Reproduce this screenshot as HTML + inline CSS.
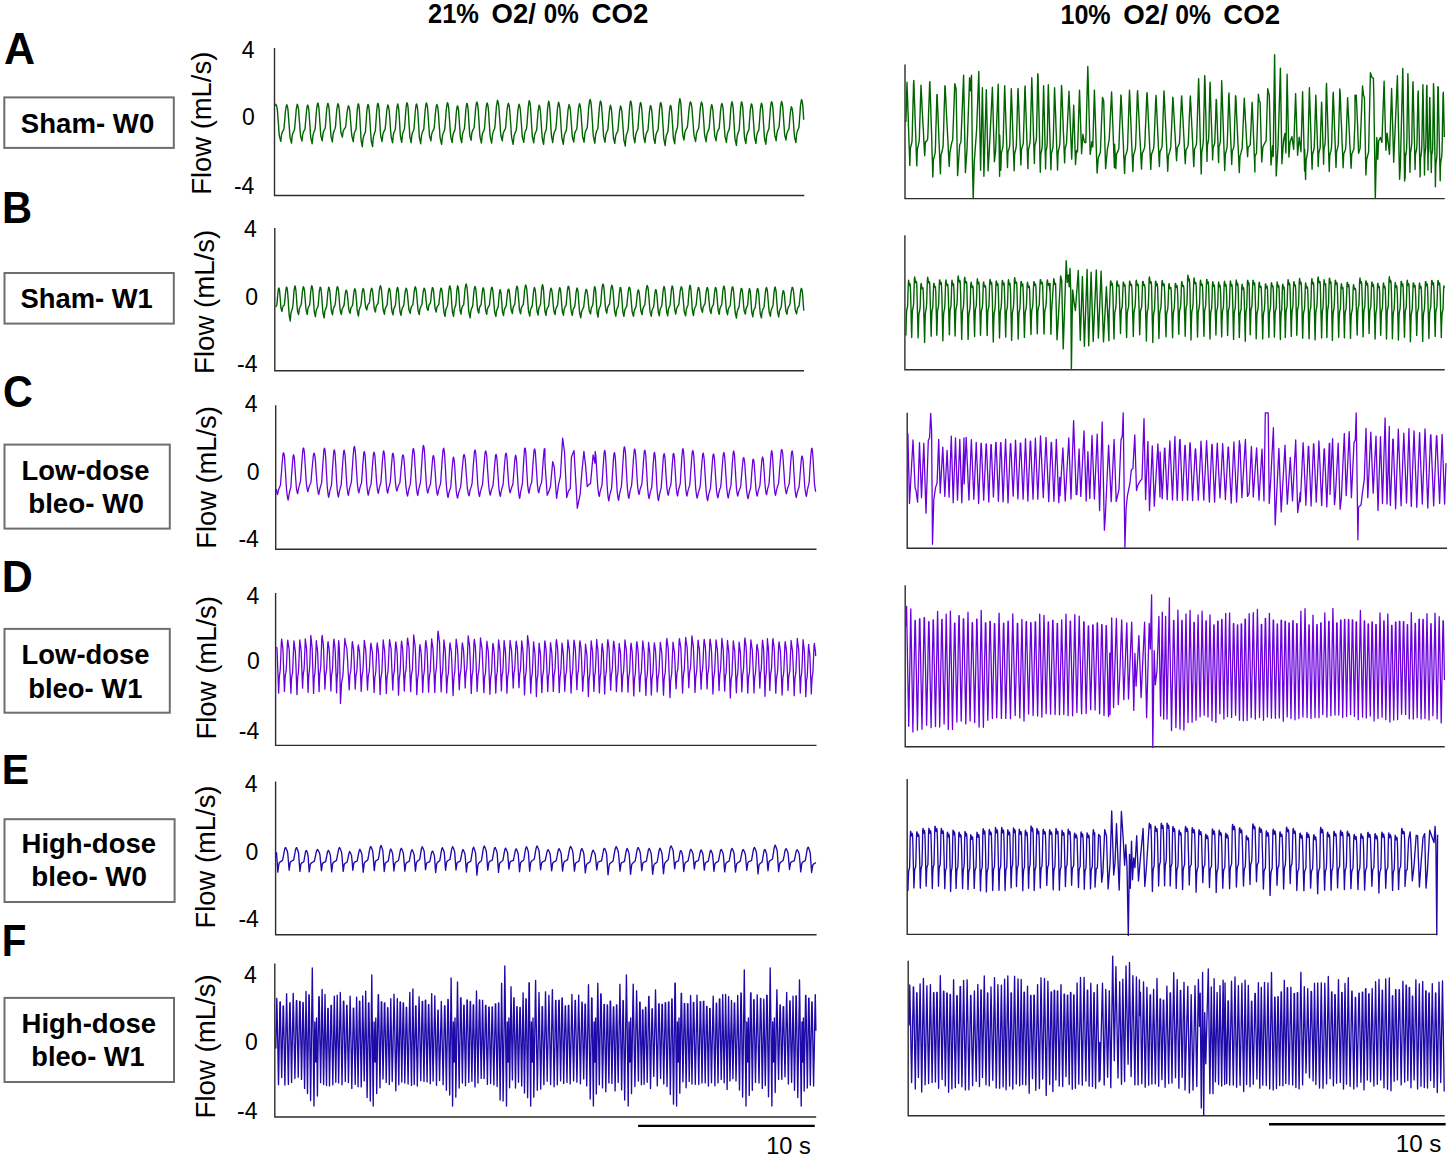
<!DOCTYPE html>
<html><head><meta charset="utf-8"><style>
html,body{margin:0;padding:0;background:#fff;}
svg{display:block;font-family:"Liberation Sans",sans-serif;}
</style></head><body>
<svg width="1450" height="1157" viewBox="0 0 1450 1157">
<rect width="1450" height="1157" fill="#fff"/>
<text x="428.01" y="22.80" font-size="27.5" font-weight="bold" textLength="50.97" lengthAdjust="spacingAndGlyphs" fill="#000" xml:space="preserve">21%</text>
<text x="491.60" y="22.80" font-size="27.5" font-weight="bold" textLength="44.26" lengthAdjust="spacingAndGlyphs" fill="#000" xml:space="preserve">O2/</text>
<text x="543.73" y="22.80" font-size="27.5" font-weight="bold" textLength="34.94" lengthAdjust="spacingAndGlyphs" fill="#000" xml:space="preserve">0%</text>
<text x="591.59" y="22.80" font-size="27.5" font-weight="bold" textLength="56.88" lengthAdjust="spacingAndGlyphs" fill="#000" xml:space="preserve">CO2</text>
<text x="1060.43" y="24.00" font-size="27.5" font-weight="bold" textLength="50.23" lengthAdjust="spacingAndGlyphs" fill="#000" xml:space="preserve">10%</text>
<text x="1123.29" y="24.00" font-size="27.5" font-weight="bold" textLength="44.57" lengthAdjust="spacingAndGlyphs" fill="#000" xml:space="preserve">O2/</text>
<text x="1175.22" y="24.00" font-size="27.5" font-weight="bold" textLength="35.57" lengthAdjust="spacingAndGlyphs" fill="#000" xml:space="preserve">0%</text>
<text x="1223.30" y="24.00" font-size="27.5" font-weight="bold" textLength="56.77" lengthAdjust="spacingAndGlyphs" fill="#000" xml:space="preserve">CO2</text>
<g transform="translate(5.1,64.5) scale(1.0,1.05) translate(-5.1,-64.5)">
<text x="4.02" y="64.50" font-size="43" font-weight="bold" fill="#000" xml:space="preserve">A</text>
</g>
<g transform="translate(4.8,223.5) scale(0.97,1.04) translate(-4.8,-223.5)">
<text x="1.90" y="223.50" font-size="43" font-weight="bold" fill="#000" xml:space="preserve">B</text>
</g>
<g transform="translate(4.6,407.0) scale(0.96,1.02) translate(-4.6,-407.0)">
<text x="2.88" y="407.00" font-size="43" font-weight="bold" fill="#000" xml:space="preserve">C</text>
</g>
<g transform="translate(4.6,592.0) scale(1.0,1.02) translate(-4.6,-592.0)">
<text x="1.70" y="592.00" font-size="43" font-weight="bold" fill="#000" xml:space="preserve">D</text>
</g>
<g transform="translate(4.6,783.6) scale(0.955,1.0) translate(-4.6,-783.6)">
<text x="1.70" y="783.60" font-size="43" font-weight="bold" fill="#000" xml:space="preserve">E</text>
</g>
<g transform="translate(4.6,956.5) scale(0.94,1.03) translate(-4.6,-956.5)">
<text x="1.70" y="956.50" font-size="43" font-weight="bold" fill="#000" xml:space="preserve">F</text>
</g>
<rect x="4.30" y="97.40" width="169.50" height="50.50" fill="none" stroke="#6e6e6e" stroke-width="2"/>
<rect x="4.50" y="273.00" width="169.30" height="50.60" fill="none" stroke="#6e6e6e" stroke-width="2"/>
<rect x="4.50" y="444.60" width="165.30" height="84.00" fill="none" stroke="#6e6e6e" stroke-width="2"/>
<rect x="4.50" y="628.90" width="165.30" height="83.80" fill="none" stroke="#6e6e6e" stroke-width="2"/>
<rect x="4.50" y="819.20" width="170.10" height="82.80" fill="none" stroke="#6e6e6e" stroke-width="2"/>
<rect x="4.50" y="997.90" width="169.50" height="84.10" fill="none" stroke="#6e6e6e" stroke-width="2"/>
<text x="20.87" y="132.90" font-size="27.5" font-weight="bold" textLength="133.38" lengthAdjust="spacingAndGlyphs" fill="#000" xml:space="preserve">Sham- W0</text>
<text x="20.48" y="308.00" font-size="27.5" font-weight="bold" textLength="132.32" lengthAdjust="spacingAndGlyphs" fill="#000" xml:space="preserve">Sham- W1</text>
<text x="21.55" y="479.60" font-size="27.5" font-weight="bold" textLength="127.99" lengthAdjust="spacingAndGlyphs" fill="#000" xml:space="preserve">Low-dose</text>
<text x="28.19" y="513.10" font-size="27.5" font-weight="bold" textLength="115.76" lengthAdjust="spacingAndGlyphs" fill="#000" xml:space="preserve">bleo- W0</text>
<text x="21.55" y="664.20" font-size="27.5" font-weight="bold" textLength="127.99" lengthAdjust="spacingAndGlyphs" fill="#000" xml:space="preserve">Low-dose</text>
<text x="28.22" y="698.00" font-size="27.5" font-weight="bold" textLength="114.28" lengthAdjust="spacingAndGlyphs" fill="#000" xml:space="preserve">bleo- W1</text>
<text x="21.54" y="853.20" font-size="27.5" font-weight="bold" textLength="134.59" lengthAdjust="spacingAndGlyphs" fill="#000" xml:space="preserve">High-dose</text>
<text x="31.29" y="886.30" font-size="27.5" font-weight="bold" textLength="115.76" lengthAdjust="spacingAndGlyphs" fill="#000" xml:space="preserve">bleo- W0</text>
<text x="21.54" y="1032.80" font-size="27.5" font-weight="bold" textLength="134.59" lengthAdjust="spacingAndGlyphs" fill="#000" xml:space="preserve">High-dose</text>
<text x="31.33" y="1065.90" font-size="27.5" font-weight="bold" textLength="113.26" lengthAdjust="spacingAndGlyphs" fill="#000" xml:space="preserve">bleo- W1</text>
<text transform="translate(210.99,194.86) rotate(-90)" x="0" y="0" font-size="27.3" textLength="143.20" lengthAdjust="spacingAndGlyphs" xml:space="preserve">Flow (mL/s)</text>
<text transform="translate(214.29,373.98) rotate(-90)" x="0" y="0" font-size="27.3" textLength="144.23" lengthAdjust="spacingAndGlyphs" xml:space="preserve">Flow (mL/s)</text>
<text transform="translate(215.79,548.75) rotate(-90)" x="0" y="0" font-size="27.3" textLength="142.59" lengthAdjust="spacingAndGlyphs" xml:space="preserve">Flow (mL/s)</text>
<text transform="translate(216.39,739.57) rotate(-90)" x="0" y="0" font-size="27.3" textLength="143.61" lengthAdjust="spacingAndGlyphs" xml:space="preserve">Flow (mL/s)</text>
<text transform="translate(215.29,928.46) rotate(-90)" x="0" y="0" font-size="27.3" textLength="142.89" lengthAdjust="spacingAndGlyphs" xml:space="preserve">Flow (mL/s)</text>
<text transform="translate(215.29,1118.48) rotate(-90)" x="0" y="0" font-size="27.3" textLength="144.23" lengthAdjust="spacingAndGlyphs" xml:space="preserve">Flow (mL/s)</text>
<text x="241.87" y="58.00" font-size="23" font-weight="normal">4</text>
<text x="242.10" y="125.40" font-size="23" font-weight="normal">0</text>
<text x="233.92" y="193.50" font-size="23" font-weight="normal">-4</text>
<text x="243.97" y="237.00" font-size="23" font-weight="normal">4</text>
<text x="245.30" y="304.60" font-size="23" font-weight="normal">0</text>
<text x="237.02" y="372.00" font-size="23" font-weight="normal">-4</text>
<text x="244.87" y="412.30" font-size="23" font-weight="normal">4</text>
<text x="246.70" y="479.80" font-size="23" font-weight="normal">0</text>
<text x="238.42" y="547.10" font-size="23" font-weight="normal">-4</text>
<text x="246.47" y="603.60" font-size="23" font-weight="normal">4</text>
<text x="246.90" y="669.30" font-size="23" font-weight="normal">0</text>
<text x="238.82" y="738.60" font-size="23" font-weight="normal">-4</text>
<text x="244.87" y="791.80" font-size="23" font-weight="normal">4</text>
<text x="245.60" y="859.50" font-size="23" font-weight="normal">0</text>
<text x="238.42" y="926.80" font-size="23" font-weight="normal">-4</text>
<text x="244.07" y="983.00" font-size="23" font-weight="normal">4</text>
<text x="245.00" y="1049.70" font-size="23" font-weight="normal">0</text>
<text x="237.12" y="1118.70" font-size="23" font-weight="normal">-4</text>
<path d="M274.50 48.00V195.50H804.30" fill="none" stroke="#2d2d2d" stroke-width="1.4"/>
<path d="M274.80 228.00V370.80H804.10" fill="none" stroke="#2d2d2d" stroke-width="1.4"/>
<path d="M275.70 405.30V549.20H816.50" fill="none" stroke="#2d2d2d" stroke-width="1.4"/>
<path d="M275.60 593.00V745.40H816.50" fill="none" stroke="#2d2d2d" stroke-width="1.4"/>
<path d="M275.60 781.40V934.80H816.60" fill="none" stroke="#2d2d2d" stroke-width="1.4"/>
<path d="M274.80 963.50V1117.00H816.20" fill="none" stroke="#2d2d2d" stroke-width="1.4"/>
<path d="M905.00 64.40V198.60H1444.70" fill="none" stroke="#2d2d2d" stroke-width="1.4"/>
<path d="M904.90 235.30V369.70H1444.70" fill="none" stroke="#2d2d2d" stroke-width="1.4"/>
<path d="M907.20 412.80V548.30H1447.00" fill="none" stroke="#2d2d2d" stroke-width="1.4"/>
<path d="M905.20 585.20V746.80H1444.70" fill="none" stroke="#2d2d2d" stroke-width="1.4"/>
<path d="M907.20 778.90V934.40H1437.20" fill="none" stroke="#2d2d2d" stroke-width="1.4"/>
<path d="M908.20 960.70V1115.70H1444.70" fill="none" stroke="#2d2d2d" stroke-width="1.4"/>
<path d="M638.1 1125.9H814.8M1269 1124.3H1445.6" stroke="#000" stroke-width="2.4"/>
<text x="766.23" y="1153.60" font-size="23.5" font-weight="normal" textLength="44.60" lengthAdjust="spacingAndGlyphs" fill="#000" xml:space="preserve">10 s</text>
<text x="1395.79" y="1151.70" font-size="23.5" font-weight="normal" textLength="45.66" lengthAdjust="spacingAndGlyphs" fill="#000" xml:space="preserve">10 s</text>
<path d="M275.6 106.0 275.9 104.2 276.3 105.0 276.6 105.8 277.0 107.5 277.3 109.5 277.7 113.9 278.0 118.6 278.4 123.2 278.7 127.9 279.0 132.6 279.4 136.1 279.7 137.4 280.1 138.8 280.4 140.1 280.8 141.4 281.1 138.6 281.4 135.7 281.8 133.7 282.1 132.8 282.4 132.0 282.8 131.1 283.1 130.6 283.4 130.0 283.8 129.5 284.1 127.6 284.4 123.6 284.8 119.6 285.1 115.7 285.4 111.7 285.8 109.0 286.1 107.2 286.4 105.5 286.8 104.7 287.1 105.6 287.4 106.6 287.8 108.6 288.1 111.2 288.4 115.9 288.8 120.6 289.1 125.2 289.5 129.9 289.8 134.6 290.1 137.7 290.5 139.1 290.8 140.4 291.1 141.7 291.5 143.1 291.8 139.9 292.1 136.7 292.5 134.6 292.8 133.6 293.2 132.5 293.5 131.7 293.8 131.0 294.2 130.3 294.5 129.7 294.8 126.5 295.2 122.3 295.5 118.1 295.9 113.9 296.2 109.8 296.5 108.0 296.9 106.1 297.2 104.3 297.6 105.1 297.9 105.9 298.2 107.7 298.6 109.7 298.9 114.2 299.2 118.8 299.6 123.5 299.9 128.1 300.3 132.7 300.6 136.2 300.9 137.4 301.3 138.6 301.6 139.8 302.0 141.0 302.3 138.1 302.6 135.1 303.0 133.4 303.3 132.5 303.7 131.5 304.0 130.8 304.3 130.3 304.7 129.7 305.0 129.2 305.3 125.0 305.7 120.8 306.0 116.6 306.4 112.4 306.7 109.3 307.0 107.4 307.4 105.5 307.7 105.0 308.1 106.0 308.4 107.3 308.7 109.5 309.1 113.3 309.4 118.3 309.8 123.3 310.1 128.4 310.4 133.4 310.8 137.8 311.1 139.3 311.5 140.7 311.8 142.2 312.1 143.7 312.5 140.2 312.8 136.7 313.1 134.6 313.5 133.4 313.8 132.3 314.1 131.4 314.5 130.6 314.8 129.9 315.1 129.2 315.5 124.5 315.8 119.9 316.1 115.4 316.5 110.8 316.8 107.5 317.2 105.5 317.5 103.5 317.8 103.0 318.2 103.9 318.5 105.4 318.8 107.6 319.2 111.5 319.5 116.5 319.8 121.6 320.2 126.6 320.5 131.5 320.8 135.8 321.2 137.1 321.5 138.4 321.8 139.7 322.2 140.9 322.5 137.8 322.9 134.7 323.2 132.8 323.5 131.8 323.9 130.8 324.2 130.1 324.6 129.4 324.9 128.8 325.2 128.2 325.6 123.9 325.9 119.6 326.2 115.2 326.6 110.9 326.9 107.7 327.3 105.8 327.6 103.9 327.9 103.4 328.3 104.3 328.6 105.7 329.0 107.9 329.3 111.7 329.6 116.8 330.0 121.8 330.3 126.9 330.7 131.9 331.0 136.3 331.3 137.7 331.7 139.1 332.0 140.5 332.4 141.9 332.7 138.5 333.0 135.0 333.4 133.1 333.7 132.0 334.1 130.8 334.4 130.0 334.8 129.2 335.1 128.4 335.5 126.6 335.8 122.2 336.1 117.8 336.5 113.5 336.8 109.2 337.2 107.2 337.5 105.3 337.9 103.6 338.2 104.4 338.6 105.3 338.9 107.3 339.2 110.1 339.6 114.7 339.9 119.3 340.3 123.9 340.6 128.4 341.0 132.7 341.3 133.8 341.7 134.9 342.0 136.0 342.3 137.1 342.7 134.7 343.0 132.4 343.4 130.8 343.7 130.1 344.1 129.4 344.4 128.7 344.7 128.3 345.1 127.9 345.4 127.5 345.8 125.9 346.1 122.5 346.4 119.0 346.8 115.5 347.1 112.0 347.5 109.6 347.8 108.1 348.2 106.5 348.5 105.8 348.8 106.6 349.2 107.5 349.5 109.3 349.9 111.7 350.2 116.0 350.5 120.3 350.9 124.6 351.2 129.0 351.6 133.4 351.9 136.3 352.3 137.6 352.6 139.0 352.9 140.3 353.3 141.7 353.6 138.1 354.0 134.6 354.3 133.3 354.7 132.3 355.0 131.3 355.4 130.7 355.7 130.1 356.1 128.5 356.4 123.4 356.7 118.2 357.1 113.0 357.4 108.6 357.8 106.2 358.1 103.9 358.5 103.9 358.8 105.1 359.2 107.6 359.5 111.5 359.9 117.8 360.2 124.2 360.6 130.7 360.9 137.2 361.2 140.8 361.6 142.8 361.9 144.8 362.3 146.7 362.6 143.2 363.0 139.6 363.3 137.5 363.7 136.3 364.0 135.2 364.3 134.3 364.7 133.6 365.0 132.9 365.4 132.2 365.7 127.3 366.1 122.5 366.4 117.6 366.7 112.8 367.1 109.3 367.4 107.1 367.8 105.0 368.1 104.4 368.5 105.5 368.8 107.0 369.1 109.4 369.5 113.7 369.8 119.2 370.2 124.7 370.5 130.3 370.9 135.8 371.2 140.5 371.5 142.0 371.9 143.5 372.2 145.1 372.6 146.6 372.9 142.5 373.2 138.5 373.6 136.4 373.9 135.1 374.3 133.7 374.6 132.8 374.9 131.9 375.3 131.0 375.6 127.5 375.9 122.3 376.3 117.1 376.6 112.0 377.0 108.1 377.3 105.8 377.6 103.6 378.0 103.4 378.3 104.4 378.7 106.3 379.0 108.7 379.3 114.1 379.7 119.6 380.0 125.1 380.3 130.5 380.7 135.8 381.0 137.5 381.4 138.8 381.7 140.2 382.0 141.5 382.4 138.6 382.7 135.6 383.1 133.7 383.4 132.8 383.7 131.9 384.1 131.1 384.4 130.6 384.8 130.0 385.1 129.4 385.4 126.4 385.8 122.4 386.1 118.3 386.5 114.3 386.8 110.3 387.1 108.5 387.5 106.7 387.8 104.9 388.2 105.6 388.5 106.5 388.8 108.3 389.2 110.3 389.5 114.8 389.9 119.5 390.2 124.2 390.5 129.0 390.9 133.7 391.2 137.3 391.6 138.7 391.9 140.0 392.2 141.4 392.6 142.7 392.9 139.1 393.3 135.5 393.6 133.9 393.9 132.8 394.3 131.7 394.6 131.0 395.0 130.2 395.3 129.5 395.6 125.0 396.0 120.1 396.3 115.3 396.6 110.4 397.0 107.8 397.3 105.7 397.7 104.0 398.0 105.0 398.3 106.4 398.7 108.8 399.0 113.2 399.4 118.7 399.7 124.3 400.0 129.9 400.4 135.4 400.7 137.8 401.0 139.3 401.4 140.8 401.7 142.4 402.1 138.8 402.4 135.2 402.7 133.5 403.1 132.3 403.4 131.2 403.7 130.5 404.1 129.7 404.4 129.0 404.7 125.8 405.1 120.9 405.4 116.0 405.8 111.1 406.1 107.3 406.4 105.2 406.8 103.0 407.1 102.8 407.4 103.8 407.8 105.7 408.1 108.1 408.4 113.6 408.8 119.2 409.1 124.9 409.5 130.5 409.8 136.1 410.1 138.0 410.5 139.6 410.8 141.1 411.1 142.7 411.5 139.2 411.8 135.7 412.2 134.0 412.5 132.9 412.8 131.8 413.2 131.1 413.5 130.5 413.9 129.8 414.2 126.6 414.5 121.8 414.9 117.0 415.2 112.2 415.6 108.4 415.9 106.3 416.3 104.2 416.6 103.9 416.9 104.9 417.3 106.8 417.6 109.2 418.0 114.7 418.3 120.2 418.7 125.8 419.0 131.4 419.3 137.1 419.7 139.0 420.0 140.5 420.4 142.1 420.7 143.7 421.0 140.2 421.4 136.7 421.7 134.6 422.1 133.4 422.4 132.2 422.7 131.3 423.1 130.6 423.4 129.9 423.8 129.1 424.1 124.5 424.4 119.9 424.8 115.3 425.1 110.7 425.5 107.5 425.8 105.5 426.1 103.5 426.5 103.0 426.8 103.9 427.1 105.3 427.5 107.5 427.8 111.4 428.2 116.5 428.5 121.5 428.8 126.5 429.2 131.5 429.5 135.7 429.9 137.0 430.2 138.3 430.5 139.6 430.9 140.9 431.2 138.1 431.5 135.3 431.9 133.4 432.2 132.5 432.5 131.7 432.9 130.9 433.2 130.4 433.5 129.9 433.9 129.4 434.2 127.5 434.6 123.5 434.9 119.5 435.2 115.5 435.6 111.5 435.9 108.8 436.2 107.0 436.6 105.2 436.9 104.5 437.2 105.4 437.6 106.4 437.9 108.4 438.2 111.1 438.6 115.9 438.9 120.7 439.2 125.6 439.6 130.4 439.9 135.3 440.2 138.5 440.6 139.9 440.9 141.4 441.2 142.8 441.6 144.3 441.9 140.8 442.3 137.4 442.6 135.2 442.9 134.1 443.3 133.0 443.6 132.0 444.0 131.3 444.3 130.6 444.6 129.9 445.0 126.5 445.3 122.0 445.7 117.4 446.0 112.9 446.4 108.5 446.7 106.6 447.0 104.6 447.4 102.6 447.7 103.4 448.1 104.3 448.4 106.2 448.7 108.4 449.1 113.2 449.4 118.3 449.8 123.3 450.1 128.4 450.5 133.4 450.8 137.1 451.1 138.5 451.5 139.8 451.8 141.1 452.2 142.5 452.5 139.1 452.8 135.8 453.2 134.2 453.5 133.2 453.9 132.1 454.2 131.4 454.5 130.8 454.9 130.1 455.2 127.2 455.6 122.6 455.9 118.1 456.2 113.6 456.6 110.1 456.9 108.1 457.3 106.1 457.6 105.9 457.9 106.8 458.3 108.6 458.6 110.8 458.9 115.9 459.3 121.1 459.6 126.2 460.0 131.4 460.3 136.6 460.6 138.3 461.0 139.7 461.3 141.2 461.7 142.6 462.0 139.0 462.3 135.4 462.7 133.6 463.0 132.4 463.3 131.2 463.7 130.5 464.0 129.7 464.3 128.9 464.7 125.8 465.0 121.0 465.4 116.2 465.7 111.5 466.0 107.8 466.4 105.8 466.7 103.7 467.0 103.5 467.4 104.4 467.7 106.2 468.0 108.5 468.4 113.7 468.7 118.9 469.0 124.1 469.4 129.4 469.7 134.5 470.0 136.2 470.4 137.6 470.7 138.9 471.1 140.3 471.4 137.1 471.7 134.0 472.1 132.1 472.4 131.2 472.8 130.2 473.1 129.4 473.5 128.8 473.8 128.2 474.1 127.6 474.5 123.2 474.8 118.8 475.2 114.3 475.5 109.8 475.9 106.5 476.2 104.5 476.6 102.5 476.9 102.0 477.2 103.0 477.6 104.5 477.9 106.7 478.3 110.8 478.6 116.1 479.0 121.4 479.3 126.8 479.6 132.1 480.0 136.7 480.3 138.3 480.7 139.8 481.0 141.4 481.4 143.0 481.7 139.6 482.1 136.2 482.4 134.2 482.7 133.2 483.1 132.1 483.4 131.3 483.8 130.6 484.1 129.9 484.4 129.2 484.8 124.7 485.1 120.1 485.5 115.5 485.8 110.9 486.2 107.6 486.5 105.6 486.8 103.6 487.2 103.0 487.5 104.0 487.9 105.5 488.2 107.7 488.6 111.8 488.9 117.0 489.2 122.3 489.6 127.5 489.9 132.7 490.3 137.2 490.6 138.7 491.0 140.1 491.3 141.6 491.6 143.0 492.0 139.5 492.3 136.0 492.7 133.7 493.0 132.6 493.4 131.4 493.7 130.4 494.0 129.7 494.4 129.0 494.7 128.3 495.1 124.8 495.4 120.1 495.7 115.5 496.1 110.9 496.4 106.4 496.8 104.3 497.1 102.3 497.5 100.3 497.8 101.1 498.1 102.1 498.5 104.0 498.8 106.2 499.2 111.2 499.5 116.3 499.9 121.5 500.2 126.6 500.5 131.7 500.9 135.5 501.2 136.8 501.6 138.2 501.9 139.5 502.3 140.9 502.6 138.0 502.9 135.1 503.3 133.1 503.6 132.2 504.0 131.4 504.3 130.6 504.6 130.0 505.0 129.5 505.3 129.0 505.7 127.0 506.0 122.9 506.3 118.8 506.7 114.7 507.0 110.5 507.4 107.7 507.7 105.9 508.0 104.0 508.4 103.3 508.7 104.2 509.1 105.2 509.4 107.3 509.7 110.1 510.1 115.1 510.4 120.0 510.8 125.0 511.1 130.0 511.4 135.0 511.8 138.4 512.1 139.8 512.5 141.3 512.8 142.8 513.1 144.3 513.5 141.0 513.8 137.7 514.2 135.5 514.5 134.5 514.9 133.4 515.2 132.5 515.5 131.8 515.9 131.1 516.2 130.4 516.6 127.1 516.9 122.7 517.3 118.4 517.6 114.0 517.9 109.8 518.3 107.9 518.6 106.0 519.0 104.1 519.3 104.9 519.6 105.8 520.0 107.6 520.3 109.7 520.7 114.3 521.0 119.2 521.4 124.0 521.7 128.8 522.0 133.6 522.4 137.2 522.7 138.5 523.1 139.8 523.4 141.0 523.8 142.3 524.1 138.7 524.4 135.1 524.8 133.2 525.1 132.1 525.5 130.9 525.8 130.1 526.2 129.4 526.5 128.7 526.8 126.7 527.2 121.8 527.5 116.9 527.9 112.0 528.2 107.1 528.6 104.8 528.9 102.6 529.2 100.6 529.6 101.6 529.9 102.7 530.3 105.1 530.6 108.4 531.0 114.1 531.3 119.8 531.6 125.4 532.0 131.1 532.3 136.6 532.7 138.1 533.0 139.7 533.4 141.3 533.7 142.9 534.0 139.7 534.4 136.4 534.7 134.7 535.1 133.7 535.4 132.7 535.7 132.0 536.1 131.4 536.4 130.7 536.8 129.0 537.1 124.5 537.4 120.0 537.8 115.5 538.1 111.0 538.5 108.9 538.8 106.9 539.1 105.1 539.5 106.1 539.8 107.0 540.2 109.3 540.5 112.3 540.8 117.5 541.2 122.8 541.5 128.0 541.9 133.3 542.2 138.3 542.6 139.8 542.9 141.3 543.2 142.8 543.6 144.3 543.9 140.2 544.3 136.2 544.6 134.4 544.9 133.1 545.3 131.8 545.6 131.0 545.9 130.2 546.3 129.3 546.6 124.4 547.0 119.0 547.3 113.6 547.6 108.3 548.0 105.5 548.3 103.1 548.7 101.3 549.0 102.4 549.3 103.9 549.7 106.5 550.0 111.3 550.4 117.3 550.7 123.3 551.0 129.2 551.4 135.2 551.7 137.7 552.1 139.3 552.4 140.9 552.7 142.5 553.1 139.3 553.4 136.1 553.8 134.0 554.1 133.0 554.4 132.0 554.8 131.2 555.1 130.6 555.5 130.0 555.8 129.3 556.1 126.0 556.5 121.6 556.8 117.1 557.2 112.6 557.5 108.3 557.8 106.3 558.2 104.3 558.5 102.3 558.9 103.1 559.2 104.1 559.5 106.0 559.9 108.3 560.2 113.2 560.6 118.5 560.9 123.7 561.2 129.0 561.6 134.3 561.9 138.2 562.3 139.7 562.6 141.2 563.0 142.7 563.3 144.3 563.6 141.0 564.0 137.7 564.3 135.6 564.6 134.5 565.0 133.4 565.3 132.5 565.6 131.8 566.0 131.2 566.3 130.5 566.7 127.2 567.0 122.9 567.3 118.6 567.7 114.3 568.0 110.2 568.3 108.3 568.7 106.4 569.0 104.5 569.3 105.3 569.7 106.2 570.0 108.0 570.4 110.0 570.7 114.6 571.0 119.3 571.4 124.1 571.7 128.8 572.0 133.5 572.4 137.0 572.7 138.3 573.0 139.5 573.4 140.8 573.7 142.0 574.1 138.8 574.4 135.6 574.7 133.6 575.1 132.6 575.4 131.6 575.8 130.8 576.1 130.2 576.5 129.5 576.8 128.9 577.2 124.5 577.5 120.1 577.8 115.7 578.2 111.3 578.5 108.2 578.9 106.2 579.2 104.3 579.6 103.8 579.9 104.7 580.2 106.1 580.6 108.3 580.9 112.2 581.3 117.2 581.6 122.2 582.0 127.3 582.3 132.3 582.6 136.6 583.0 138.0 583.3 139.4 583.7 140.8 584.0 142.2 584.4 138.9 584.7 135.5 585.0 133.2 585.4 132.1 585.7 131.1 586.0 130.1 586.4 129.4 586.7 128.8 587.1 128.1 587.4 125.9 587.7 121.3 588.1 116.6 588.4 112.0 588.7 107.4 589.1 104.3 589.4 102.3 589.8 100.2 590.1 99.4 590.4 100.4 590.8 101.6 591.1 103.8 591.4 106.9 591.8 112.2 592.1 117.5 592.5 122.9 592.8 128.3 593.1 133.6 593.5 137.1 593.8 138.6 594.1 140.2 594.5 141.7 594.8 143.2 595.2 139.6 595.5 136.0 595.8 133.9 596.2 132.8 596.5 131.6 596.8 130.7 597.2 130.0 597.5 129.3 597.9 128.5 598.2 123.7 598.5 118.9 598.9 114.1 599.2 109.4 599.6 105.9 599.9 103.8 600.2 101.7 600.6 101.1 600.9 102.1 601.3 103.7 601.6 106.0 601.9 110.2 602.3 115.6 602.6 121.0 603.0 126.4 603.3 131.8 603.6 136.4 604.0 137.9 604.3 139.3 604.6 140.8 605.0 142.2 605.3 139.1 605.7 135.9 606.0 134.2 606.3 133.2 606.7 132.2 607.0 131.5 607.3 130.9 607.7 130.3 608.0 128.6 608.3 124.2 608.7 119.8 609.0 115.5 609.4 111.1 609.7 109.0 610.0 107.1 610.4 105.3 610.7 106.2 611.0 107.2 611.4 109.3 611.7 112.3 612.0 117.4 612.4 122.5 612.7 127.5 613.1 132.6 613.4 137.5 613.7 139.0 614.1 140.4 614.4 141.8 614.7 143.3 615.1 140.3 615.4 137.4 615.8 135.5 616.1 134.6 616.4 133.7 616.8 132.9 617.1 132.4 617.5 131.8 617.8 131.3 618.1 128.2 618.5 124.1 618.8 119.9 619.2 115.7 619.5 111.6 619.8 109.8 620.2 107.9 620.5 106.0 620.9 106.8 621.2 107.7 621.5 109.5 621.9 111.6 622.2 116.4 622.6 121.3 622.9 126.3 623.3 131.3 623.6 136.3 623.9 140.2 624.3 141.6 624.6 143.1 625.0 144.5 625.3 146.0 625.6 141.8 626.0 137.7 626.3 135.6 626.7 134.3 627.0 132.9 627.4 132.0 627.7 131.1 628.0 130.2 628.4 126.6 628.7 121.1 629.1 115.7 629.4 110.3 629.8 106.1 630.1 103.8 630.4 101.4 630.8 101.1 631.1 102.3 631.5 104.3 631.8 106.9 632.2 112.7 632.5 118.7 632.9 124.6 633.2 130.5 633.5 136.4 633.9 138.2 634.2 139.8 634.6 141.3 634.9 142.8 635.2 139.4 635.6 136.0 635.9 134.0 636.3 132.9 636.6 131.8 636.9 131.0 637.3 130.3 637.6 129.6 637.9 128.9 638.3 124.3 638.6 119.7 638.9 115.1 639.3 110.5 639.6 107.2 640.0 105.2 640.3 103.1 640.6 102.6 641.0 103.6 641.3 105.0 641.6 107.3 642.0 111.4 642.3 116.6 642.6 121.8 643.0 127.1 643.3 132.3 643.7 136.8 644.0 138.3 644.3 139.7 644.7 141.1 645.0 142.6 645.3 139.5 645.7 136.4 646.0 134.6 646.3 133.6 646.7 132.6 647.0 131.9 647.3 131.3 647.7 130.6 648.0 130.0 648.3 125.8 648.7 121.5 649.0 117.3 649.3 113.0 649.7 109.9 650.0 108.0 650.3 106.1 650.7 105.7 651.0 106.6 651.3 107.9 651.7 110.1 652.0 113.9 652.4 118.8 652.7 123.7 653.0 128.7 653.4 133.6 653.7 137.9 654.0 139.3 654.4 140.7 654.7 142.0 655.0 143.4 655.4 140.1 655.7 136.7 656.0 134.7 656.4 133.6 656.7 132.6 657.1 131.7 657.4 131.1 657.7 130.4 658.1 129.8 658.4 125.1 658.8 120.3 659.1 115.6 659.4 110.8 659.8 107.4 660.1 105.3 660.4 103.1 660.8 102.6 661.1 103.6 661.5 105.2 661.8 107.5 662.1 111.8 662.5 117.4 662.8 123.0 663.2 128.6 663.5 134.3 663.8 139.1 664.2 140.7 664.5 142.3 664.8 143.9 665.2 145.5 665.5 141.9 665.9 138.2 666.2 136.4 666.5 135.2 666.9 134.0 667.2 133.2 667.6 132.4 667.9 131.6 668.2 128.4 668.6 123.5 668.9 118.6 669.3 113.7 669.6 110.0 669.9 107.8 670.3 105.7 670.6 105.4 671.0 106.4 671.3 108.3 671.6 110.7 672.0 116.0 672.3 121.4 672.7 126.9 673.0 132.3 673.3 137.7 673.7 139.4 674.0 140.9 674.4 142.3 674.7 143.7 675.0 139.4 675.4 135.1 675.7 133.3 676.1 131.8 676.4 130.5 676.8 129.6 677.1 128.6 677.4 127.7 677.8 122.6 678.1 117.0 678.5 111.4 678.8 105.9 679.1 103.0 679.5 100.6 679.8 98.7 680.2 99.9 680.5 101.4 680.9 104.0 681.2 108.9 681.5 114.9 681.9 121.0 682.2 127.0 682.6 132.9 682.9 135.4 683.2 137.0 683.6 138.5 683.9 140.0 684.3 137.3 684.6 134.6 684.9 132.2 685.3 131.4 685.6 130.5 685.9 129.7 686.3 129.0 686.6 128.5 686.9 128.0 687.3 127.5 687.6 125.3 687.9 121.6 688.3 117.8 688.6 114.0 688.9 110.2 689.3 107.0 689.6 105.3 689.9 103.6 690.3 101.9 690.6 102.1 690.9 102.9 691.3 104.0 691.6 105.9 692.0 108.3 692.3 112.7 692.6 117.1 693.0 121.5 693.3 126.0 693.6 130.4 694.0 134.9 694.3 136.4 694.6 137.7 695.0 139.0 695.3 140.2 695.6 141.5 696.0 138.3 696.3 135.1 696.6 133.0 697.0 132.0 697.3 131.0 697.7 130.1 698.0 129.5 698.3 128.9 698.7 128.2 699.0 125.0 699.4 120.6 699.7 116.3 700.0 111.9 700.4 107.7 700.7 105.8 701.1 103.8 701.4 101.9 701.7 102.7 702.1 103.6 702.4 105.5 702.7 107.6 703.1 112.4 703.4 117.4 703.8 122.4 704.1 127.4 704.4 132.4 704.8 136.2 705.1 137.5 705.5 138.9 705.8 140.3 706.1 141.7 706.5 138.5 706.8 135.2 707.2 133.5 707.5 132.5 707.9 131.4 708.2 130.7 708.5 130.0 708.9 129.4 709.2 127.6 709.6 123.3 709.9 118.9 710.3 114.6 710.6 110.3 710.9 108.3 711.3 106.4 711.6 104.6 712.0 105.5 712.3 106.4 712.6 108.5 713.0 111.4 713.3 116.3 713.7 121.2 714.0 126.1 714.4 130.9 714.7 135.6 715.0 136.9 715.4 138.2 715.7 139.5 716.1 140.8 716.4 137.7 716.8 134.6 717.1 132.8 717.5 131.8 717.8 130.9 718.1 130.1 718.5 129.5 718.8 128.9 719.2 128.3 719.5 124.0 719.9 119.7 720.2 115.4 720.5 111.1 720.9 108.0 721.2 106.0 721.6 104.1 721.9 103.6 722.3 104.5 722.6 105.9 723.0 108.1 723.3 112.0 723.6 117.1 724.0 122.1 724.3 127.2 724.7 132.3 725.0 136.7 725.4 138.1 725.7 139.6 726.1 141.1 726.4 142.5 726.7 139.1 727.1 135.6 727.4 133.8 727.8 132.7 728.1 131.7 728.5 130.9 728.8 130.3 729.1 129.6 729.5 127.7 729.8 122.9 730.2 118.0 730.5 113.1 730.9 108.2 731.2 105.9 731.5 103.7 731.9 101.7 732.2 102.7 732.6 103.8 732.9 106.2 733.3 109.6 733.6 115.4 733.9 121.2 734.3 127.1 734.6 133.0 735.0 138.6 735.3 140.3 735.7 142.0 736.0 143.7 736.4 145.4 736.7 141.4 737.0 137.4 737.4 135.5 737.7 134.2 738.0 132.9 738.4 132.0 738.7 131.2 739.1 130.4 739.4 126.9 739.7 121.5 740.1 116.2 740.4 111.0 740.7 106.9 741.1 104.6 741.4 102.2 741.8 102.0 742.1 103.1 742.4 105.1 742.8 107.6 743.1 113.4 743.5 119.3 743.8 125.2 744.1 131.1 744.5 136.9 744.8 138.9 745.1 140.4 745.5 142.0 745.8 143.5 746.2 140.2 746.5 136.8 746.8 134.8 747.2 133.8 747.5 132.7 747.8 131.9 748.2 131.2 748.5 130.5 748.9 129.8 749.2 125.3 749.5 120.8 749.9 116.2 750.2 111.7 750.5 108.4 750.9 106.4 751.2 104.4 751.5 103.9 751.9 104.8 752.2 106.3 752.6 108.5 752.9 112.5 753.2 117.7 753.6 122.9 753.9 128.1 754.2 133.2 754.6 137.7 754.9 139.1 755.3 140.5 755.6 141.9 755.9 143.4 756.3 139.9 756.6 136.4 757.0 134.6 757.3 133.5 757.6 132.4 758.0 131.6 758.3 131.0 758.7 130.3 759.0 128.4 759.3 123.6 759.7 118.9 760.0 114.1 760.4 109.4 760.7 107.1 761.1 105.0 761.4 103.1 761.7 104.1 762.1 105.1 762.4 107.5 762.8 110.7 763.1 116.2 763.4 121.7 763.8 127.2 764.1 132.7 764.5 138.0 764.8 139.5 765.1 141.1 765.5 142.6 765.8 144.2 766.2 140.5 766.5 136.8 766.9 134.6 767.2 133.4 767.5 132.2 767.9 131.2 768.2 130.4 768.6 129.6 768.9 128.9 769.3 124.0 769.6 119.3 770.0 114.5 770.3 109.8 770.6 106.4 771.0 104.3 771.3 102.2 771.7 101.7 772.0 102.6 772.4 104.1 772.7 106.4 773.1 110.4 773.4 115.6 773.7 120.8 774.1 126.0 774.4 131.1 774.8 135.4 775.1 136.8 775.5 138.1 775.8 139.4 776.1 140.7 776.5 137.3 776.8 133.9 777.2 132.1 777.5 131.0 777.8 129.9 778.2 129.1 778.5 128.4 778.9 127.7 779.2 125.8 779.5 121.2 779.9 116.7 780.2 112.1 780.5 107.5 780.9 105.3 781.2 103.3 781.6 101.4 781.9 102.4 782.2 103.4 782.6 105.6 782.9 108.7 783.2 113.9 783.6 119.1 783.9 124.3 784.3 129.5 784.6 134.5 784.9 135.9 785.3 137.3 785.6 138.7 785.9 140.1 786.3 137.3 786.6 134.5 787.0 133.0 787.3 132.2 787.6 131.3 788.0 130.7 788.3 130.2 788.7 129.6 789.0 128.1 789.4 124.1 789.7 120.1 790.0 116.1 790.4 112.1 790.7 110.2 791.1 108.5 791.4 106.8 791.8 107.7 792.1 108.5 792.4 110.5 792.8 113.3 793.1 118.0 793.5 122.8 793.8 127.6 794.1 132.3 794.5 136.9 794.8 138.3 795.2 139.7 795.5 141.1 795.9 142.5 796.2 138.9 796.5 135.2 796.9 133.1 797.2 131.9 797.6 130.7 797.9 129.8 798.2 129.0 798.6 128.3 798.9 127.5 799.3 122.7 799.6 117.8 800.0 112.9 800.3 108.1 800.6 104.6 801.0 102.4 801.3 100.3 801.7 99.7 802.0 100.7 802.3 102.3 802.7 104.6 803.0 108.9 803.4 114.4 803.7 119.8" fill="none" stroke="#006400" stroke-width="1.4" stroke-linejoin="round"/>
<path d="M905.9 122.0 906.2 112.0 906.5 102.1 906.7 92.2 907.0 82.3 907.2 88.7 907.5 96.5 907.8 104.2 908.0 112.0 908.3 119.7 908.5 127.3 908.8 135.0 909.0 142.6 909.3 150.2 909.6 157.8 909.8 165.4 910.1 157.3 910.3 149.2 910.6 147.2 910.8 146.4 911.1 145.6 911.3 144.6 911.6 143.5 911.8 142.3 912.0 141.2 912.3 133.0 912.5 123.3 912.8 113.5 913.0 103.8 913.3 94.0 913.5 84.2 913.8 80.4 914.1 88.2 914.3 95.9 914.6 103.7 914.9 111.5 915.1 119.2 915.4 127.0 915.7 134.8 916.0 142.6 916.2 150.4 916.5 158.1 916.8 165.9 917.0 159.1 917.2 152.3 917.5 148.6 917.7 147.7 917.9 146.8 918.2 145.9 918.4 144.8 918.6 143.7 918.9 142.5 919.1 141.4 919.4 137.2 919.6 129.6 919.8 122.0 920.1 114.4 920.3 106.9 920.5 99.5 920.8 92.1 921.0 85.1 921.3 90.9 921.6 96.5 921.9 102.2 922.1 107.8 922.4 113.3 922.7 118.8 923.0 124.2 923.3 129.6 923.6 135.0 923.8 140.2 924.1 145.5 924.4 150.7 924.7 155.8 925.0 150.4 925.2 144.9 925.5 141.7 925.8 141.6 926.1 141.5 926.3 141.4 926.6 141.1 926.9 140.7 927.2 140.2 927.4 139.8 927.7 138.5 928.0 131.0 928.3 123.4 928.5 115.6 928.8 107.7 929.1 99.7 929.4 91.6 929.6 83.4 929.9 81.6 930.1 88.4 930.3 95.2 930.6 102.2 930.8 109.2 931.0 116.3 931.2 123.6 931.5 130.9 931.7 138.3 931.9 145.9 932.1 153.5 932.4 161.2 932.6 169.1 932.8 177.0 933.1 169.7 933.3 162.5 933.5 159.1 933.8 158.3 934.0 157.5 934.3 156.7 934.5 155.6 934.7 154.5 935.0 153.4 935.2 152.3 935.5 145.3 935.7 136.7 935.9 128.2 936.2 119.7 936.4 111.2 936.7 102.8 936.9 94.4 937.2 95.0 937.4 101.7 937.7 108.3 938.0 114.9 938.2 121.5 938.5 128.1 938.8 134.7 939.0 141.2 939.3 147.8 939.6 154.3 939.8 160.8 940.1 167.3 940.4 173.7 940.6 167.1 940.8 160.5 941.0 155.0 941.3 154.2 941.5 153.4 941.7 152.6 942.0 151.8 942.2 150.7 942.4 149.7 942.6 148.6 942.9 147.6 943.1 145.9 943.3 138.2 943.6 130.6 943.8 123.0 944.0 115.5 944.2 107.9 944.5 100.5 944.7 93.0 944.9 85.6 945.2 87.5 945.5 93.3 945.8 99.1 946.1 104.9 946.3 110.6 946.6 116.3 946.9 122.0 947.2 127.6 947.5 133.3 947.8 138.8 948.1 144.4 948.3 149.9 948.6 155.4 948.9 160.9 949.2 166.4 949.5 160.9 949.7 155.4 950.0 152.0 951.8 142.3 952.7 139.9 954.8 83.6 956.1 89.0 957.6 175.6 959.7 144.7 960.9 142.3 963.6 75.1 965.4 172.6 967.0 149.6 969.6 77.6 970.6 90.9 971.5 75.1 972.4 159.3 973.2 198.6 974.2 162.9 976.6 130.2 978.8 71.5 980.6 170.2 982.4 87.8 983.9 176.2 986.3 89.7 988.1 170.8 989.3 150.8 992.4 87.2 994.4 161.7 995.6 150.8 998.2 84.2 999.6 176.2 999.7 135.2 1000.0 143.9 1000.3 152.6 1000.5 161.4 1000.8 170.3 1001.1 162.0 1001.3 153.7 1001.6 152.2 1001.8 151.3 1002.1 150.4 1002.4 149.2 1002.6 148.0 1002.9 146.8 1003.1 144.2 1003.4 134.4 1003.6 124.6 1003.9 114.9 1004.2 105.1 1004.4 95.4 1004.7 85.8 1004.9 92.0 1005.2 99.7 1005.4 107.3 1005.7 114.9 1005.9 122.5 1006.2 130.0 1006.5 137.6 1006.7 145.1 1007.0 152.6 1007.2 160.0 1007.5 167.5 1007.7 160.0 1008.0 152.4 1008.2 151.2 1008.5 150.5 1008.7 149.8 1009.0 148.9 1009.2 147.9 1009.5 146.9 1009.8 144.6 1010.0 135.3 1010.3 126.1 1010.5 116.8 1010.8 107.5 1011.0 98.1 1011.3 88.8 1011.5 94.9 1011.8 102.3 1012.1 109.9 1012.3 117.4 1012.6 124.9 1012.8 132.5 1013.1 140.1 1013.3 147.7 1013.6 155.4 1013.9 163.0 1014.1 170.7 1014.4 162.7 1014.6 154.7 1014.9 152.6 1015.1 151.7 1015.4 150.7 1015.6 149.6 1015.9 148.3 1016.1 147.1 1016.3 145.8 1016.6 137.9 1016.8 128.7 1017.1 119.4 1017.3 110.2 1017.6 101.1 1017.8 92.0 1018.1 88.4 1018.3 95.6 1018.6 102.7 1018.9 109.8 1019.1 116.8 1019.4 123.8 1019.6 130.7 1019.9 137.7 1020.2 144.5 1020.4 151.4 1020.7 158.2 1020.9 165.0 1021.2 157.5 1021.5 150.1 1021.7 148.3 1022.0 147.7 1022.2 147.0 1022.5 146.2 1022.8 145.2 1023.0 144.2 1023.3 143.2 1023.5 135.5 1023.8 126.4 1024.1 117.2 1024.3 108.0 1024.6 98.8 1024.8 89.5 1025.1 85.9 1025.3 93.3 1025.6 100.7 1025.8 108.2 1026.1 115.7 1026.3 123.2 1026.6 130.7 1026.8 138.2 1027.1 145.8 1027.4 153.4 1027.6 161.0 1027.9 168.6 1028.1 159.6 1028.4 150.7 1028.6 149.0 1028.9 148.0 1029.2 146.9 1029.4 145.6 1029.7 144.2 1029.9 142.8 1030.2 140.0 1030.5 129.5 1030.7 119.0 1031.0 108.6 1031.3 98.2 1031.5 87.9 1031.8 77.6 1032.0 84.3 1032.3 92.4 1032.5 100.4 1032.7 108.4 1033.0 116.4 1033.2 124.4 1033.4 132.3 1033.7 140.1 1033.9 148.0 1034.1 155.8 1034.4 163.5 1034.6 153.6 1034.9 145.1 1035.2 144.4 1035.4 143.6 1035.7 142.7 1036.0 141.5 1036.2 140.3 1036.5 137.0 1036.7 124.5 1037.0 111.9 1037.3 99.3 1037.5 86.5 1037.8 73.6 1038.1 76.0 1038.3 86.4 1038.6 96.8 1038.8 107.4 1039.1 118.0 1039.3 128.7 1039.6 139.4 1039.8 150.3 1040.0 161.2 1040.3 172.2 1040.6 161.5 1040.8 153.9 1041.1 152.7 1041.4 151.5 1041.7 150.0 1041.9 148.4 1042.2 146.8 1042.5 135.7 1042.7 123.1 1043.0 110.6 1043.3 98.1 1043.6 85.6 1043.8 91.5 1044.0 101.3 1044.2 111.0 1044.5 120.8 1044.7 130.5 1044.9 140.2 1045.1 149.8 1045.4 159.4 1045.6 168.9 1045.8 158.7 1046.0 151.4 1046.2 150.4 1046.5 149.4 1046.7 148.0 1046.9 146.6 1047.1 145.1 1047.4 134.3 1047.6 121.9 1047.8 109.5 1048.0 97.1 1048.3 84.7 1048.5 90.6 1048.8 100.4 1049.1 110.3 1049.4 120.2 1049.7 130.1 1050.0 139.9 1050.3 149.8 1050.6 159.7 1050.9 169.7 1051.2 161.7 1051.4 153.8 1051.7 152.4 1051.9 151.6 1052.2 150.9 1052.4 149.8 1052.6 148.7 1052.9 147.6 1053.1 145.1 1053.4 135.5 1053.6 126.0 1053.9 116.4 1054.1 106.9 1054.3 97.3 1054.6 87.8 1054.8 94.0 1055.1 101.6 1055.4 109.2 1055.7 116.8 1055.9 124.4 1056.2 132.0 1056.5 139.6 1056.7 147.2 1057.0 154.8 1057.3 162.4 1057.5 170.1 1057.8 162.1 1058.0 154.2 1058.3 151.5 1058.5 150.6 1058.8 149.6 1059.0 148.5 1059.3 147.2 1059.5 146.0 1059.8 144.7 1060.0 139.6 1060.3 130.5 1060.5 121.4 1060.8 112.3 1061.0 103.3 1061.3 94.4 1061.5 85.5 1061.8 88.7 1062.1 95.7 1062.3 102.6 1062.6 109.5 1062.8 116.3 1063.1 123.1 1063.3 129.9 1063.6 136.6 1063.9 143.2 1064.1 149.8 1064.4 156.4 1064.6 162.9 1064.9 155.8 1065.0 149.4 1066.5 143.4 1069.0 91.3 1071.7 159.1 1073.7 105.2 1075.5 164.6 1076.5 150.6 1077.5 151.9 1079.5 90.1 1081.6 153.7 1082.9 134.3 1084.4 142.2 1085.8 142.8 1087.8 66.5 1090.2 154.3 1091.9 141.6 1092.8 147.0 1094.4 90.1 1097.1 173.0 1098.3 157.9 1100.4 151.9 1102.5 97.4 1103.7 101.0 1105.6 168.8 1107.4 149.4 1109.2 139.7 1111.6 91.9 1114.4 167.6 1114.6 144.3 1114.8 149.2 1115.1 154.1 1115.3 158.9 1115.5 163.8 1115.8 168.6 1116.0 163.4 1116.3 158.1 1116.6 153.7 1116.8 153.3 1117.1 152.9 1117.3 152.4 1117.6 152.0 1117.8 151.3 1118.1 150.6 1118.4 149.9 1118.6 149.2 1118.9 148.0 1119.1 141.4 1119.4 134.9 1119.6 128.3 1119.9 121.7 1120.2 115.0 1120.4 108.4 1120.7 101.7 1120.9 95.0 1121.2 96.7 1121.4 102.1 1121.7 107.5 1121.9 112.9 1122.1 118.3 1122.4 123.7 1122.6 129.1 1122.9 134.6 1123.1 140.1 1123.4 145.6 1123.6 151.1 1123.8 156.7 1124.1 162.2 1124.3 167.8 1124.6 173.4 1124.8 166.9 1125.1 160.5 1125.3 156.2 1125.6 155.5 1125.9 154.8 1126.1 154.1 1126.4 153.3 1126.6 152.4 1126.9 151.4 1127.1 150.5 1127.4 149.5 1127.7 143.4 1127.9 135.7 1128.2 128.1 1128.4 120.5 1128.7 112.8 1128.9 105.2 1129.2 97.6 1129.5 90.1 1129.7 94.2 1130.0 100.2 1130.2 106.2 1130.4 112.2 1130.7 118.1 1130.9 124.1 1131.2 130.1 1131.4 136.0 1131.6 142.0 1131.9 147.9 1132.1 153.9 1132.4 159.8 1132.6 165.7 1132.9 171.6 1133.1 165.5 1133.3 159.3 1133.6 154.7 1133.8 154.1 1134.0 153.4 1134.3 152.7 1134.5 152.0 1134.7 151.1 1135.0 150.2 1135.2 149.3 1135.4 148.4 1135.7 144.7 1135.9 137.4 1136.2 130.2 1136.4 122.9 1136.6 115.7 1136.9 108.5 1137.1 101.3 1137.3 94.2 1137.6 90.6 1137.9 96.3 1138.1 101.9 1138.4 107.6 1138.7 113.2 1139.0 118.8 1139.3 124.5 1139.5 130.1 1139.8 135.7 1140.1 141.3 1140.4 146.8 1140.7 152.4 1140.9 158.0 1141.2 163.5 1141.5 169.1 1141.7 163.7 1142.0 158.4 1142.3 153.2 1142.5 152.7 1142.8 152.2 1143.0 151.7 1143.3 151.1 1143.5 150.5 1143.8 149.7 1144.1 149.0 1144.3 148.2 1144.6 147.4 1144.8 144.3 1145.1 137.9 1145.3 131.5 1145.6 125.1 1145.9 118.6 1146.1 112.2 1146.4 105.8 1146.6 99.4 1146.9 93.0 1147.1 92.8 1147.4 97.9 1147.6 103.0 1147.9 108.1 1148.1 113.2 1148.3 118.3 1148.6 123.4 1148.8 128.5 1149.1 133.6 1149.3 138.7 1149.6 143.8 1149.8 148.9 1150.1 154.0 1150.3 159.1 1150.5 164.3 1150.8 169.4 1151.0 163.8 1151.3 158.1 1151.6 153.9 1151.8 153.3 1152.1 152.7 1152.4 152.1 1152.6 151.4 1152.9 150.6 1153.2 149.7 1153.4 148.9 1153.7 148.1 1154.0 144.7 1154.2 138.1 1154.5 131.5 1154.8 124.9 1155.0 118.3 1155.3 111.8 1155.5 105.2 1155.8 98.7 1156.1 95.4 1156.3 100.6 1156.5 105.7 1156.8 110.9 1157.0 116.0 1157.2 121.1 1157.5 126.2 1157.7 131.3 1157.9 136.4 1158.2 141.4 1158.4 146.5 1158.7 151.5 1158.9 156.6 1159.1 161.6 1159.4 166.6 1159.6 160.9 1159.8 155.2 1160.1 151.4 1160.3 150.9 1160.6 150.5 1160.8 150.0 1161.1 149.4 1161.3 148.7 1161.5 147.9 1161.8 147.2 1162.0 146.5 1162.3 140.8 1162.5 133.8 1162.8 126.7 1163.0 119.6 1163.2 112.5 1163.5 105.4 1163.7 98.2 1164.0 91.0 1164.2 94.9 1164.5 100.7 1164.8 106.4 1165.0 112.2 1165.3 118.1 1165.6 123.9 1165.9 129.7 1166.1 135.6 1166.4 141.5 1166.7 147.4 1166.9 153.4 1167.2 159.3 1167.5 165.3 1167.7 171.3 1168.0 165.6 1168.2 159.9 1168.5 155.3 1168.8 154.5 1169.0 153.8 1169.3 153.0 1169.5 152.2 1169.8 151.2 1170.0 150.3 1170.3 149.3 1170.5 148.3 1170.8 146.8 1171.0 140.5 1171.3 134.1 1171.6 127.9 1171.8 121.7 1172.1 115.5 1172.3 109.4 1172.6 103.3 1172.8 97.3 1173.1 98.8 1173.3 103.5 1173.6 108.1 1173.8 112.8 1174.1 117.3 1174.3 121.9 1174.6 126.3 1174.8 130.8 1175.1 135.2 1175.3 139.6 1175.6 143.9 1175.8 148.2 1176.1 152.4 1176.3 156.6 1176.6 160.8 1176.8 156.0 1177.1 151.2 1177.3 147.6 1177.6 147.2 1177.8 146.8 1178.1 146.3 1178.3 145.9 1178.6 145.2 1178.9 144.6 1179.1 144.0 1179.4 143.3 1179.6 140.4 1179.9 134.5 1180.1 128.6 1180.4 122.7 1180.6 116.8 1180.9 110.8 1181.2 104.9 1181.4 98.9 1181.7 95.9 1181.9 100.7 1182.2 105.5 1182.4 110.3 1182.7 115.1 1183.0 119.9 1183.2 124.7 1183.5 129.5 1183.7 134.4 1184.0 139.3 1184.2 144.1 1184.5 149.0 1184.7 153.9 1185.0 158.8 1185.3 163.8 1185.5 158.8 1185.8 153.7 1186.0 150.0 1186.3 149.6 1186.5 149.1 1186.8 148.7 1187.0 148.2 1187.3 147.5 1187.6 146.8 1187.8 146.1 1188.1 145.5 1188.3 142.4 1188.6 136.3 1188.8 130.1 1189.1 123.9 1189.3 117.7 1189.6 111.5 1189.9 105.3 1190.1 99.1 1190.4 96.0 1190.6 101.0 1190.9 105.9 1191.1 110.9 1191.3 115.9 1191.6 120.9 1191.8 126.0 1192.1 131.0 1192.3 136.1 1192.6 141.1 1192.8 146.2 1193.1 151.3 1193.3 156.4 1193.5 161.5 1193.8 166.6 1194.1 159.1 1194.4 151.6 1194.6 148.8 1194.9 148.2 1195.2 147.6 1195.5 147.0 1195.8 146.1 1196.1 145.1 1196.4 144.2 1196.6 142.1 1196.9 132.7 1197.2 123.3 1197.5 113.8 1197.8 104.3 1198.1 94.8 1198.4 85.1 1198.6 78.6 1198.9 86.3 1199.1 94.1 1199.3 101.9 1199.5 109.7 1199.7 117.6 1199.9 125.6 1200.1 133.5 1200.3 141.5 1200.6 149.6 1200.8 157.7 1201.0 165.9 1201.2 174.0 1201.5 162.4 1201.7 152.5 1202.0 150.9 1202.3 149.4 1202.6 147.7 1202.8 145.7 1203.1 143.8 1203.4 139.8 1203.6 126.7 1203.9 113.7 1204.2 100.9 1204.4 88.2 1204.7 75.6 1204.9 77.9 1205.2 87.6 1205.4 97.2 1205.6 106.7 1205.9 116.1 1206.1 125.4 1206.3 134.6 1206.5 143.6 1206.8 152.5 1207.0 161.4 1207.2 152.1 1207.5 144.8 1207.7 143.8 1207.9 142.8 1208.2 141.6 1208.4 140.3 1208.6 138.9 1208.9 132.5 1209.1 121.5 1209.3 110.4 1209.6 99.4 1209.8 88.4 1210.1 82.2 1210.4 90.9 1210.6 99.6 1210.9 108.2 1211.2 116.9 1211.5 125.5 1211.8 134.1 1212.1 142.7 1212.4 151.3 1212.6 159.9 1212.9 153.1 1213.2 147.3 1213.5 146.7 1213.7 146.1 1214.0 145.4 1214.3 144.5 1214.6 143.6 1214.8 141.3 1215.1 133.0 1215.4 124.6 1215.7 116.3 1215.9 107.8 1216.2 99.4 1216.5 100.9 1216.7 107.7 1216.9 114.5 1217.2 121.3 1217.4 128.1 1217.6 135.0 1217.9 141.9 1218.1 148.8 1218.3 155.7 1218.6 162.6 1218.8 154.3 1219.0 146.6 1219.2 146.0 1219.5 145.4 1219.7 144.7 1219.9 143.7 1220.1 142.6 1220.4 141.6 1220.6 132.7 1220.8 122.1 1221.0 111.5 1221.3 100.8 1221.5 90.1 1221.7 80.8 1222.0 89.5 1222.3 98.2 1222.6 107.0 1222.9 115.9 1223.2 124.8 1223.5 133.8 1223.8 142.9 1224.1 152.0 1224.4 161.2 1224.7 170.5 1225.0 162.9 1225.3 155.3 1225.5 153.4 1225.8 152.5 1226.1 151.6 1226.3 150.5 1226.6 149.3 1226.9 148.1 1227.1 146.9 1227.4 139.5 1227.7 130.8 1227.9 122.1 1228.2 113.4 1228.5 104.9 1228.7 96.3 1229.0 93.0 1229.2 99.7 1229.5 106.4 1229.7 113.0 1230.0 119.6 1230.2 126.1 1230.5 132.6 1230.7 139.1 1231.0 145.5 1231.2 151.9 1231.5 158.3 1231.7 164.6 1231.9 158.9 1232.2 153.1 1232.4 150.5 1232.6 150.1 1232.8 149.7 1233.1 149.3 1233.3 148.6 1233.5 148.0 1233.7 147.3 1233.9 146.6 1234.2 140.6 1234.4 133.3 1234.6 125.9 1234.8 118.4 1235.1 110.9 1235.3 103.4 1235.5 95.8 1235.8 96.4 1236.1 102.5 1236.4 108.6 1236.6 114.8 1236.9 121.1 1237.2 127.4 1237.5 133.7 1237.8 140.1 1238.1 146.5 1238.4 153.0 1238.7 159.5 1239.0 166.0 1239.3 172.6 1239.5 166.5 1239.8 160.4 1240.0 156.2 1240.3 155.3 1240.6 154.4 1240.8 153.4 1241.1 152.4 1241.4 151.3 1241.6 150.2 1241.9 149.1 1242.2 148.0 1242.4 142.5 1242.7 136.0 1242.9 129.5 1243.2 123.1 1243.5 116.8 1243.7 110.5 1244.0 104.4 1244.3 98.3 1244.5 101.6 1244.7 106.2 1245.0 110.8 1245.2 115.4 1245.4 119.8 1245.7 124.2 1245.9 128.5 1246.2 132.8 1246.4 137.0 1246.6 141.1 1246.9 145.1 1247.1 149.1 1247.3 153.0 1247.6 156.8 1247.8 152.5 1248.1 148.1 1248.4 146.6 1248.7 146.6 1248.9 146.5 1249.2 146.3 1249.5 146.0 1249.7 145.7 1250.0 145.3 1250.3 144.2 1250.5 138.2 1250.8 132.1 1251.1 125.9 1251.3 119.6 1251.6 113.2 1251.9 106.7 1252.1 102.3 1252.4 107.6 1252.6 113.0 1252.8 118.5 1253.1 124.1 1253.3 129.8 1253.5 135.6 1253.8 141.4 1254.0 147.4 1254.2 153.4 1254.5 159.5 1254.7 165.7 1254.9 172.0 1255.0 156.5 1256.5 152.9 1258.4 94.2 1259.2 100.8 1260.1 102.1 1261.7 162.0 1262.9 146.9 1264.7 143.2 1266.1 140.8 1267.7 88.7 1269.3 95.4 1271.0 165.0 1272.6 145.6 1273.2 156.5 1274.6 54.8 1276.2 175.9 1278.0 146.9 1280.4 68.2 1281.9 163.8 1283.5 140.8 1284.9 133.5 1285.9 152.9 1287.1 74.2 1288.9 157.1 1290.1 142.0 1291.9 136.6 1293.7 149.3 1295.6 93.6 1297.6 155.3 1299.2 137.2 1301.0 151.7 1302.6 91.8 1304.6 171.1 1304.6 149.0 1304.9 156.5 1305.1 164.2 1305.3 171.8 1305.6 179.5 1305.8 170.2 1306.1 161.1 1306.3 159.2 1306.6 158.0 1306.8 156.9 1307.1 155.4 1307.3 153.8 1307.6 152.3 1307.9 149.4 1308.1 138.9 1308.4 128.4 1308.6 118.1 1308.9 107.9 1309.1 97.7 1309.4 87.7 1309.6 94.2 1309.9 102.0 1310.1 109.8 1310.4 117.4 1310.6 125.0 1310.9 132.6 1311.1 140.0 1311.3 147.4 1311.6 154.8 1311.8 162.0 1312.1 169.2 1312.4 161.3 1312.6 154.0 1312.9 153.2 1313.2 152.3 1313.4 151.4 1313.7 150.2 1314.0 149.0 1314.2 147.8 1314.5 139.9 1314.8 130.6 1315.0 121.4 1315.3 112.2 1315.6 103.0 1315.8 95.2 1316.1 102.4 1316.3 109.6 1316.5 116.8 1316.8 124.0 1317.0 131.1 1317.3 138.3 1317.5 145.4 1317.8 152.5 1318.0 159.5 1318.2 166.6 1318.5 158.6 1318.8 152.9 1319.1 152.0 1319.3 151.2 1319.6 150.0 1319.9 148.8 1320.2 147.6 1320.4 139.4 1320.7 130.0 1321.0 120.7 1321.3 111.3 1321.6 102.1 1321.8 106.4 1322.0 113.7 1322.2 121.0 1322.5 128.3 1322.7 135.5 1322.9 142.7 1323.2 149.9 1323.4 157.1 1323.6 164.2 1323.8 155.1 1324.1 147.9 1324.3 147.2 1324.5 146.5 1324.7 145.6 1324.9 144.4 1325.1 143.3 1325.4 136.8 1325.6 125.2 1325.8 113.6 1326.0 101.9 1326.2 90.1 1326.5 83.4 1326.8 92.9 1327.1 102.5 1327.4 112.1 1327.7 121.8 1328.0 131.6 1328.3 141.5 1328.6 151.4 1328.9 161.4 1329.3 171.5 1329.5 163.8 1329.8 156.1 1330.0 154.1 1330.3 153.3 1330.5 152.4 1330.8 151.4 1331.0 150.2 1331.3 149.0 1331.5 147.8 1331.8 140.2 1332.0 131.2 1332.3 122.3 1332.5 113.4 1332.8 104.5 1333.0 95.6 1333.3 92.2 1333.5 99.1 1333.8 106.1 1334.0 113.0 1334.3 119.9 1334.5 126.8 1334.8 133.6 1335.0 140.4 1335.3 147.2 1335.5 154.0 1335.8 160.7 1336.0 167.4 1336.3 160.2 1336.5 153.1 1336.7 150.8 1337.0 150.1 1337.2 149.4 1337.4 148.5 1337.7 147.5 1337.9 146.5 1338.2 145.5 1338.4 140.8 1338.6 132.2 1338.9 123.5 1339.1 114.9 1339.4 106.3 1339.6 97.6 1339.8 89.0 1340.1 92.1 1340.4 99.0 1340.7 105.8 1340.9 112.7 1341.2 119.6 1341.5 126.4 1341.8 133.3 1342.0 140.2 1342.3 147.1 1342.6 153.9 1342.9 160.8 1343.1 167.7 1343.4 162.0 1343.6 156.4 1343.9 153.4 1344.1 152.8 1344.4 152.3 1344.6 151.7 1344.9 151.0 1345.1 150.2 1345.4 149.4 1345.6 148.6 1345.9 145.0 1346.1 138.2 1346.4 131.4 1346.6 124.6 1346.9 117.8 1347.1 111.0 1347.4 104.2 1347.6 97.6 1347.9 103.0 1348.1 108.4 1348.4 113.9 1348.7 119.3 1348.9 124.7 1349.2 130.2 1349.5 135.6 1349.7 141.0 1350.0 146.5 1350.3 151.9 1350.6 157.4 1350.8 162.8 1351.1 168.3 1351.4 162.2 1351.6 156.2 1351.9 153.5 1352.2 153.0 1352.5 152.4 1352.7 151.9 1353.0 151.1 1353.3 150.3 1353.6 149.6 1353.9 148.8 1354.1 142.7 1354.4 135.2 1354.7 127.8 1355.0 120.3 1355.0 95.1 1356.2 95.1 1357.4 120.5 1358.6 153.2 1360.1 148.4 1362.5 86.0 1363.5 95.1 1364.4 97.5 1365.9 175.0 1366.7 159.3 1368.6 152.0 1370.4 72.7 1372.0 77.6 1373.4 78.2 1373.8 93.9 1375.3 198.6 1376.8 137.5 1377.8 159.3 1378.6 141.1 1380.4 137.5 1381.9 142.3 1384.1 81.2 1385.9 150.2 1387.1 133.2 1389.5 154.4 1391.6 88.5 1393.7 162.3 1397.4 75.7 1399.6 179.2 1400.4 164.1 1402.8 68.5 1404.6 181.1 1404.7 153.1 1404.9 165.8 1405.1 178.7 1405.4 164.5 1405.6 156.4 1405.9 154.8 1406.1 153.0 1406.4 150.8 1406.6 148.6 1406.9 138.7 1407.1 122.2 1407.4 105.9 1407.6 89.7 1407.9 73.6 1408.2 85.7 1408.4 98.3 1408.7 110.9 1408.9 123.3 1409.2 135.6 1409.5 147.9 1409.7 160.1 1410.0 172.2 1410.2 160.2 1410.5 152.5 1410.8 151.2 1411.0 149.9 1411.2 148.2 1411.5 146.4 1411.8 142.1 1412.0 127.9 1412.2 113.8 1412.5 99.7 1412.8 85.6 1413.0 81.7 1413.3 92.8 1413.5 103.8 1413.8 114.9 1414.0 125.9 1414.3 136.9 1414.6 147.8 1414.8 158.7 1415.1 169.6 1415.3 159.6 1415.6 153.3 1415.9 152.5 1416.1 151.7 1416.4 150.5 1416.6 149.2 1416.9 145.7 1417.2 133.1 1417.4 120.4 1417.7 107.6 1417.9 94.7 1418.2 91.0 1418.4 101.5 1418.7 112.0 1418.9 122.6 1419.2 133.3 1419.4 144.0 1419.6 154.9 1419.9 165.8 1420.1 176.9 1420.4 163.0 1420.7 157.0 1421.0 155.6 1421.2 153.8 1421.5 151.7 1421.8 146.5 1422.1 130.0 1422.4 113.5 1422.7 97.1 1422.9 84.8 1423.2 97.8 1423.4 110.8 1423.6 123.7 1423.8 136.6 1424.1 149.4 1424.3 162.3 1424.5 175.1 1424.8 155.9 1425.1 153.1 1425.4 150.6 1425.7 147.6 1426.0 133.4 1426.3 111.1 1426.6 89.1 1426.9 85.2 1427.1 102.4 1427.3 119.5 1427.6 136.5 1427.8 153.3 1428.0 170.0 1428.2 154.9 1428.5 153.0 1428.7 151.3 1428.9 149.3 1429.1 137.7 1429.4 119.3 1429.6 100.7 1429.8 97.5 1430.1 112.4 1430.4 127.3 1430.7 142.3 1431.0 157.4 1431.3 172.5 1431.6 158.5 1431.8 154.0 1432.1 153.2 1432.3 151.8 1432.6 150.3 1432.8 139.5 1433.0 121.2 1433.3 102.5 1433.5 83.6 1433.8 89.3 1434.1 104.8 1434.3 120.7 1434.6 136.8 1434.9 153.2 1435.2 169.8 1435.4 186.7 1435.7 171.5 1435.9 163.8 1436.2 162.1 1436.4 160.1 1436.7 157.7 1436.9 155.4 1437.2 139.5 1437.4 121.8 1437.6 104.2 1437.9 86.7 1438.2 86.8 1438.5 100.5 1438.7 114.1 1439.0 127.6 1439.3 141.0 1439.6 154.3 1439.9 167.6 1440.2 180.7 1440.4 169.1 1440.7 161.8 1441.0 160.7 1441.2 159.5 1441.5 157.9 1441.7 156.3 1442.0 152.2 1442.3 138.3 1442.5 124.3 1442.8 110.3 1443.0 96.2 1443.3 92.3 1443.6 103.4 1443.8 114.6 1444.1 125.8 1444.3 137.0" fill="none" stroke="#006400" stroke-width="1.4" stroke-linejoin="round"/>
<path d="M275.8 307.1 276.1 306.1 276.5 305.4 276.8 304.7 277.2 301.6 277.5 297.4 277.9 293.2 278.2 290.4 278.5 288.6 278.9 288.0 279.2 288.8 279.6 290.8 279.9 294.6 280.3 299.0 280.6 303.5 280.9 307.9 281.3 309.2 281.6 310.3 282.0 311.4 282.3 309.2 282.7 307.0 283.0 306.5 283.3 305.9 283.7 305.5 284.0 305.2 284.4 304.9 284.7 301.9 285.1 298.1 285.4 294.2 285.8 290.7 286.1 288.9 286.4 287.1 286.8 287.4 287.1 288.5 287.5 290.7 287.8 294.9 288.2 300.1 288.5 305.5 288.9 311.1 289.2 315.3 289.5 317.2 289.9 319.1 290.2 321.0 290.6 317.2 290.9 313.5 291.2 312.2 291.6 310.9 291.9 309.8 292.2 309.0 292.6 308.1 292.9 305.4 293.3 300.7 293.6 296.2 293.9 291.7 294.3 289.1 294.6 287.1 294.9 285.9 295.3 286.8 295.6 288.3 295.9 290.3 296.3 295.1 296.6 299.7 296.9 304.3 297.3 308.7 297.6 311.5 297.9 312.5 298.3 313.5 298.6 314.5 299.0 311.7 299.3 308.9 299.7 308.0 300.0 307.1 300.3 306.3 300.7 305.8 301.0 305.2 301.4 303.0 301.7 299.2 302.1 295.4 302.4 291.6 302.8 289.4 303.1 287.7 303.4 286.7 303.8 287.5 304.1 288.8 304.5 290.7 304.8 295.0 305.2 299.3 305.5 303.7 305.9 308.0 306.2 310.7 306.5 311.9 306.9 313.1 307.2 314.3 307.6 311.4 307.9 308.6 308.3 307.7 308.6 306.8 308.9 306.2 309.3 305.6 309.6 305.1 310.0 301.6 310.3 297.5 310.6 293.3 311.0 289.5 311.3 287.7 311.7 285.8 312.0 286.1 312.3 287.2 312.7 289.3 313.0 293.4 313.4 298.4 313.7 303.4 314.0 308.5 314.4 312.3 314.7 313.7 315.1 315.2 315.4 316.7 315.7 313.9 316.1 311.0 316.4 310.0 316.7 309.1 317.1 308.3 317.4 307.7 317.7 307.2 318.1 305.9 318.4 302.0 318.8 298.0 319.1 294.0 319.4 290.7 319.8 288.9 320.1 287.2 320.4 287.2 320.8 288.1 321.1 289.9 321.4 292.7 321.8 297.4 322.1 302.0 322.5 306.6 322.8 311.3 323.1 313.8 323.5 315.1 323.8 316.5 324.1 317.8 324.5 314.6 324.8 311.4 325.1 310.4 325.5 309.3 325.8 308.4 326.2 307.7 326.5 307.1 326.8 304.6 327.2 300.5 327.5 296.5 327.8 292.4 328.2 290.1 328.5 288.3 328.8 287.2 329.2 288.1 329.5 289.4 329.9 291.3 330.2 295.7 330.5 300.1 330.9 304.5 331.2 308.8 331.5 311.4 331.9 312.5 332.2 313.6 332.5 314.7 332.9 311.9 333.2 309.2 333.6 308.2 333.9 307.3 334.2 306.5 334.6 306.0 334.9 305.4 335.2 304.2 335.6 300.5 335.9 296.8 336.3 293.1 336.6 290.0 336.9 288.4 337.3 286.7 337.6 286.8 337.9 287.6 338.3 289.3 338.6 291.8 339.0 296.1 339.3 300.3 339.6 304.5 340.0 308.8 340.3 311.0 340.6 312.2 341.0 313.4 341.3 314.5 341.7 312.1 342.0 309.7 342.3 308.8 342.7 308.0 343.0 307.3 343.3 306.8 343.7 306.3 344.0 305.3 344.4 302.1 344.7 298.9 345.0 295.7 345.4 293.1 345.7 291.7 346.0 290.3 346.4 290.4 346.7 291.0 347.1 292.4 347.4 294.6 347.7 298.2 348.1 301.7 348.4 305.2 348.7 308.7 349.1 310.6 349.4 311.5 349.8 312.5 350.1 313.4 350.4 311.0 350.8 308.6 351.1 307.9 351.4 307.1 351.8 306.6 352.1 306.1 352.4 305.7 352.8 303.7 353.1 300.3 353.4 296.8 353.8 293.3 354.1 291.3 354.4 289.7 354.8 288.7 355.1 289.4 355.5 290.7 355.8 292.5 356.1 296.7 356.5 300.9 356.8 305.2 357.1 309.4 357.5 312.2 357.8 313.5 358.1 314.8 358.5 316.0 358.8 313.1 359.1 310.1 359.5 309.0 359.8 308.0 360.1 307.1 360.5 306.4 360.8 305.7 361.1 303.6 361.5 300.0 361.8 296.4 362.1 292.9 362.5 290.9 362.8 289.4 363.1 288.5 363.5 289.2 363.8 290.3 364.1 291.9 364.5 295.4 364.8 299.0 365.1 302.4 365.5 305.8 365.8 307.8 366.2 308.5 366.5 309.2 366.8 309.9 367.2 307.8 367.5 305.7 367.8 305.0 368.2 304.4 368.5 303.9 368.9 303.5 369.2 303.1 369.6 301.4 369.9 298.3 370.2 295.3 370.6 292.2 370.9 290.4 371.3 289.0 371.6 288.2 371.9 288.8 372.3 289.9 372.6 291.5 373.0 295.2 373.3 298.8 373.7 302.5 374.0 306.3 374.3 308.7 374.7 309.8 375.0 310.9 375.4 312.0 375.7 309.6 376.0 307.2 376.4 306.2 376.7 305.5 377.0 304.8 377.4 304.4 377.7 303.9 378.0 303.5 378.4 300.4 378.7 297.0 379.0 293.6 379.4 290.2 379.7 288.4 380.0 286.9 380.4 285.7 380.7 286.4 381.0 287.4 381.4 289.1 381.7 292.3 382.0 296.4 382.4 300.5 382.7 304.6 383.0 308.7 383.4 310.6 383.7 311.8 384.1 313.0 384.4 314.2 384.7 311.6 385.1 309.0 385.4 308.2 385.8 307.4 386.1 306.7 386.5 306.2 386.8 305.7 387.2 303.7 387.5 300.1 387.8 296.5 388.2 292.9 388.5 290.8 388.9 289.2 389.2 288.2 389.6 289.0 389.9 290.3 390.3 292.0 390.6 296.2 391.0 300.4 391.3 304.5 391.6 308.7 392.0 311.4 392.3 312.6 392.7 313.7 393.0 314.9 393.4 311.9 393.7 309.2 394.1 308.3 394.4 307.3 394.8 306.6 395.1 306.1 395.4 305.1 395.8 301.0 396.1 296.8 396.5 292.7 396.8 290.1 397.2 288.2 397.5 287.3 397.9 288.2 398.2 290.0 398.6 293.0 398.9 297.8 399.2 302.5 399.6 307.3 399.9 311.3 400.3 312.7 400.6 314.0 401.0 315.3 401.3 312.8 401.7 310.2 402.0 309.1 402.3 308.2 402.7 307.4 403.0 306.8 403.4 306.3 403.7 305.7 404.1 302.6 404.4 299.3 404.7 295.9 405.1 292.6 405.4 290.8 405.8 289.4 406.1 288.2 406.4 288.9 406.8 289.8 407.1 291.4 407.5 294.4 407.8 298.1 408.1 301.7 408.5 305.4 408.8 309.0 409.2 310.5 409.5 311.5 409.9 312.4 410.2 313.3 410.5 310.9 410.9 308.5 411.2 307.5 411.5 306.7 411.9 306.0 412.2 305.5 412.5 305.0 412.9 304.6 413.2 301.5 413.6 298.1 413.9 294.7 414.2 291.3 414.6 289.5 414.9 288.0 415.2 286.8 415.6 287.5 415.9 288.5 416.2 290.2 416.6 293.4 416.9 297.3 417.2 301.3 417.6 305.4 417.9 309.4 418.3 311.2 418.6 312.3 418.9 313.5 419.3 314.6 419.6 311.9 419.9 309.2 420.3 308.1 420.6 307.2 421.0 306.4 421.3 305.8 421.6 305.2 422.0 304.0 422.3 300.6 422.6 297.2 423.0 293.9 423.3 291.2 423.7 289.7 424.0 288.3 424.3 288.3 424.7 289.0 425.0 290.4 425.4 292.6 425.7 296.1 426.0 299.6 426.4 303.0 426.7 306.4 427.0 308.1 427.4 308.9 427.7 309.7 428.1 310.5 428.4 308.2 428.7 305.9 429.1 305.2 429.4 304.5 429.7 303.9 430.1 303.5 430.4 303.0 430.8 300.3 431.1 297.0 431.4 293.6 431.8 290.6 432.1 289.1 432.4 287.6 432.8 287.9 433.1 288.8 433.5 290.4 433.8 293.7 434.1 297.6 434.5 301.6 434.8 305.6 435.1 308.6 435.5 309.7 435.8 310.9 436.2 312.1 436.5 309.9 436.8 307.6 437.2 306.9 437.5 306.2 437.9 305.7 438.2 305.3 438.5 304.9 438.9 304.0 439.2 300.7 439.6 297.4 439.9 294.1 440.2 291.2 440.6 289.7 440.9 288.2 441.3 288.3 441.6 289.0 441.9 290.6 442.3 293.1 442.6 297.3 443.0 301.5 443.3 305.7 443.7 310.0 444.0 312.4 444.3 313.7 444.7 315.0 445.0 316.4 445.4 313.3 445.7 310.2 446.0 309.2 446.4 308.2 446.7 307.4 447.1 306.8 447.4 306.2 447.7 303.8 448.1 299.6 448.4 295.4 448.8 291.2 449.1 288.8 449.4 286.9 449.8 285.8 450.1 286.7 450.5 288.1 450.8 290.2 451.2 294.9 451.5 299.7 451.8 304.5 452.2 309.3 452.5 312.3 452.9 313.7 453.2 315.0 453.5 316.3 453.9 312.7 454.2 309.7 454.6 308.5 454.9 307.4 455.2 306.6 455.6 305.9 455.9 303.5 456.3 298.9 456.6 294.2 456.9 289.9 457.3 287.8 457.6 285.8 458.0 286.5 458.3 287.9 458.6 290.2 459.0 295.3 459.3 300.4 459.6 305.5 460.0 310.2 460.3 311.5 460.7 312.8 461.0 314.1 461.3 311.4 461.7 308.7 462.0 307.6 462.4 306.8 462.7 306.0 463.0 305.6 463.4 305.1 463.7 304.6 464.0 301.0 464.4 297.1 464.7 293.2 465.0 289.2 465.4 287.1 465.7 285.3 466.1 283.9 466.4 284.8 466.7 285.9 467.1 288.0 467.4 291.8 467.7 296.6 468.1 301.4 468.4 306.3 468.7 311.2 469.1 313.4 469.4 314.9 469.8 316.4 470.1 317.9 470.4 314.6 470.8 311.5 471.1 310.2 471.4 309.1 471.8 308.1 472.1 307.4 472.4 306.7 472.8 305.3 473.1 301.2 473.4 297.2 473.8 293.3 474.1 290.0 474.4 288.3 474.8 286.6 475.1 286.6 475.4 287.4 475.8 289.1 476.1 291.7 476.4 295.9 476.8 300.1 477.1 304.2 477.4 308.2 477.8 310.3 478.1 311.2 478.4 312.2 478.8 313.1 479.1 310.4 479.4 307.9 479.8 307.1 480.1 306.2 480.5 305.7 480.8 305.1 481.2 304.3 481.5 300.5 481.9 296.6 482.2 292.8 482.5 290.3 482.9 288.6 483.2 287.8 483.6 288.6 483.9 290.3 484.3 293.1 484.6 297.6 484.9 302.1 485.3 306.6 485.6 310.4 486.0 311.7 486.3 313.0 486.7 314.3 487.0 311.9 487.3 309.4 487.7 308.4 488.0 307.6 488.4 306.9 488.7 306.4 489.0 305.9 489.4 305.5 489.7 302.3 490.1 298.8 490.4 295.3 490.8 291.7 491.1 289.9 491.4 288.3 491.8 287.1 492.1 287.8 492.5 288.9 492.8 290.6 493.1 293.9 493.5 298.1 493.8 302.3 494.2 306.5 494.5 310.8 494.8 312.7 495.2 313.9 495.5 315.1 495.9 316.4 496.2 313.3 496.6 310.7 496.9 309.7 497.3 308.7 497.6 308.1 498.0 307.5 498.3 305.4 498.6 301.3 499.0 297.2 499.3 293.3 499.7 291.5 500.0 289.7 500.4 290.3 500.7 291.6 501.1 293.7 501.4 298.3 501.8 302.9 502.1 307.6 502.5 311.9 502.8 313.1 503.2 314.4 503.5 315.6 503.8 313.0 504.2 310.3 504.5 309.3 504.9 308.4 505.2 307.6 505.5 307.1 505.9 306.5 506.2 305.4 506.6 301.9 506.9 298.4 507.3 295.0 507.6 292.2 507.9 290.6 508.3 289.2 508.6 289.2 509.0 289.9 509.3 291.4 509.6 293.8 510.0 297.5 510.3 301.3 510.7 305.0 511.0 308.7 511.4 310.7 511.7 311.7 512.0 312.6 512.4 313.6 512.7 310.7 513.1 308.0 513.4 307.0 513.7 306.1 514.1 305.4 514.4 304.9 514.8 304.3 515.1 301.0 515.4 297.1 515.8 293.2 516.1 289.6 516.5 287.9 516.8 286.1 517.1 286.5 517.5 287.4 517.8 289.4 518.2 293.1 518.5 297.6 518.9 302.2 519.2 306.7 519.5 310.1 519.9 311.4 520.2 312.7 520.6 313.9 520.9 311.3 521.2 308.7 521.6 307.6 521.9 306.7 522.3 306.0 522.6 305.5 522.9 305.0 523.3 304.5 523.6 301.1 524.0 297.4 524.3 293.6 524.6 289.9 525.0 287.9 525.3 286.2 525.7 284.9 526.0 285.7 526.3 286.8 526.7 288.7 527.0 292.2 527.4 296.7 527.7 301.1 528.1 305.6 528.4 310.1 528.7 312.1 529.1 313.4 529.4 314.7 529.8 316.0 530.1 313.1 530.4 310.2 530.8 309.3 531.1 308.3 531.4 307.6 531.8 307.0 532.1 306.4 532.4 304.1 532.8 300.3 533.1 296.4 533.4 292.5 533.8 290.3 534.1 288.6 534.4 287.5 534.8 288.3 535.1 289.7 535.4 291.5 535.8 295.9 536.1 300.2 536.4 304.5 536.8 308.8 537.1 311.5 537.4 312.7 537.8 313.8 538.1 315.0 538.4 311.7 538.8 308.7 539.1 307.7 539.5 306.6 539.8 305.9 540.1 305.3 540.5 304.2 540.8 299.7 541.2 295.2 541.5 290.6 541.9 287.7 542.2 285.7 542.5 284.7 542.9 285.7 543.2 287.6 543.6 290.9 543.9 296.1 544.2 301.4 544.6 306.6 544.9 311.0 545.3 312.5 545.6 313.9 546.0 315.4 546.3 312.8 546.6 310.3 547.0 309.2 547.3 308.4 547.6 307.6 548.0 307.1 548.3 306.5 548.7 306.0 549.0 302.9 549.3 299.5 549.7 296.1 550.0 292.7 550.3 290.9 550.7 289.4 551.0 288.2 551.4 288.9 551.7 289.9 552.0 291.5 552.4 294.6 552.7 298.4 553.0 302.2 553.4 306.1 553.7 309.9 554.1 311.5 554.4 312.5 554.7 313.5 555.1 314.6 555.4 311.9 555.7 309.2 556.1 308.3 556.4 307.5 556.7 306.8 557.1 306.3 557.4 305.7 557.7 303.6 558.1 299.9 558.4 296.2 558.7 292.5 559.1 290.3 559.4 288.7 559.7 287.6 560.1 288.4 560.4 289.7 560.7 291.6 561.1 295.9 561.4 300.2 561.7 304.5 562.1 308.8 562.4 311.6 562.7 312.8 563.1 314.0 563.4 315.2 563.8 312.4 564.1 309.6 564.4 308.5 564.8 307.6 565.1 306.8 565.5 306.3 565.8 305.7 566.2 304.5 566.5 300.6 566.8 296.8 567.2 292.9 567.5 289.7 567.9 288.0 568.2 286.3 568.6 286.4 568.9 287.2 569.2 289.0 569.6 291.7 569.9 296.1 570.3 300.5 570.6 304.9 571.0 309.4 571.3 311.7 571.6 313.0 572.0 314.2 572.3 315.4 572.7 312.7 573.0 310.0 573.3 309.2 573.7 308.4 574.0 307.7 574.4 307.2 574.7 306.7 575.0 304.6 575.4 300.8 575.7 296.9 576.0 293.1 576.4 290.8 576.7 289.1 577.1 288.0 577.4 288.8 577.7 290.2 578.1 292.2 578.4 296.7 578.7 301.3 579.1 306.0 579.4 310.6 579.8 313.6 580.1 315.0 580.4 316.3 580.8 317.7 581.1 315.1 581.4 312.6 581.8 311.2 582.1 310.3 582.5 309.4 582.8 308.8 583.1 308.2 583.5 307.7 583.8 306.3 584.1 303.0 584.5 299.8 584.8 296.6 585.2 293.4 585.5 291.9 585.8 290.5 586.2 289.3 586.5 289.9 586.9 290.6 587.2 292.1 587.5 294.1 587.9 297.5 588.2 300.9 588.5 304.3 588.9 307.6 589.2 310.7 589.6 311.5 589.9 312.3 590.2 313.1 590.6 313.9 590.9 310.9 591.2 308.4 591.6 307.5 591.9 306.6 592.3 306.1 592.6 305.5 592.9 303.5 593.3 299.2 593.6 294.8 594.0 290.6 594.3 288.7 594.6 286.7 595.0 287.3 595.3 288.8 595.7 291.1 596.0 296.4 596.3 301.8 596.7 307.1 597.0 312.3 597.4 313.9 597.7 315.5 598.0 317.1 598.4 313.8 598.7 310.4 599.0 309.1 599.4 308.0 599.7 307.0 600.1 306.3 600.4 305.5 600.7 304.1 601.1 299.8 601.4 295.5 601.7 291.3 602.1 287.8 602.4 286.0 602.8 284.1 603.1 284.2 603.4 285.0 603.8 286.9 604.1 289.7 604.4 294.2 604.8 298.8 605.1 303.2 605.5 307.7 605.8 310.0 606.1 311.1 606.5 312.2 606.8 313.2 607.1 310.7 607.5 308.2 607.8 307.1 608.1 306.4 608.5 305.7 608.8 305.2 609.1 304.7 609.5 304.3 609.8 301.0 610.2 297.4 610.5 293.7 610.8 290.0 611.2 288.1 611.5 286.4 611.8 285.2 612.2 286.0 612.5 287.0 612.8 288.9 613.2 292.4 613.5 296.8 613.8 301.2 614.2 305.7 614.5 310.1 614.8 312.2 615.2 313.5 615.5 314.8 615.8 316.2 616.2 313.1 616.5 310.3 616.9 309.3 617.2 308.3 617.5 307.6 617.9 307.0 618.2 306.4 618.5 303.0 618.9 298.9 619.2 294.7 619.6 291.1 619.9 289.3 620.2 287.4 620.6 287.8 620.9 288.8 621.2 290.8 621.6 294.7 621.9 299.4 622.3 304.2 622.6 308.9 622.9 312.4 623.3 313.7 623.6 315.1 623.9 316.4 624.3 313.7 624.6 311.1 625.0 309.8 625.3 308.9 625.6 308.1 626.0 307.6 626.3 307.0 626.7 306.5 627.0 304.1 627.3 300.5 627.7 296.9 628.0 293.3 628.4 290.5 628.7 288.9 629.1 287.3 629.4 287.2 629.7 287.9 630.1 289.3 630.4 291.1 630.8 295.1 631.1 299.2 631.4 303.3 631.8 307.5 632.1 311.6 632.5 312.9 632.8 314.1 633.1 315.2 633.5 316.3 633.8 313.6 634.2 310.9 634.5 310.0 634.9 309.1 635.2 308.4 635.5 307.8 635.9 307.2 636.2 305.1 636.6 301.5 636.9 298.0 637.3 294.4 637.6 292.4 637.9 290.8 638.3 289.8 638.6 290.6 639.0 291.8 639.3 293.5 639.7 297.4 640.0 301.4 640.3 305.3 640.7 309.2 641.0 311.6 641.4 312.6 641.7 313.6 642.1 314.7 642.4 312.0 642.7 309.3 643.1 308.2 643.4 307.4 643.8 306.6 644.1 306.1 644.4 305.6 644.8 305.1 645.1 301.7 645.5 297.9 645.8 294.2 646.1 290.4 646.5 288.5 646.8 286.8 647.2 285.5 647.5 286.3 647.9 287.4 648.2 289.3 648.5 292.7 648.9 297.1 649.2 301.5 649.6 306.0 649.9 310.4 650.2 312.4 650.6 313.6 650.9 314.9 651.3 316.2 651.6 313.4 651.9 310.7 652.3 309.8 652.6 308.9 652.9 308.2 653.3 307.6 653.6 307.1 654.0 303.9 654.3 300.1 654.6 296.3 655.0 292.9 655.3 291.3 655.6 289.6 656.0 289.9 656.3 290.8 656.6 292.7 657.0 296.2 657.3 300.5 657.7 304.8 658.0 309.2 658.3 312.3 658.7 313.5 659.0 314.7 659.3 315.9 659.7 312.9 660.0 310.0 660.3 309.0 660.7 308.1 661.0 307.3 661.3 306.7 661.7 306.1 662.0 303.8 662.3 299.8 662.7 295.8 663.0 291.8 663.3 289.4 663.7 287.7 664.0 286.5 664.4 287.4 664.7 288.8 665.0 290.8 665.4 295.3 665.7 299.9 666.0 304.5 666.4 309.1 666.7 312.1 667.0 313.3 667.4 314.6 667.7 315.9 668.0 312.6 668.4 309.6 668.7 308.5 669.0 307.5 669.4 306.7 669.7 306.0 670.1 305.3 670.4 301.8 670.7 297.6 671.1 293.4 671.4 289.6 671.8 287.8 672.1 286.0 672.4 286.3 672.8 287.3 673.1 289.3 673.5 293.1 673.8 297.8 674.1 302.4 674.5 307.0 674.8 310.4 675.2 311.6 675.5 312.8 675.8 314.0 676.2 311.7 676.5 309.4 676.8 308.2 677.2 307.5 677.5 306.7 677.8 306.3 678.2 305.8 678.5 305.4 678.9 304.1 679.2 300.9 679.5 297.6 679.9 294.3 680.2 291.0 680.5 289.5 680.9 288.0 681.2 286.7 681.6 287.4 681.9 288.1 682.2 289.7 682.6 292.0 682.9 295.9 683.2 299.8 683.6 303.7 683.9 307.6 684.2 311.4 684.6 312.5 684.9 313.7 685.3 314.8 685.6 315.9 685.9 312.6 686.3 309.6 686.6 308.5 687.0 307.4 687.3 306.6 687.6 306.0 688.0 304.9 688.3 300.3 688.7 295.8 689.0 291.2 689.4 288.3 689.7 286.3 690.1 285.3 690.4 286.3 690.7 288.2 691.1 291.5 691.4 296.7 691.8 301.8 692.1 307.0 692.5 311.4 692.8 312.8 693.1 314.2 693.5 315.6 693.8 312.7 694.2 309.9 694.5 308.8 694.9 307.8 695.2 307.0 695.6 306.3 695.9 305.7 696.2 304.5 696.6 300.8 696.9 297.2 697.3 293.6 697.6 290.6 698.0 289.0 698.3 287.5 698.6 287.5 699.0 288.3 699.3 289.8 699.7 292.2 700.0 296.1 700.4 299.9 700.7 303.7 701.0 307.5 701.4 309.5 701.7 310.4 702.1 311.3 702.4 312.3 702.8 309.8 703.1 307.3 703.5 306.6 703.8 305.8 704.1 305.2 704.5 304.7 704.8 304.2 705.2 302.3 705.5 298.8 705.8 295.4 706.2 291.9 706.5 289.9 706.9 288.4 707.2 287.4 707.6 288.1 707.9 289.4 708.2 291.1 708.6 295.2 708.9 299.2 709.3 303.3 709.6 307.4 710.0 310.1 710.3 311.2 710.6 312.4 711.0 313.6 711.3 310.9 711.7 308.3 712.0 307.4 712.4 306.6 712.7 305.9 713.0 305.4 713.4 304.9 713.7 301.8 714.1 298.0 714.4 294.2 714.8 290.9 715.1 289.2 715.5 287.5 715.8 287.8 716.1 288.7 716.5 290.6 716.8 294.2 717.2 298.6 717.5 303.0 717.9 307.4 718.2 310.7 718.6 311.9 718.9 313.2 719.2 314.4 719.6 311.4 719.9 308.6 720.3 307.7 720.6 306.7 721.0 306.0 721.3 305.4 721.7 304.8 722.0 301.5 722.3 297.4 722.7 293.3 723.0 289.7 723.4 287.9 723.7 286.1 724.1 286.5 724.4 287.5 724.8 289.5 725.1 293.3 725.4 298.0 725.8 302.6 726.1 307.3 726.5 310.8 726.8 312.1 727.2 313.4 727.5 314.7 727.9 312.1 728.2 309.5 728.5 308.6 728.9 307.8 729.2 307.1 729.6 306.6 729.9 306.1 730.3 305.0 730.6 301.2 730.9 297.4 731.3 293.6 731.6 290.4 732.0 288.6 732.3 286.9 732.7 287.0 733.0 287.8 733.3 289.6 733.7 292.5 734.0 297.1 734.4 301.7 734.7 306.4 735.1 311.2 735.4 313.8 735.8 315.2 736.1 316.6 736.4 318.1 736.8 315.0 737.1 312.0 737.5 310.8 737.8 309.8 738.2 308.9 738.5 308.2 738.8 307.6 739.2 306.3 739.5 302.4 739.9 298.6 740.2 294.8 740.6 291.7 740.9 290.1 741.2 288.5 741.6 288.5 741.9 289.3 742.3 290.9 742.6 293.4 743.0 297.4 743.3 301.4 743.6 305.4 744.0 309.3 744.3 311.3 744.7 312.3 745.0 313.2 745.4 314.1 745.7 311.3 746.0 308.9 746.4 308.1 746.7 307.2 747.0 306.7 747.4 306.2 747.7 304.3 748.1 300.2 748.4 296.1 748.7 292.2 749.1 290.3 749.4 288.5 749.7 289.1 750.1 290.4 750.4 292.6 750.8 297.6 751.1 302.6 751.4 307.6 751.8 312.4 752.1 313.9 752.5 315.4 752.8 316.9 753.1 314.1 753.5 311.3 753.8 310.4 754.2 309.5 754.5 308.8 754.8 308.2 755.2 307.7 755.5 305.4 755.9 301.5 756.2 297.6 756.6 293.6 756.9 291.3 757.2 289.6 757.6 288.5 757.9 289.3 758.3 290.7 758.6 292.7 759.0 297.2 759.3 301.8 759.6 306.4 760.0 311.0 760.3 314.0 760.7 315.3 761.0 316.6 761.4 317.9 761.7 315.0 762.0 312.1 762.4 310.9 762.7 309.9 763.0 309.0 763.4 308.4 763.7 307.8 764.0 307.2 764.4 303.7 764.7 299.9 765.0 296.1 765.4 292.3 765.7 290.3 766.0 288.6 766.4 287.4 766.7 288.1 767.0 289.2 767.4 291.0 767.7 294.4 768.0 298.7 768.4 302.9 768.7 307.1 769.1 311.3 769.4 313.1 769.7 314.2 770.1 315.3 770.4 316.4 770.7 313.5 771.1 310.5 771.4 309.6 771.7 308.7 772.1 307.9 772.4 307.3 772.7 306.7 773.1 304.4 773.4 300.4 773.7 296.3 774.1 292.3 774.4 289.9 774.7 288.1 775.1 287.0 775.4 287.9 775.7 289.3 776.1 291.3 776.4 295.9 776.7 300.6 777.1 305.3 777.4 309.9 777.7 312.9 778.1 314.2 778.4 315.5 778.7 316.8 779.1 314.0 779.4 311.3 779.8 310.3 780.1 309.4 780.5 308.6 780.8 308.0 781.1 307.4 781.5 304.3 781.8 300.6 782.2 297.0 782.5 293.7 782.9 292.1 783.2 290.6 783.5 290.8 783.9 291.7 784.2 293.4 784.6 296.7 784.9 300.7 785.3 304.6 785.6 308.5 785.9 311.4 786.3 312.4 786.6 313.3 787.0 314.3 787.3 311.9 787.6 309.4 788.0 308.2 788.3 307.4 788.7 306.6 789.0 306.1 789.4 305.6 789.7 305.1 790.1 302.9 790.4 299.6 790.7 296.3 791.1 293.0 791.4 290.5 791.8 289.0 792.1 287.5 792.5 287.4 792.8 288.1 793.1 289.3 793.5 291.0 793.8 294.6 794.2 298.4 794.5 302.1 794.9 305.9 795.2 309.6 795.5 310.9 795.9 311.9 796.2 312.9 796.6 313.9 796.9 311.5 797.3 309.0 797.6 308.3 797.9 307.6 798.3 307.0 798.6 306.6 799.0 306.2 799.3 304.2 799.7 300.5 800.0 296.9 800.4 293.2 800.7 291.0 801.0 289.4 801.4 288.3 801.7 289.1 802.1 290.5 802.4 292.4 802.8 296.9 803.1 301.4 803.4 306.0 803.8 310.6" fill="none" stroke="#006400" stroke-width="1.4" stroke-linejoin="round"/>
<path d="M905.9 335.4 906.2 321.8 906.6 311.6 906.9 309.2 907.3 307.8 907.6 306.5 907.9 295.7 908.3 283.9 908.6 280.3 909.0 282.8 909.3 284.9 909.6 285.5 910.0 283.8 910.3 286.0 910.6 293.8 911.0 308.3 911.3 322.9 911.7 337.6 912.0 324.2 912.3 311.8 912.7 309.4 913.0 307.7 913.4 306.3 913.7 302.0 914.0 290.5 914.4 279.2 914.7 277.0 915.1 279.6 915.4 281.9 915.7 282.7 916.1 281.5 916.4 281.5 916.8 284.7 917.1 296.4 917.4 310.2 917.8 324.0 918.1 337.8 918.5 325.9 918.8 314.9 919.1 312.9 919.5 311.4 919.8 310.3 920.2 306.4 920.5 295.8 920.8 285.4 921.2 283.4 921.5 285.8 921.9 288.0 922.2 288.8 922.6 287.7 922.9 287.6 923.2 290.7 923.6 302.0 923.9 315.4 924.3 329.0 924.6 342.6 924.9 327.9 925.3 314.4 925.6 311.7 926.0 309.6 926.3 308.0 926.7 303.3 927.0 291.2 927.4 279.5 927.7 277.3 928.1 279.9 928.4 282.3 928.8 283.0 929.1 281.8 929.4 281.7 929.8 284.8 930.1 296.3 930.5 309.8 930.8 323.0 931.2 336.2 931.5 322.0 931.9 312.4 932.2 310.0 932.6 308.6 932.9 305.0 933.3 293.0 933.7 283.7 934.0 283.3 934.4 286.5 934.7 287.3 935.1 286.3 935.4 287.0 935.8 292.5 936.1 306.8 936.5 321.1 936.8 335.3 937.2 322.3 937.5 311.4 937.8 309.2 938.2 307.7 938.5 306.5 938.8 299.2 939.2 287.6 939.5 280.1 939.8 279.9 940.2 283.2 940.5 284.2 940.9 283.9 941.2 282.5 941.5 285.9 941.9 296.0 942.2 310.8 942.5 325.7 942.9 340.7 943.2 327.0 943.6 314.5 943.9 312.0 944.2 310.1 944.6 308.6 944.9 304.2 945.3 293.0 945.6 282.1 946.0 280.0 946.3 282.5 946.6 284.7 947.0 285.4 947.3 284.2 947.7 284.1 948.0 287.1 948.4 297.7 948.7 310.2 949.0 322.6 949.4 334.8 949.7 321.3 950.0 311.1 950.4 308.7 950.7 307.4 951.0 306.1 951.4 295.5 951.7 283.8 952.0 280.3 952.4 282.7 952.7 284.8 953.1 285.4 953.4 283.7 953.7 285.8 954.1 293.5 954.4 307.7 954.7 321.9 955.1 336.1 955.4 322.9 955.8 310.7 956.1 308.4 956.5 306.7 956.8 305.5 957.2 301.2 957.5 289.6 957.9 278.2 958.2 276.0 958.6 278.6 958.9 281.0 959.3 281.9 959.6 280.6 960.0 280.6 960.3 283.9 960.7 296.0 961.0 310.4 961.4 324.9 961.7 339.5 962.0 325.7 962.4 313.0 962.7 310.5 963.1 308.7 963.4 307.3 963.7 302.8 964.1 291.1 964.4 279.5 964.8 277.3 965.1 279.9 965.4 282.3 965.8 283.1 966.1 281.9 966.5 281.8 966.8 285.1 967.1 297.1 967.5 311.2 967.8 325.3 968.1 339.4 968.5 326.6 968.8 314.9 969.2 312.6 969.5 310.8 969.8 309.5 970.2 305.4 970.5 294.7 970.8 284.2 971.2 282.2 971.5 284.6 971.9 286.7 972.2 287.5 972.5 286.3 972.9 286.3 973.2 289.1 973.6 299.7 973.9 312.0 974.2 324.3 974.6 336.5 974.9 322.1 975.3 311.2 975.6 308.6 976.0 307.1 976.3 305.7 976.7 294.6 977.0 282.4 977.4 278.8 977.7 281.2 978.1 283.4 978.4 283.9 978.8 282.2 979.1 284.4 979.5 292.2 979.8 306.6 980.2 320.9 980.5 335.2 980.9 323.4 981.2 312.6 981.6 310.4 981.9 308.9 982.3 307.7 982.6 303.9 983.0 293.8 983.3 283.8 983.7 281.9 984.0 284.2 984.4 286.3 984.7 287.0 985.1 285.9 985.4 285.8 985.8 288.7 986.1 299.0 986.5 311.2 986.8 323.3 987.2 335.5 987.5 322.5 987.8 311.5 988.2 309.3 988.5 307.8 988.9 306.7 989.2 299.2 989.5 287.4 989.9 279.8 990.2 279.6 990.6 283.0 990.9 284.1 991.2 283.7 991.6 282.3 991.9 285.7 992.3 296.2 992.6 311.3 992.9 326.6 993.3 342.1 993.6 327.4 994.0 315.2 994.3 312.5 994.7 310.6 995.0 309.1 995.4 301.1 995.7 289.0 996.1 281.2 996.4 280.9 996.7 284.3 997.1 285.3 997.4 284.9 997.8 283.4 998.1 286.7 998.5 296.5 998.8 310.5 999.2 324.4 999.5 338.1 999.9 324.4 1000.2 312.9 1000.5 310.4 1000.9 308.8 1001.2 307.4 1001.6 299.9 1001.9 288.3 1002.2 280.8 1002.6 280.6 1002.9 283.8 1003.3 284.8 1003.6 284.4 1004.0 283.0 1004.3 286.2 1004.6 295.8 1005.0 309.6 1005.3 323.3 1005.7 337.0 1006.0 322.9 1006.4 312.2 1006.7 309.8 1007.1 308.4 1007.4 307.0 1007.8 295.8 1008.1 283.4 1008.5 279.6 1008.8 282.2 1009.2 284.5 1009.5 285.0 1009.9 283.3 1010.2 285.6 1010.6 293.9 1010.9 309.3 1011.3 324.8 1011.6 340.4 1012.0 326.4 1012.3 313.6 1012.7 311.1 1013.0 309.2 1013.4 307.8 1013.7 303.3 1014.1 291.4 1014.4 279.8 1014.7 277.6 1015.1 280.3 1015.4 282.6 1015.8 283.5 1016.1 282.2 1016.5 282.1 1016.8 285.4 1017.2 297.3 1017.5 311.2 1017.9 325.2 1018.2 339.1 1018.6 325.3 1018.9 313.8 1019.3 311.3 1019.6 309.7 1019.9 308.3 1020.3 300.7 1020.6 289.1 1021.0 281.7 1021.3 281.5 1021.7 284.7 1022.0 285.7 1022.4 285.3 1022.7 283.9 1023.0 287.1 1023.4 296.6 1023.7 310.3 1024.1 323.9 1024.4 337.4 1024.8 325.1 1025.1 313.8 1025.4 311.6 1025.8 309.9 1026.1 308.6 1026.5 304.6 1026.8 294.3 1027.2 284.2 1027.5 282.3 1027.9 284.6 1028.2 286.7 1028.6 287.4 1028.9 286.3 1029.2 286.2 1029.6 289.0 1029.9 299.1 1030.3 311.0 1030.6 322.8 1031.0 334.5 1031.3 321.9 1031.7 311.4 1032.0 309.1 1032.4 307.6 1032.7 306.4 1033.1 299.4 1033.4 288.8 1033.8 281.9 1034.1 281.7 1034.5 284.7 1034.8 285.6 1035.2 285.3 1035.5 284.0 1035.9 286.9 1036.2 295.7 1036.6 308.5 1036.9 321.2 1037.3 333.8 1037.6 322.2 1037.9 310.6 1038.3 308.5 1038.6 306.8 1039.0 305.7 1039.3 304.5 1039.6 294.6 1040.0 284.6 1040.3 279.6 1040.6 279.6 1041.0 282.3 1041.3 283.4 1041.7 283.7 1042.0 282.3 1042.3 283.4 1042.7 286.2 1043.0 298.2 1043.4 310.1 1043.7 322.1 1044.0 334.1 1044.4 323.4 1044.7 312.6 1045.0 309.9 1045.4 308.3 1045.7 307.3 1046.0 306.3 1046.4 299.4 1046.7 289.9 1047.1 281.7 1047.4 279.9 1047.7 282.2 1048.1 284.5 1048.4 285.2 1048.7 284.8 1049.1 283.4 1049.4 285.7 1049.8 290.4 1050.0 283.5 1050.9 334.3 1051.6 310.5 1053.8 278.6 1054.9 284.6 1055.6 283.5 1057.0 339.7 1058.6 313.8 1060.6 275.9 1061.7 280.3 1063.2 348.9 1065.1 293.2 1066.2 260.8 1067.3 282.4 1068.4 274.9 1069.2 286.8 1070.0 268.4 1070.8 293.2 1071.4 369.5 1072.2 314.9 1072.7 290.0 1074.0 301.9 1075.4 310.5 1078.3 270.5 1080.3 340.3 1082.4 276.5 1084.4 346.2 1087.1 269.5 1088.7 345.7 1091.1 272.2 1093.2 341.4 1096.3 270.0 1098.4 338.1 1101.1 271.1 1103.5 341.9 1106.4 286.8 1108.9 340.8 1109.2 309.8 1109.5 308.4 1109.8 300.7 1110.2 288.8 1110.5 281.2 1110.9 280.9 1111.2 284.3 1111.6 285.3 1111.9 284.9 1112.3 283.5 1112.6 286.8 1113.0 296.6 1113.3 310.7 1113.6 324.9 1114.0 339.0 1114.3 325.9 1114.7 314.0 1115.0 311.5 1115.4 309.7 1115.7 308.3 1116.1 304.1 1116.4 293.4 1116.7 282.9 1117.1 281.0 1117.4 283.3 1117.8 285.4 1118.1 286.1 1118.5 285.0 1118.8 284.9 1119.1 287.7 1119.5 297.9 1119.8 309.9 1120.2 321.8 1120.5 333.5 1120.9 321.4 1121.2 311.3 1121.5 309.2 1121.9 307.8 1122.2 306.7 1122.5 299.9 1122.9 289.2 1123.2 282.3 1123.5 282.1 1123.9 285.2 1124.2 286.1 1124.5 285.8 1124.9 284.5 1125.2 287.6 1125.6 296.8 1125.9 310.3 1126.2 323.8 1126.6 337.5 1126.9 325.4 1127.2 313.3 1127.6 311.2 1127.9 309.4 1128.2 308.2 1128.6 306.9 1128.9 296.7 1129.3 286.5 1129.6 281.3 1129.9 281.3 1130.3 284.1 1130.6 285.3 1130.9 285.6 1131.3 284.1 1131.6 285.3 1131.9 288.1 1132.3 300.2 1132.6 312.3 1133.0 324.3 1133.3 336.4 1133.6 323.8 1134.0 312.4 1134.3 310.1 1134.7 308.4 1135.0 307.1 1135.3 303.1 1135.7 292.5 1136.0 282.2 1136.3 280.2 1136.7 282.6 1137.0 284.7 1137.4 285.4 1137.7 284.3 1138.0 284.2 1138.4 287.1 1138.7 297.6 1139.1 310.0 1139.4 322.4 1139.7 334.7 1140.1 323.5 1140.4 312.2 1140.7 310.3 1141.1 308.8 1141.4 307.8 1141.7 306.7 1142.1 296.7 1142.4 286.6 1142.7 281.4 1143.1 281.4 1143.4 284.3 1143.7 285.5 1144.1 285.8 1144.4 284.4 1144.7 285.6 1145.1 288.6 1145.4 301.5 1145.7 314.6 1146.1 327.8 1146.4 341.1 1146.7 326.9 1147.1 313.9 1147.4 311.4 1147.8 309.5 1148.1 308.1 1148.4 303.5 1148.8 291.2 1149.1 279.2 1149.4 276.9 1149.8 279.6 1150.1 282.1 1150.4 283.0 1150.8 281.7 1151.1 281.6 1151.5 285.1 1151.8 297.7 1152.1 312.7 1152.5 327.6 1152.8 342.6 1153.1 327.9 1153.5 315.6 1153.8 312.9 1154.2 311.1 1154.5 309.5 1154.8 301.5 1155.2 289.3 1155.5 281.5 1155.9 281.3 1156.2 284.6 1156.6 285.7 1156.9 285.3 1157.2 283.8 1157.6 287.1 1157.9 296.9 1158.3 310.9 1158.6 324.8 1158.9 338.6 1159.3 326.8 1159.6 315.1 1159.9 312.0 1160.3 310.1 1160.6 308.9 1160.9 307.7 1161.3 300.5 1161.6 290.6 1161.9 282.2 1162.3 280.4 1162.6 282.7 1162.9 285.0 1163.3 285.6 1163.6 285.2 1164.0 283.8 1164.3 286.0 1164.6 290.5 1165.0 302.1 1165.3 313.7 1165.6 325.2 1166.0 336.7 1166.3 324.9 1166.6 314.1 1167.0 312.1 1167.3 310.5 1167.7 309.4 1168.0 305.5 1168.4 295.4 1168.7 285.5 1169.1 283.6 1169.4 285.9 1169.8 287.9 1170.1 288.6 1170.5 287.6 1170.8 287.5 1171.2 290.4 1171.5 300.7 1171.9 313.0 1172.2 325.3 1172.6 337.7 1172.9 324.6 1173.3 313.8 1173.6 311.4 1173.9 309.8 1174.3 308.4 1174.6 301.4 1175.0 290.6 1175.3 283.7 1175.7 283.5 1176.0 286.5 1176.4 287.4 1176.7 287.0 1177.1 285.7 1177.4 288.6 1177.8 297.3 1178.1 309.7 1178.4 322.0 1178.8 334.2 1179.1 322.5 1179.5 311.9 1179.8 309.8 1180.1 308.3 1180.5 307.2 1180.8 303.4 1181.2 293.3 1181.5 283.3 1181.8 281.4 1182.2 283.7 1182.5 285.8 1182.8 286.5 1183.2 285.5 1183.5 285.4 1183.9 288.3 1184.2 298.8 1184.5 311.3 1184.9 323.8 1185.2 336.3 1185.6 321.3 1185.9 309.9 1186.2 307.3 1186.6 305.8 1186.9 304.4 1187.3 292.4 1187.6 279.1 1187.9 275.1 1188.3 277.9 1188.6 280.3 1189.0 280.9 1189.3 279.0 1189.6 281.5 1190.0 290.3 1190.3 306.8 1190.7 323.4 1191.0 340.1 1191.3 326.2 1191.7 313.5 1192.0 310.9 1192.4 309.1 1192.7 307.6 1193.1 303.1 1193.4 291.5 1193.8 280.2 1194.1 278.0 1194.4 280.6 1194.8 282.9 1195.1 283.7 1195.5 282.5 1195.8 282.4 1196.2 285.5 1196.5 296.9 1196.9 310.4 1197.2 323.7 1197.5 337.0 1197.9 324.3 1198.2 312.7 1198.6 310.5 1198.9 308.8 1199.2 307.5 1199.6 303.4 1199.9 292.7 1200.2 282.1 1200.6 280.1 1200.9 282.5 1201.2 284.7 1201.6 285.4 1201.9 284.3 1202.2 284.2 1202.6 287.2 1202.9 298.0 1203.3 310.8 1203.6 323.6 1203.9 336.3 1204.3 322.9 1204.6 311.6 1204.9 309.3 1205.3 307.7 1205.6 306.4 1205.9 298.9 1206.3 287.2 1206.6 279.7 1206.9 279.5 1207.3 282.8 1207.6 283.8 1207.9 283.5 1208.3 282.0 1208.6 285.4 1208.9 295.3 1209.3 309.8 1209.6 324.4 1210.0 339.0 1210.3 324.5 1210.7 313.7 1211.0 311.0 1211.4 309.5 1211.7 308.0 1212.1 297.0 1212.4 285.1 1212.8 281.6 1213.1 284.0 1213.5 286.1 1213.8 286.6 1214.2 284.9 1214.5 287.0 1214.9 294.4 1215.2 308.1 1215.6 321.6 1215.9 335.1 1216.3 321.9 1216.6 312.0 1216.9 309.7 1217.3 308.4 1217.6 307.1 1218.0 296.8 1218.3 285.4 1218.6 282.0 1219.0 284.3 1219.3 286.4 1219.6 286.9 1220.0 285.3 1220.3 287.4 1220.7 294.9 1221.0 308.9 1221.3 322.9 1221.7 336.9 1222.0 323.0 1222.4 312.5 1222.7 310.0 1223.1 308.5 1223.4 307.1 1223.8 296.4 1224.1 284.6 1224.5 281.1 1224.8 283.5 1225.2 285.6 1225.5 286.1 1225.9 284.4 1226.2 286.5 1226.6 294.0 1226.9 307.9 1227.3 321.8 1227.6 335.6 1228.0 322.2 1228.3 312.0 1228.7 309.7 1229.0 308.4 1229.4 307.1 1229.7 296.4 1230.1 284.5 1230.4 280.9 1230.8 283.4 1231.1 285.5 1231.5 286.1 1231.8 284.4 1232.2 286.6 1232.5 294.6 1232.9 309.4 1233.2 324.3 1233.6 339.4 1233.9 324.5 1234.2 313.4 1234.6 310.7 1234.9 309.1 1235.3 307.6 1235.6 296.2 1235.9 283.7 1236.3 280.0 1236.6 282.5 1237.0 284.7 1237.3 285.2 1237.6 283.5 1238.0 285.7 1238.3 293.6 1238.6 308.3 1239.0 323.0 1239.3 337.5 1239.7 324.4 1240.0 314.5 1240.4 312.2 1240.7 310.9 1241.1 309.7 1241.4 299.2 1241.8 287.6 1242.1 284.2 1242.5 286.6 1242.8 288.7 1243.2 289.2 1243.5 287.6 1243.9 289.7 1244.2 297.5 1244.6 311.9 1244.9 326.5 1245.3 341.2 1245.6 322.2 1246.0 312.6 1246.3 309.8 1246.7 307.8 1247.1 295.0 1247.4 281.2 1247.8 280.3 1248.1 284.0 1248.5 284.8 1248.8 282.7 1249.2 286.3 1249.5 301.0 1249.9 318.0 1250.2 334.8 1250.6 322.0 1250.9 311.2 1251.2 309.0 1251.6 307.5 1251.9 306.3 1252.2 299.1 1252.6 287.8 1252.9 280.5 1253.2 280.3 1253.6 283.5 1253.9 284.5 1254.2 284.2 1254.6 282.8 1254.9 286.0 1255.2 295.8 1255.6 310.0 1255.9 324.3 1256.2 338.7 1256.6 326.2 1256.9 314.7 1257.2 312.4 1257.6 310.8 1257.9 309.6 1258.3 305.5 1258.6 294.8 1258.9 284.2 1259.3 282.2 1259.6 284.6 1260.0 286.8 1260.3 287.6 1260.7 286.4 1261.0 286.4 1261.3 289.4 1261.7 300.3 1262.0 313.2 1262.4 326.1 1262.7 339.1 1263.0 325.9 1263.4 314.9 1263.7 312.5 1264.1 310.9 1264.4 309.6 1264.8 302.4 1265.1 291.3 1265.4 284.2 1265.8 284.0 1266.1 287.1 1266.5 288.0 1266.8 287.7 1267.1 286.3 1267.5 289.3 1267.8 298.4 1268.2 311.5 1268.5 324.5 1268.9 337.4 1269.2 322.7 1269.5 312.9 1269.9 310.4 1270.2 308.9 1270.6 305.3 1270.9 292.8 1271.3 283.1 1271.6 282.7 1272.0 286.0 1272.3 286.9 1272.7 285.8 1273.0 286.5 1273.4 292.3 1273.7 307.2 1274.1 322.2 1274.4 337.1 1274.8 323.5 1275.1 313.2 1275.5 310.8 1275.8 309.4 1276.2 308.1 1276.5 297.3 1276.9 285.5 1277.2 281.9 1277.6 284.3 1277.9 286.5 1278.3 287.0 1278.6 285.4 1279.0 287.5 1279.3 295.4 1279.7 310.1 1280.0 324.8 1280.4 339.6 1280.7 322.5 1281.1 313.9 1281.4 311.5 1281.8 309.7 1282.1 297.9 1282.5 285.0 1282.8 284.2 1283.2 287.7 1283.5 288.6 1283.9 286.6 1284.3 290.0 1284.6 304.2 1285.0 320.9 1285.3 337.6 1285.7 323.1 1286.0 312.2 1286.4 309.6 1286.7 308.1 1287.1 306.6 1287.4 295.5 1287.8 283.3 1288.1 279.6 1288.5 282.1 1288.8 284.3 1289.2 284.8 1289.5 283.1 1289.9 285.3 1290.2 293.1 1290.6 307.6 1290.9 322.0 1291.3 336.4 1291.6 321.7 1292.0 311.9 1292.3 309.4 1292.7 307.9 1293.0 304.2 1293.3 291.8 1293.7 282.2 1294.0 281.7 1294.4 285.1 1294.7 285.9 1295.1 284.8 1295.4 285.6 1295.8 291.2 1296.1 306.0 1296.5 320.7 1296.8 335.3 1297.2 321.3 1297.5 310.7 1297.8 308.3 1298.2 306.9 1298.5 305.6 1298.9 294.5 1299.2 282.2 1299.6 278.5 1299.9 281.1 1300.3 283.3 1300.6 283.9 1301.0 282.1 1301.3 284.4 1301.6 292.5 1302.0 307.7 1302.3 322.9 1302.7 338.3 1303.0 326.0 1303.4 314.7 1303.7 312.5 1304.0 310.9 1304.4 309.7 1304.7 305.7 1305.0 295.2 1305.4 284.9 1305.7 282.9 1306.0 285.3 1306.4 287.4 1306.7 288.1 1307.1 287.0 1307.4 287.0 1307.7 289.9 1308.1 300.7 1308.4 313.4 1308.7 326.1 1309.1 338.8 1309.4 323.9 1309.8 312.6 1310.1 310.0 1310.5 308.5 1310.8 307.0 1311.2 295.3 1311.5 282.5 1311.9 278.6 1312.2 281.3 1312.6 283.6 1313.0 284.2 1313.3 282.4 1313.7 284.7 1314.0 293.1 1314.4 308.7 1314.7 324.3 1315.1 339.9 1315.4 325.9 1315.8 313.0 1316.1 310.5 1316.4 308.6 1316.8 307.2 1317.1 302.6 1317.5 290.8 1317.8 279.2 1318.2 277.0 1318.5 279.6 1318.9 282.0 1319.2 282.8 1319.6 281.6 1319.9 281.5 1320.3 284.7 1320.6 296.5 1320.9 310.4 1321.3 324.2 1321.6 338.0 1322.0 321.5 1322.3 311.8 1322.7 309.3 1323.0 307.6 1323.4 299.8 1323.7 285.8 1324.1 279.8 1324.4 282.4 1324.8 284.6 1325.1 284.4 1325.5 283.6 1325.8 287.5 1326.2 304.2 1326.5 320.8 1326.9 337.5 1327.2 321.7 1327.6 311.1 1327.9 308.5 1328.2 307.0 1328.6 303.1 1328.9 289.4 1329.3 278.7 1329.6 278.2 1330.0 282.0 1330.3 283.0 1330.7 281.7 1331.0 282.6 1331.3 289.1 1331.7 306.1 1332.0 323.2 1332.4 340.4 1332.7 325.9 1333.1 313.9 1333.4 311.3 1333.8 309.5 1334.1 308.0 1334.5 300.2 1334.8 288.2 1335.2 280.5 1335.5 280.2 1335.9 283.6 1336.2 284.6 1336.6 284.2 1336.9 282.7 1337.3 286.0 1337.6 295.7 1338.0 309.6 1338.3 323.5 1338.7 337.3 1339.0 324.0 1339.4 314.0 1339.7 311.7 1340.0 310.3 1340.4 309.0 1340.7 298.6 1341.0 287.3 1341.4 283.8 1341.7 286.2 1342.1 288.2 1342.4 288.7 1342.7 287.1 1343.1 289.2 1343.4 296.6 1343.7 310.3 1344.1 324.0 1344.4 337.8 1344.7 324.6 1345.1 313.6 1345.4 311.3 1345.8 309.7 1346.1 308.4 1346.4 301.1 1346.8 289.8 1347.1 282.6 1347.4 282.4 1347.8 285.5 1348.1 286.5 1348.5 286.2 1348.8 284.8 1349.1 287.9 1349.5 297.4 1349.8 311.0 1350.2 324.7 1350.5 338.4 1350.8 326.3 1351.2 315.3 1351.5 313.1 1351.9 311.4 1352.2 310.2 1352.6 306.3 1352.9 296.3 1353.3 286.5 1353.6 284.6 1354.0 286.8 1354.3 288.8 1354.7 289.5 1355.1 288.4 1355.4 288.4 1355.8 291.1 1356.1 300.9 1356.5 312.4 1356.8 323.8 1357.2 335.1 1357.5 321.0 1357.9 310.3 1358.2 307.8 1358.6 306.4 1358.9 305.0 1359.3 293.9 1359.6 281.7 1360.0 278.0 1360.3 280.5 1360.6 282.7 1361.0 283.3 1361.3 281.6 1361.7 283.8 1362.0 291.9 1362.4 306.8 1362.7 321.8 1363.1 336.9 1363.4 323.4 1363.8 312.2 1364.1 309.8 1364.4 308.1 1364.8 306.7 1365.1 299.4 1365.4 288.3 1365.8 281.1 1366.1 280.9 1366.4 284.0 1366.8 284.9 1367.1 284.6 1367.4 283.2 1367.8 286.2 1368.1 295.2 1368.4 308.1 1368.8 320.9 1369.1 333.6 1369.4 321.6 1369.8 311.4 1370.1 309.4 1370.4 308.0 1370.8 306.9 1371.1 300.1 1371.4 289.3 1371.8 282.3 1372.1 282.1 1372.4 285.2 1372.8 286.2 1373.1 285.9 1373.4 284.5 1373.8 287.7 1374.1 297.2 1374.4 311.0 1374.8 325.0 1375.1 339.1 1375.5 324.0 1375.8 313.9 1376.2 311.3 1376.5 309.7 1376.9 305.9 1377.2 293.4 1377.6 283.8 1377.9 283.3 1378.3 286.7 1378.6 287.5 1379.0 286.4 1379.3 287.1 1379.7 292.7 1380.0 307.0 1380.4 321.2 1380.7 335.3 1381.1 322.5 1381.4 312.7 1381.8 310.5 1382.1 309.2 1382.4 308.0 1382.8 297.7 1383.1 286.4 1383.5 282.9 1383.8 285.3 1384.1 287.4 1384.5 287.9 1384.8 286.3 1385.2 288.4 1385.5 296.1 1385.9 310.3 1386.2 324.7 1386.5 339.1 1386.9 323.6 1387.2 311.9 1387.6 309.1 1387.9 307.5 1388.3 306.0 1388.6 293.9 1389.0 280.7 1389.3 276.7 1389.7 279.4 1390.0 281.8 1390.4 282.4 1390.7 280.5 1391.1 282.9 1391.4 291.4 1391.8 307.2 1392.1 323.0 1392.4 338.8 1392.8 324.8 1393.2 314.3 1393.5 311.9 1393.9 310.4 1394.2 309.1 1394.6 298.1 1394.9 286.1 1395.3 282.5 1395.6 285.0 1396.0 287.1 1396.3 287.7 1396.7 286.0 1397.0 288.2 1397.4 296.0 1397.7 310.7 1398.1 325.3 1398.4 340.0 1398.8 326.0 1399.1 314.3 1399.5 311.7 1399.8 310.0 1400.1 308.6 1400.5 300.9 1400.8 289.2 1401.1 281.7 1401.5 281.5 1401.8 284.7 1402.1 285.7 1402.5 285.3 1402.8 283.9 1403.1 287.1 1403.5 296.6 1403.8 310.2 1404.1 323.7 1404.5 337.2 1404.8 323.2 1405.2 312.6 1405.5 310.2 1405.9 308.8 1406.2 307.5 1406.6 296.3 1406.9 283.8 1407.3 280.1 1407.6 282.7 1408.0 285.0 1408.3 285.6 1408.7 283.8 1409.0 286.1 1409.4 294.5 1409.7 310.1 1410.1 325.9 1410.4 341.8 1410.8 327.6 1411.1 315.7 1411.5 313.1 1411.8 311.3 1412.2 309.8 1412.5 302.1 1412.9 290.6 1413.2 283.2 1413.6 283.0 1413.9 286.1 1414.3 287.1 1414.6 286.7 1415.0 285.3 1415.3 288.4 1415.7 297.4 1416.0 310.2 1416.4 322.9 1416.7 335.4 1417.1 322.6 1417.4 312.9 1417.8 310.8 1418.1 309.5 1418.5 308.4 1418.8 298.0 1419.2 286.4 1419.5 282.9 1419.9 285.3 1420.2 287.5 1420.6 288.1 1420.9 286.4 1421.3 288.6 1421.6 296.5 1422.0 311.3 1422.3 326.3 1422.7 341.4 1423.0 327.0 1423.4 315.1 1423.7 312.5 1424.1 310.7 1424.4 309.2 1424.8 301.4 1425.1 289.4 1425.5 281.7 1425.8 281.5 1426.2 284.8 1426.5 285.8 1426.9 285.4 1427.2 284.0 1427.5 287.3 1427.9 297.0 1428.2 310.9 1428.6 324.8 1428.9 338.6 1429.3 324.6 1429.6 313.0 1430.0 310.5 1430.3 308.8 1430.7 307.3 1431.0 299.7 1431.4 288.0 1431.7 280.6 1432.0 280.4 1432.4 283.6 1432.7 284.6 1433.1 284.2 1433.4 282.8 1433.8 286.0 1434.1 295.5 1434.5 309.2 1434.8 322.8 1435.2 336.4 1435.5 323.1 1435.8 312.1 1436.2 309.7 1436.5 308.2 1436.9 306.9 1437.2 299.5 1437.5 288.1 1437.9 280.8 1438.2 280.6 1438.6 283.8 1438.9 284.8 1439.3 284.5 1439.6 283.0 1439.9 286.3 1440.3 295.8 1440.6 309.7 1441.0 323.6 1441.3 337.5 1441.6 324.5 1442.0 314.8 1442.3 312.4 1442.6 311.0 1443.0 309.7 1443.3 299.8 1443.6 289.1 1444.0 285.9 1444.3 288.1" fill="none" stroke="#006400" stroke-width="1.4" stroke-linejoin="round"/>
<path d="M276.4 489.0 276.8 491.7 277.1 493.7 277.5 494.6 277.8 493.2 278.1 491.8 278.5 490.3 278.8 489.3 279.1 488.4 279.5 487.4 279.8 486.6 280.1 485.9 280.5 485.0 280.8 480.8 281.1 476.4 281.5 472.1 281.8 467.7 282.1 463.7 282.5 459.9 282.8 456.2 283.1 453.5 283.5 452.8 283.8 453.2 284.1 455.0 284.5 456.8 284.8 461.6 285.1 467.0 285.5 472.4 285.8 477.8 286.1 483.3 286.5 488.8 286.8 492.0 287.1 494.6 287.5 497.3 287.8 499.0 288.1 500.1 288.5 497.9 288.8 495.8 289.2 493.8 289.5 492.3 289.8 490.8 290.2 489.5 290.5 488.3 290.9 486.5 291.2 481.4 291.5 476.3 291.9 471.2 292.2 466.4 292.6 462.3 292.9 458.2 293.2 455.6 293.6 454.8 293.9 456.0 294.3 457.9 294.6 461.5 294.9 466.9 295.3 472.1 295.6 477.4 296.0 482.5 296.3 487.0 296.6 489.3 297.0 491.4 297.3 493.0 297.7 493.6 298.0 491.7 298.3 489.8 298.7 487.9 299.0 486.6 299.4 485.4 299.7 484.1 300.0 483.1 300.4 482.1 300.7 478.8 301.1 473.9 301.4 469.0 301.7 464.1 302.1 459.6 302.4 455.5 302.7 451.5 303.1 448.7 303.4 448.0 303.8 448.8 304.1 450.7 304.4 453.2 304.8 458.7 305.1 464.2 305.5 469.6 305.8 475.0 306.1 480.4 306.5 484.3 306.8 486.8 307.2 489.2 307.5 490.9 307.8 491.7 308.2 490.3 308.5 488.9 308.9 487.5 309.2 486.5 309.5 485.6 309.9 484.7 310.2 483.9 310.6 483.2 310.9 482.4 311.3 478.4 311.6 474.5 311.9 470.5 312.3 466.5 312.6 462.9 313.0 459.5 313.3 456.1 313.7 453.7 314.0 453.1 314.3 453.4 314.7 455.0 315.0 456.6 315.4 460.9 315.7 465.7 316.0 470.4 316.4 475.2 316.7 480.0 317.1 484.8 317.4 487.6 317.8 489.8 318.1 492.1 318.4 493.6 318.8 494.4 319.1 492.6 319.5 490.8 319.8 489.0 320.2 487.8 320.5 486.6 320.8 485.4 321.2 484.5 321.5 483.5 321.9 478.9 322.2 473.7 322.6 468.4 322.9 463.2 323.3 458.6 323.6 454.2 323.9 449.7 324.3 448.6 324.6 448.3 325.0 450.4 325.3 452.5 325.7 458.1 326.0 464.3 326.3 470.5 326.7 476.8 327.0 483.0 327.4 488.2 327.7 491.1 328.1 494.1 328.4 496.3 328.7 497.4 329.1 495.4 329.4 493.4 329.7 491.5 330.1 490.1 330.4 488.8 330.7 487.5 331.1 486.5 331.4 485.5 331.8 480.7 332.1 475.4 332.4 470.1 332.8 464.8 333.1 460.2 333.4 455.7 333.8 451.3 334.1 450.2 334.4 449.9 334.8 451.9 335.1 454.0 335.4 459.5 335.8 465.5 336.1 471.6 336.4 477.6 336.8 483.6 337.1 488.5 337.4 491.3 337.8 494.1 338.1 496.1 338.4 497.0 338.8 495.0 339.1 493.0 339.5 491.1 339.8 489.7 340.2 488.4 340.5 487.1 340.9 486.1 341.2 485.0 341.5 480.3 341.9 475.1 342.2 469.9 342.6 464.8 342.9 460.3 343.3 456.0 343.6 451.7 343.9 450.6 344.3 450.3 344.6 452.3 345.0 454.3 345.3 459.5 345.7 465.4 346.0 471.2 346.3 477.0 346.7 482.7 347.0 487.4 347.4 490.0 347.7 492.6 348.1 494.5 348.4 495.4 348.7 493.4 349.1 491.4 349.4 489.4 349.8 488.0 350.1 486.7 350.4 485.4 350.8 484.3 351.1 483.2 351.5 480.9 351.8 475.8 352.1 470.8 352.5 465.8 352.8 460.8 353.1 456.5 353.5 452.4 353.8 448.2 354.2 447.0 354.5 446.3 354.8 448.2 355.2 450.1 355.5 454.0 355.9 459.6 356.2 465.2 356.5 470.8 356.9 476.3 357.2 481.9 357.6 485.4 357.9 487.9 358.2 490.4 358.6 492.0 358.9 492.8 359.2 491.1 359.6 489.4 359.9 487.8 360.3 486.7 360.6 485.6 360.9 484.5 361.3 483.7 361.6 482.2 361.9 477.4 362.3 472.6 362.6 467.8 362.9 463.1 363.3 459.1 363.6 455.0 363.9 452.3 364.3 451.6 364.6 452.8 365.0 454.8 365.3 458.6 365.6 464.3 366.0 470.1 366.3 475.8 366.6 481.5 367.0 486.7 367.3 489.4 367.6 492.2 368.0 494.2 368.3 495.2 368.7 493.4 369.0 491.6 369.3 489.9 369.7 488.7 370.0 487.5 370.3 486.3 370.7 485.3 371.0 484.4 371.3 481.2 371.7 476.6 372.0 472.0 372.3 467.4 372.7 463.1 373.0 459.3 373.3 455.4 373.7 452.9 374.0 452.1 374.3 452.9 374.7 454.7 375.0 457.1 375.3 462.3 375.7 467.4 376.0 472.5 376.3 477.6 376.7 482.7 377.0 486.4 377.3 488.7 377.7 491.0 378.0 492.5 378.3 493.3 378.7 491.4 379.0 489.6 379.3 487.9 379.7 486.7 380.0 485.5 380.3 484.4 380.7 483.4 381.0 481.8 381.3 476.9 381.7 472.0 382.0 467.1 382.3 462.4 382.7 458.3 383.0 454.2 383.4 451.6 383.7 450.8 384.0 452.1 384.4 454.0 384.7 457.8 385.0 463.4 385.4 469.0 385.7 474.6 386.0 480.2 386.4 485.2 386.7 487.8 387.0 490.4 387.4 492.3 387.7 493.2 388.0 491.4 388.4 489.5 388.7 487.8 389.1 486.5 389.4 485.3 389.7 484.2 390.1 483.2 390.4 480.5 390.8 475.8 391.1 471.0 391.4 466.2 391.8 462.0 392.1 458.1 392.5 454.1 392.8 453.3 393.1 453.4 393.5 455.2 393.8 457.6 394.2 462.9 394.5 468.2 394.8 473.5 395.2 478.7 395.5 483.7 395.9 486.1 396.2 488.4 396.5 490.2 396.9 491.0 397.2 489.8 397.6 488.6 397.9 487.3 398.2 486.4 398.6 485.6 398.9 484.8 399.2 484.2 399.6 483.5 399.9 482.8 400.2 479.1 400.6 475.4 400.9 471.6 401.2 467.8 401.6 464.3 401.9 461.1 402.2 457.8 402.6 455.5 402.9 454.9 403.2 455.2 403.6 456.7 403.9 458.3 404.2 462.6 404.6 467.2 404.9 471.9 405.2 476.6 405.6 481.4 405.9 486.2 406.3 489.0 406.6 491.3 406.9 493.7 407.3 495.1 407.6 496.1 407.9 494.1 408.3 492.2 408.6 490.3 408.9 489.0 409.3 487.7 409.6 486.4 410.0 485.4 410.3 484.4 410.6 480.9 411.0 475.8 411.3 470.6 411.7 465.5 412.0 460.7 412.3 456.4 412.7 452.1 413.0 449.3 413.4 448.5 413.7 449.3 414.0 451.3 414.4 454.1 414.7 459.9 415.0 465.7 415.4 471.5 415.7 477.3 416.1 483.1 416.4 487.4 416.7 490.0 417.1 492.7 417.4 494.5 417.8 495.4 418.1 493.3 418.4 491.2 418.8 489.2 419.1 487.8 419.4 486.4 419.8 485.0 420.1 483.9 420.4 482.8 420.8 479.1 421.1 473.7 421.4 468.4 421.8 463.0 422.1 458.1 422.4 453.6 422.8 449.2 423.1 446.2 423.4 445.4 423.8 446.3 424.1 448.3 424.4 451.1 424.8 457.1 425.1 463.0 425.4 469.0 425.8 474.9 426.1 480.8 426.4 485.1 426.8 487.7 427.1 490.4 427.4 492.2 427.8 493.0 428.1 491.6 428.5 490.1 428.8 488.6 429.1 487.6 429.5 486.6 429.8 485.7 430.2 484.9 430.5 484.2 430.8 480.4 431.2 476.2 431.5 471.9 431.9 467.7 432.2 464.0 432.5 460.4 432.9 456.8 433.2 455.9 433.6 455.7 433.9 457.4 434.2 459.0 434.6 463.6 434.9 468.6 435.3 473.6 435.6 478.6 435.9 483.7 436.3 487.8 436.6 490.2 436.9 492.6 437.3 494.3 437.6 495.2 438.0 493.4 438.3 491.7 438.6 489.9 439.0 488.7 439.3 487.5 439.6 486.4 440.0 485.4 440.3 484.5 440.7 482.3 441.0 477.4 441.3 472.5 441.7 467.6 442.0 462.6 442.3 458.5 442.7 454.3 443.0 450.1 443.4 448.9 443.7 448.2 444.0 450.1 444.4 452.1 444.7 456.1 445.0 461.9 445.4 467.7 445.7 473.5 446.0 479.4 446.4 485.2 446.7 489.1 447.1 491.8 447.4 494.6 447.7 496.4 448.1 497.4 448.4 495.7 448.7 494.0 449.1 492.4 449.4 491.3 449.8 490.1 450.1 489.1 450.4 488.2 450.8 486.7 451.1 482.1 451.5 477.5 451.8 472.8 452.1 468.3 452.5 464.4 452.8 460.5 453.2 458.0 453.5 457.2 453.8 458.5 454.2 460.3 454.5 463.9 454.9 469.3 455.2 474.7 455.5 480.1 455.9 485.5 456.2 490.3 456.5 492.8 456.9 495.3 457.2 497.2 457.6 498.1 457.9 496.5 458.2 494.9 458.6 493.3 458.9 492.0 459.3 490.9 459.6 489.8 459.9 488.8 460.3 488.0 460.6 487.1 460.9 484.7 461.3 480.6 461.6 476.4 461.9 472.3 462.3 468.3 462.6 464.7 463.0 461.2 463.3 457.8 463.6 455.3 464.0 454.7 464.3 454.7 464.6 456.2 465.0 457.8 465.3 461.0 465.7 465.6 466.0 470.2 466.3 474.7 466.7 479.2 467.0 483.7 467.3 488.0 467.7 490.0 468.0 492.1 468.4 494.1 468.7 495.2 469.0 495.8 469.4 494.1 469.7 492.3 470.0 490.5 470.4 489.3 470.7 488.1 471.1 487.0 471.4 486.0 471.7 485.1 472.1 482.9 472.4 478.2 472.8 473.4 473.1 468.6 473.4 463.8 473.8 459.8 474.1 455.8 474.4 451.7 474.8 450.6 475.1 449.9 475.5 451.8 475.8 453.7 476.1 457.5 476.5 463.0 476.8 468.5 477.2 474.1 477.5 479.6 477.8 485.1 478.2 488.7 478.5 491.3 478.9 493.9 479.2 495.5 479.5 496.5 479.9 494.7 480.2 493.0 480.5 491.2 480.9 489.9 481.2 488.7 481.6 487.5 481.9 486.5 482.2 485.6 482.6 484.5 482.9 479.9 483.2 475.4 483.6 470.8 483.9 466.2 484.3 462.1 484.6 458.2 484.9 454.4 485.3 451.7 485.6 451.0 485.9 451.4 486.3 453.1 486.6 454.9 487.0 459.7 487.3 464.8 487.6 470.0 488.0 475.1 488.3 480.2 488.7 485.3 489.0 488.2 489.3 490.6 489.7 492.9 490.0 494.3 490.3 495.1 490.7 493.4 491.0 491.8 491.4 490.2 491.7 489.1 492.1 488.0 492.4 486.9 492.8 486.1 493.1 485.2 493.4 481.1 493.8 476.5 494.1 472.0 494.5 467.4 494.8 463.4 495.2 459.6 495.5 455.7 495.8 454.7 496.2 454.5 496.5 456.3 496.9 458.1 497.2 462.9 497.6 468.2 497.9 473.5 498.3 478.9 498.6 484.2 498.9 488.6 499.3 491.1 499.6 493.6 500.0 495.3 500.3 496.3 500.7 494.3 501.0 492.4 501.4 490.6 501.7 489.3 502.0 488.0 502.4 486.8 502.7 485.8 503.1 484.8 503.4 480.5 503.7 475.7 504.1 471.0 504.4 466.3 504.8 462.2 505.1 458.3 505.5 454.4 505.8 453.4 506.1 453.2 506.5 454.9 506.8 456.7 507.2 461.4 507.5 466.6 507.8 471.7 508.2 476.8 508.5 481.9 508.9 486.0 509.2 488.2 509.6 490.5 509.9 492.0 510.2 492.8 510.6 491.3 510.9 489.9 511.3 488.6 511.6 487.6 511.9 486.7 512.3 485.9 512.6 485.1 512.9 483.8 513.3 479.5 513.6 475.0 514.0 470.6 514.3 466.2 514.6 462.4 515.0 458.5 515.3 456.0 515.7 455.3 516.0 456.5 516.3 458.4 516.7 462.1 517.0 467.6 517.3 473.2 517.7 478.8 518.0 484.5 518.4 489.6 518.7 492.4 519.0 495.2 519.4 497.3 519.7 498.4 520.1 496.0 520.4 493.5 520.7 491.3 521.1 489.7 521.4 488.0 521.8 486.6 522.1 485.3 522.5 481.9 522.8 476.0 523.2 470.0 523.5 464.1 523.8 458.9 524.2 454.0 524.5 449.1 524.9 448.1 525.2 448.3 525.6 450.5 525.9 453.4 526.2 459.8 526.6 466.2 526.9 472.5 527.3 478.8 527.6 484.8 528.0 487.6 528.3 490.3 528.7 492.3 529.0 493.2 529.3 491.3 529.7 489.5 530.0 487.7 530.3 486.4 530.7 485.2 531.0 484.0 531.4 483.0 531.7 482.1 532.0 477.6 532.4 472.7 532.7 467.7 533.0 462.8 533.4 458.5 533.7 454.4 534.1 450.3 534.4 449.2 534.7 448.9 535.1 450.9 535.4 452.8 535.7 457.9 536.1 463.5 536.4 469.1 536.8 474.7 537.1 480.4 537.4 484.9 537.8 487.5 538.1 490.1 538.4 491.9 538.8 492.8 539.1 491.1 539.5 489.4 539.8 487.7 540.1 486.6 540.5 485.4 540.8 484.3 541.2 483.4 541.5 482.5 541.9 479.3 542.2 474.5 542.5 469.7 542.9 464.9 543.2 460.3 543.6 456.2 543.9 452.1 544.2 449.4 544.6 448.6 544.9 449.5 545.0 463.0 547.2 495.3 549.0 490.9 550.5 486.5 552.7 461.6 554.2 466.7 556.6 498.3 558.6 484.3 560.4 476.3 562.6 438.1 564.5 452.0 566.7 497.5 568.5 490.9 570.3 488.7 571.4 457.2 574.0 450.6 575.8 481.4 577.3 508.2 580.2 493.9 581.7 474.1 583.9 451.3 585.7 466.7 587.2 486.5 589.1 484.3 590.5 483.6 593.1 455.0 595.0 463.0 595.2 451.5 595.5 453.4 595.9 456.0 596.2 461.6 596.5 467.3 596.9 472.9 597.2 478.5 597.6 484.2 597.9 488.3 598.2 491.0 598.6 493.6 598.9 495.4 599.3 496.4 599.6 494.6 599.9 492.7 600.3 491.0 600.6 489.8 601.0 488.6 601.3 487.5 601.6 486.5 602.0 484.9 602.3 479.6 602.7 474.2 603.0 468.7 603.4 463.5 603.7 458.9 604.0 454.2 604.4 451.3 604.7 450.4 605.1 451.8 605.4 454.0 605.7 458.5 606.1 465.0 606.4 471.5 606.8 478.1 607.1 484.8 607.5 490.7 607.8 493.9 608.1 497.1 608.5 499.5 608.8 500.8 609.2 498.7 609.5 496.7 609.8 494.8 610.2 493.4 610.5 492.1 610.8 490.8 611.2 489.7 611.5 488.7 611.9 483.8 612.2 478.5 612.5 473.1 612.9 467.8 613.2 463.1 613.5 458.6 613.9 454.2 614.2 453.0 614.6 452.7 614.9 454.8 615.2 456.9 615.6 462.4 615.9 468.5 616.2 474.6 616.6 480.7 616.9 486.8 617.2 491.8 617.6 494.6 617.9 497.4 618.3 499.4 618.6 500.3 618.9 498.1 619.3 495.9 619.6 493.7 620.0 492.2 620.3 490.7 620.7 489.2 621.0 488.1 621.3 486.9 621.7 483.0 622.0 477.2 622.4 471.5 622.7 465.8 623.1 460.5 623.4 455.7 623.7 450.9 624.1 447.7 624.4 446.8 624.8 447.8 625.1 450.0 625.5 453.0 625.8 459.4 626.1 465.9 626.5 472.2 626.8 478.6 627.2 485.0 627.5 489.6 627.9 492.5 628.2 495.4 628.5 497.3 628.9 498.3 629.2 496.2 629.6 494.1 629.9 492.0 630.2 490.6 630.6 489.1 630.9 487.7 631.3 486.6 631.6 485.5 631.9 481.9 632.3 476.6 632.6 471.4 633.0 466.2 633.3 461.3 633.6 457.0 634.0 452.7 634.3 449.8 634.7 449.0 635.0 449.9 635.3 451.8 635.7 454.6 636.0 460.3 636.4 466.0 636.7 471.7 637.0 477.3 637.4 482.9 637.7 487.0 638.1 489.5 638.4 492.0 638.8 493.6 639.1 494.4 639.4 492.8 639.8 491.1 640.1 489.4 640.4 488.4 640.8 487.3 641.1 486.2 641.4 485.3 641.8 484.5 642.1 481.3 642.4 476.5 642.8 471.6 643.1 466.7 643.4 462.1 643.8 457.9 644.1 453.8 644.4 450.9 644.8 450.2 645.1 451.0 645.4 453.0 645.8 455.8 646.1 461.6 646.4 467.5 646.8 473.4 647.1 479.4 647.4 485.4 647.8 489.8 648.1 492.7 648.4 495.6 648.8 497.6 649.1 498.7 649.4 496.7 649.8 494.8 650.1 493.0 650.4 491.7 650.8 490.5 651.1 489.3 651.5 488.3 651.8 486.6 652.1 481.3 652.5 475.9 652.8 470.5 653.1 465.3 653.5 460.7 653.8 456.2 654.1 453.2 654.5 452.4 654.8 453.8 655.1 455.9 655.5 460.2 655.8 466.6 656.2 472.9 656.5 479.2 656.8 485.6 657.2 491.3 657.5 494.3 657.8 497.3 658.2 499.6 658.5 500.7 658.8 498.6 659.2 496.4 659.5 494.4 659.9 493.0 660.2 491.5 660.5 490.1 660.9 489.0 661.2 487.9 661.5 483.2 661.9 478.0 662.2 472.9 662.6 467.9 662.9 463.5 663.2 459.3 663.6 455.1 663.9 454.1 664.3 453.8 664.6 455.7 664.9 457.6 665.3 462.6 665.6 468.0 665.9 473.4 666.3 478.8 666.6 484.1 667.0 488.4 667.3 490.7 667.6 493.0 668.0 494.6 668.3 495.2 668.7 493.4 669.0 491.5 669.3 489.8 669.7 488.6 670.0 487.4 670.4 486.3 670.7 485.3 671.1 482.6 671.4 477.5 671.7 472.5 672.1 467.4 672.4 462.9 672.8 458.6 673.1 454.4 673.5 453.4 673.8 453.6 674.1 455.6 674.5 458.2 674.8 464.1 675.2 469.9 675.5 475.8 675.9 481.7 676.2 487.4 676.6 490.1 676.9 492.9 677.2 495.0 677.6 496.0 677.9 493.9 678.3 491.9 678.6 490.0 678.9 488.6 679.3 487.3 679.6 486.1 679.9 485.0 680.3 483.2 680.6 477.8 680.9 472.3 681.3 466.9 681.6 461.6 681.9 457.0 682.3 452.4 682.6 449.5 682.9 448.6 683.3 450.0 683.6 452.2 683.9 456.4 684.3 462.7 684.6 469.0 684.9 475.3 685.3 481.5 685.6 487.2 685.9 490.1 686.3 493.0 686.6 495.1 686.9 496.1 687.3 494.4 687.6 492.6 688.0 490.8 688.3 489.6 688.7 488.4 689.0 487.3 689.3 486.3 689.7 485.4 690.0 482.1 690.4 477.1 690.7 472.2 691.1 467.2 691.4 462.5 691.7 458.3 692.1 454.1 692.4 451.2 692.8 450.5 693.1 451.3 693.4 453.3 693.8 456.0 694.1 461.9 694.5 467.7 694.8 473.6 695.2 479.5 695.5 485.4 695.8 489.7 696.2 492.5 696.5 495.2 696.9 497.1 697.2 498.2 697.5 496.5 697.9 494.8 698.2 493.1 698.6 492.0 698.9 490.9 699.2 489.8 699.6 488.8 699.9 488.0 700.2 485.9 700.6 481.2 700.9 476.5 701.2 471.7 701.6 467.0 701.9 463.0 702.3 458.9 702.6 454.9 702.9 453.8 703.3 453.1 703.6 455.0 703.9 456.8 704.3 460.7 704.6 466.3 704.9 471.9 705.3 477.5 705.6 483.1 706.0 488.8 706.3 492.5 706.6 495.2 707.0 497.8 707.3 499.6 707.6 500.6 708.0 498.6 708.3 496.6 708.7 494.7 709.0 493.4 709.4 492.1 709.7 490.7 710.0 489.7 710.4 488.7 710.7 485.3 711.1 480.3 711.4 475.3 711.8 470.4 712.1 465.8 712.4 461.6 712.8 457.5 713.1 454.8 713.5 454.0 713.8 454.8 714.1 456.7 714.5 459.3 714.8 464.8 715.2 470.3 715.5 475.8 715.9 481.2 716.2 486.6 716.5 490.5 716.9 493.0 717.2 495.4 717.6 497.0 717.9 497.8 718.3 496.0 718.6 494.3 718.9 492.5 719.3 491.3 719.6 490.1 719.9 489.0 720.3 488.0 720.6 487.1 720.9 485.0 721.3 480.3 721.6 475.6 721.9 470.9 722.3 466.2 722.6 462.2 722.9 458.2 723.3 454.3 723.6 453.2 723.9 452.5 724.3 454.3 724.6 456.2 724.9 459.9 725.3 465.3 725.6 470.7 725.9 476.1 726.3 481.5 726.6 487.0 727.0 490.5 727.3 493.0 727.6 495.5 728.0 497.1 728.3 498.0 728.6 495.9 729.0 493.8 729.3 491.9 729.6 490.5 730.0 489.1 730.3 487.8 730.7 486.7 731.0 484.9 731.3 479.5 731.7 474.1 732.0 468.8 732.3 463.6 732.7 459.2 733.0 454.7 733.4 451.8 733.7 451.0 734.0 452.4 734.4 454.4 734.7 458.5 735.0 464.5 735.4 470.5 735.7 476.5 736.1 482.5 736.4 487.8 736.7 490.5 737.1 493.2 737.4 495.1 737.7 496.0 738.1 494.6 738.4 493.2 738.7 491.8 739.1 490.8 739.4 489.9 739.7 488.9 740.1 488.2 740.4 487.4 740.8 485.7 741.1 481.6 741.4 477.6 741.8 473.5 742.1 469.4 742.4 466.0 742.8 462.5 743.1 459.0 743.4 458.1 743.8 457.5 744.1 459.1 744.4 460.7 744.8 464.1 745.1 468.9 745.4 473.7 745.8 478.6 746.1 483.5 746.4 488.4 746.8 491.7 747.1 494.0 747.4 496.3 747.8 497.8 748.1 498.7 748.5 496.9 748.8 495.0 749.1 493.3 749.5 492.1 749.8 490.8 750.1 489.7 750.5 488.7 750.8 486.1 751.2 481.4 751.5 476.7 751.8 472.0 752.2 467.9 752.5 464.0 752.8 460.1 753.2 459.3 753.5 459.4 753.9 461.2 754.2 463.6 754.5 468.7 754.9 473.9 755.2 479.0 755.6 484.1 755.9 489.1 756.2 491.3 756.6 493.6 756.9 495.3 757.2 496.1 757.6 494.4 757.9 492.6 758.2 491.0 758.6 489.9 758.9 488.7 759.2 487.6 759.6 486.7 759.9 485.3 760.3 480.8 760.6 476.3 760.9 471.8 761.3 467.5 761.6 463.8 761.9 460.1 762.3 457.7 762.6 457.0 762.9 458.1 763.3 459.8 763.6 463.3 763.9 468.3 764.3 473.3 764.6 478.3 764.9 483.3 765.3 487.8 765.6 490.0 765.9 492.3 766.3 494.0 766.6 494.7 766.9 492.7 767.3 490.7 767.6 488.9 768.0 487.6 768.3 486.3 768.7 485.2 769.0 484.1 769.3 479.9 769.7 474.4 770.0 468.9 770.4 463.5 770.7 458.9 771.1 454.3 771.4 451.5 771.7 450.6 772.1 452.5 772.4 454.6 772.8 460.3 773.1 466.6 773.5 473.0 773.8 479.3 774.1 485.7 774.5 489.0 774.8 491.9 775.2 494.3 775.5 495.4 775.9 493.6 776.2 491.8 776.5 490.0 776.9 488.7 777.2 487.5 777.6 486.3 777.9 485.3 778.3 484.4 778.6 483.3 778.9 478.7 779.3 474.1 779.6 469.5 780.0 464.9 780.3 460.7 780.7 456.9 781.0 453.0 781.3 450.3 781.7 449.6 782.0 450.0 782.4 451.8 782.7 453.5 783.0 458.3 783.4 463.5 783.7 468.6 784.1 473.7 784.4 478.9 784.8 484.0 785.1 486.9 785.4 489.2 785.8 491.5 786.1 492.9 786.5 493.7 786.8 492.1 787.1 490.4 787.5 488.8 787.8 487.7 788.2 486.6 788.5 485.6 788.8 484.7 789.2 483.9 789.5 479.5 789.9 474.7 790.2 469.8 790.5 465.0 790.9 460.7 791.2 456.5 791.6 452.4 791.9 451.3 792.2 451.0 792.6 453.0 792.9 455.0 793.3 460.2 793.6 466.1 793.9 472.0 794.3 477.9 794.6 483.8 794.9 488.7 795.3 491.5 795.6 494.4 796.0 496.5 796.3 497.6 796.6 495.8 797.0 494.1 797.3 492.4 797.7 491.3 798.0 490.1 798.3 489.0 798.7 488.1 799.0 487.2 799.3 484.2 799.7 479.7 800.0 475.3 800.4 470.8 800.7 466.7 801.0 462.9 801.4 459.2 801.7 456.7 802.0 456.0 802.4 456.8 802.7 458.5 803.1 460.9 803.4 465.9 803.7 470.9 804.1 475.9 804.4 480.9 804.7 485.9 805.1 489.5 805.4 491.7 805.8 494.0 806.1 495.5 806.4 496.3 806.8 494.1 807.1 491.9 807.4 489.8 807.8 488.3 808.1 486.8 808.5 485.4 808.8 484.3 809.1 482.4 809.5 476.9 809.8 471.4 810.1 466.0 810.5 460.8 810.8 456.3 811.2 451.8 811.5 449.0 811.8 448.2 812.2 449.5 812.5 451.5 812.8 455.6 813.2 461.5 813.5 467.4 813.9 473.2 814.2 479.0 814.5 484.1 814.9 486.6 815.2 489.2 815.5 491.0 815.9 491.8" fill="none" stroke="#6a00dc" stroke-width="1.3" stroke-linejoin="round"/>
<path d="M907.9 433.5 909.5 503.5 913.0 440.0 915.1 488.0 916.0 490.5 917.6 502.2 919.5 442.6 921.5 497.7 923.8 443.2 926.0 513.2 928.3 440.6 929.6 437.4 930.7 413.4 931.6 430.9 932.5 544.3 933.8 499.6 935.5 487.9 937.1 482.8 938.7 439.3 940.2 493.1 942.8 447.1 944.8 496.4 947.1 450.4 949.1 497.0 951.3 436.1 953.2 502.8 955.5 438.0 957.5 500.2 959.8 439.3 961.8 502.8 964.0 438.0 964.2 484.0 964.5 476.3 964.8 468.5 965.2 460.7 965.5 452.9 965.9 445.1 966.2 437.3 966.5 445.1 966.9 452.9 967.2 460.8 967.6 468.6 967.9 476.5 968.2 484.3 968.6 492.2 968.9 500.1 969.3 491.4 969.6 482.7 970.0 474.0 970.3 465.4 970.7 456.8 971.0 448.2 971.4 439.6 971.7 448.2 972.1 456.7 972.4 465.3 972.8 473.8 973.1 482.3 973.5 490.8 973.8 499.3 974.2 491.4 974.5 483.5 974.8 475.4 975.2 467.3 975.5 459.1 975.9 450.8 976.2 442.4 976.6 450.9 976.9 459.4 977.3 468.1 977.6 476.8 978.0 485.6 978.3 494.5 978.6 503.5 979.0 494.7 979.3 486.0 979.7 477.4 980.0 468.8 980.3 460.3 980.7 451.8 981.0 443.4 981.3 443.4 981.7 451.7 982.0 459.9 982.4 468.1 982.7 476.2 983.0 484.3 983.4 492.3 983.7 500.2 984.0 492.3 984.4 484.3 984.7 476.3 985.1 468.3 985.4 460.2 985.7 452.1 986.1 444.0 986.4 444.0 986.7 452.2 987.1 460.4 987.4 468.7 987.8 477.0 988.1 485.3 988.4 493.6 988.8 502.0 989.1 492.2 989.5 482.4 989.8 472.8 990.2 463.3 990.6 453.9 990.9 444.7 991.3 444.6 991.6 453.7 992.0 462.6 992.3 471.4 992.7 480.0 993.1 488.6 993.4 497.0 993.8 489.4 994.1 481.8 994.4 474.1 994.8 466.3 995.1 458.5 995.4 450.5 995.8 442.5 996.1 442.5 996.4 450.7 996.8 458.9 997.1 467.3 997.4 475.6 997.8 484.1 998.1 492.6 998.4 501.3 998.8 491.5 999.2 481.8 999.5 472.0 999.9 462.3 1000.2 452.5 1000.6 442.7 1000.9 442.7 1001.3 452.5 1001.7 462.4 1002.0 472.2 1002.4 482.1 1002.7 492.0 1003.1 501.9 1003.4 493.0 1003.8 484.1 1004.1 475.2 1004.5 466.2 1004.8 457.2 1005.2 448.2 1005.6 439.2 1005.9 448.2 1006.3 457.3 1006.6 466.4 1007.0 475.5 1007.3 484.6 1007.7 493.7 1008.0 502.9 1008.4 494.1 1008.7 485.4 1009.1 476.8 1009.4 468.4 1009.7 460.1 1010.1 451.9 1010.4 443.8 1010.8 443.7 1011.1 451.6 1011.5 459.3 1011.8 466.9 1012.1 474.4 1012.5 481.8 1012.8 489.1 1013.2 496.2 1013.5 488.4 1013.8 480.5 1014.2 472.5 1014.5 464.5 1014.8 456.4 1015.2 448.3 1015.5 440.1 1015.9 448.4 1016.2 456.7 1016.5 465.0 1016.9 473.4 1017.2 481.8 1017.5 490.4 1017.9 498.9 1018.2 491.0 1018.6 483.0 1018.9 475.0 1019.3 467.0 1019.6 459.1 1020.0 451.1 1020.3 443.1 1020.7 443.1 1021.0 451.1 1021.4 459.1 1021.7 467.1 1022.1 475.1 1022.4 483.1 1022.8 491.2 1023.1 499.2 1023.5 490.6 1023.8 482.1 1024.1 473.4 1024.5 464.8 1024.8 456.1 1025.2 447.4 1025.5 438.6 1025.8 447.4 1026.2 456.2 1026.5 465.1 1026.9 474.1 1027.2 483.0 1027.5 492.0 1027.9 501.1 1028.2 492.4 1028.6 483.8 1028.9 475.2 1029.3 466.6 1029.6 458.1 1029.9 449.6 1030.3 441.1 1030.6 441.1 1031.0 449.5 1031.3 457.9 1031.6 466.2 1032.0 474.5 1032.3 482.8 1032.7 491.0 1033.0 499.2 1033.4 490.5 1033.7 481.8 1034.0 473.0 1034.4 464.3 1034.7 455.6 1035.1 446.9 1035.4 438.2 1035.7 446.9 1036.1 455.6 1036.4 464.3 1036.8 473.0 1037.1 481.7 1037.5 490.5 1037.8 499.2 1038.1 491.2 1038.5 483.2 1038.8 475.2 1039.2 467.3 1039.5 459.4 1039.9 451.5 1040.2 443.6 1040.5 435.8 1040.9 443.6 1041.2 451.4 1041.6 459.1 1041.9 466.9 1042.3 474.6 1042.6 482.2 1042.9 489.9 1043.3 497.5 1043.6 490.2 1044.0 482.9 1044.3 475.5 1044.7 468.0 1045.0 460.5 1045.3 452.9 1045.7 445.2 1046.0 437.5 1046.4 445.3 1046.7 453.2 1047.0 461.1 1047.4 469.1 1047.7 477.1 1048.1 485.2 1048.4 493.4 1048.7 501.7 1049.1 493.2 1049.4 484.7 1049.8 476.3 1050.1 467.8 1050.5 459.4 1050.8 450.9 1051.2 442.5 1051.5 442.5 1051.9 450.9 1052.2 459.3 1052.6 467.7 1052.9 476.2 1053.2 484.6 1053.6 492.9 1053.9 501.3 1054.3 492.6 1054.6 483.8 1055.0 474.9 1055.3 466.1 1055.7 457.2 1056.0 448.2 1056.3 439.3 1056.7 448.3 1057.0 457.3 1057.4 466.3 1057.7 475.4 1058.1 484.5 1058.4 493.7 1058.8 502.8 1059.1 494.3 1059.4 485.9 1059.8 477.5 1060.0 495.8 1062.9 447.8 1065.2 501.0 1068.8 438.0 1071.0 499.0 1073.6 420.6 1076.2 494.5 1076.9 494.5 1079.1 449.0 1080.8 496.4 1084.0 431.0 1086.2 501.0 1087.9 451.7 1089.8 498.4 1092.0 435.5 1094.4 499.0 1097.2 434.2 1099.6 510.7 1102.2 421.9 1104.4 530.2 1105.4 515.2 1108.6 445.2 1111.2 501.6 1114.1 439.4 1116.2 501.6 1119.0 489.3 1121.0 440.0 1122.3 436.0 1123.2 412.8 1124.9 547.7 1126.1 508.8 1127.4 495.8 1130.0 482.8 1131.3 469.9 1132.9 468.6 1134.8 434.8 1136.5 490.6 1137.8 485.4 1139.8 481.5 1142.0 478.9 1144.0 418.6 1145.6 499.7 1147.9 441.3 1149.5 510.7 1152.3 445.9 1154.3 506.2 1157.9 443.9 1160.0 497.0 1160.1 452.0 1160.5 459.7 1160.8 467.5 1161.2 475.3 1161.5 483.1 1161.9 490.9 1162.2 498.7 1162.5 491.5 1162.9 484.3 1163.2 477.1 1163.5 469.9 1163.9 462.6 1164.2 455.3 1164.5 448.1 1164.9 448.1 1165.2 455.4 1165.5 462.7 1165.9 470.1 1166.2 477.4 1166.5 484.8 1166.9 492.2 1167.2 499.6 1167.5 492.3 1167.9 484.9 1168.2 477.6 1168.5 470.3 1168.9 462.9 1169.2 455.6 1169.5 448.2 1169.9 440.9 1170.2 448.3 1170.5 455.6 1170.9 463.0 1171.2 470.4 1171.5 477.8 1171.9 485.2 1172.2 492.6 1172.5 500.0 1172.9 490.9 1173.2 481.9 1173.5 472.8 1173.9 463.7 1174.2 454.7 1174.5 445.6 1174.9 436.5 1175.2 445.6 1175.6 454.7 1175.9 463.8 1176.2 472.9 1176.6 482.0 1176.9 491.2 1177.2 500.3 1177.6 491.6 1177.9 483.0 1178.3 474.3 1178.6 465.6 1179.0 457.0 1179.3 448.3 1179.7 439.6 1180.1 439.6 1180.4 448.3 1180.8 457.0 1181.1 465.7 1181.5 474.3 1181.8 483.0 1182.2 491.7 1182.5 500.4 1182.9 492.5 1183.2 484.6 1183.5 476.8 1183.9 468.9 1184.2 461.1 1184.5 453.2 1184.9 445.4 1185.2 445.4 1185.5 453.2 1185.9 461.0 1186.2 468.8 1186.5 476.7 1186.9 484.5 1187.2 492.3 1187.5 500.1 1187.9 492.0 1188.2 483.8 1188.6 475.7 1188.9 467.5 1189.2 459.3 1189.6 451.1 1189.9 442.9 1190.2 442.9 1190.6 451.2 1190.9 459.4 1191.2 467.6 1191.6 475.9 1191.9 484.2 1192.2 492.4 1192.6 500.7 1192.9 494.2 1193.2 487.8 1193.6 481.3 1193.9 474.8 1194.3 468.4 1194.6 461.9 1194.9 455.5 1195.3 449.0 1195.6 449.0 1196.0 455.4 1196.3 461.8 1196.6 468.2 1197.0 474.6 1197.3 481.0 1197.6 487.4 1198.0 493.7 1198.3 500.1 1198.7 492.7 1199.0 485.4 1199.3 478.0 1199.7 470.6 1200.0 463.3 1200.4 455.9 1200.7 448.5 1201.0 441.2 1201.4 448.5 1201.7 455.9 1202.1 463.3 1202.4 470.7 1202.7 478.0 1203.1 485.4 1203.4 492.8 1203.8 500.2 1204.1 492.8 1204.5 485.5 1204.8 478.1 1205.2 470.7 1205.5 463.2 1205.9 455.8 1206.2 448.3 1206.6 440.7 1206.9 448.3 1207.3 455.9 1207.6 463.5 1208.0 471.1 1208.3 478.8 1208.7 486.5 1209.0 494.2 1209.4 502.0 1209.7 493.8 1210.1 485.6 1210.4 477.3 1210.8 469.1 1211.1 460.9 1211.5 452.7 1211.8 444.4 1212.1 444.4 1212.5 452.7 1212.8 460.9 1213.2 469.1 1213.5 477.4 1213.9 485.6 1214.2 493.8 1214.6 502.1 1214.9 494.5 1215.2 486.9 1215.6 479.5 1215.9 472.1 1216.3 464.7 1216.6 457.4 1216.9 450.2 1217.3 443.1 1217.6 450.2 1218.0 457.2 1218.3 464.1 1218.6 471.0 1219.0 477.8 1219.3 484.6 1219.7 491.3 1220.0 497.9 1220.3 491.2 1220.7 484.5 1221.0 477.8 1221.4 471.0 1221.7 464.2 1222.0 457.3 1222.4 450.4 1222.7 443.6 1223.0 450.5 1223.4 457.4 1223.7 464.4 1224.0 471.4 1224.4 478.4 1224.7 485.5 1225.1 492.6 1225.4 499.7 1225.7 493.3 1226.1 486.9 1226.4 480.4 1226.8 473.8 1227.1 467.2 1227.4 460.6 1227.8 453.9 1228.1 447.2 1228.5 447.2 1228.8 454.0 1229.2 460.9 1229.5 467.8 1229.8 474.8 1230.2 481.8 1230.5 488.8 1230.9 495.9 1231.2 503.1 1231.5 495.4 1231.9 487.7 1232.2 480.1 1232.6 472.4 1232.9 464.8 1233.2 457.2 1233.6 449.6 1233.9 442.0 1234.2 449.6 1234.6 457.1 1234.9 464.7 1235.3 472.2 1235.6 479.7 1235.9 487.2 1236.3 494.6 1236.6 502.1 1237.0 494.3 1237.3 486.5 1237.7 478.8 1238.0 471.1 1238.4 463.5 1238.7 455.8 1239.0 448.2 1239.4 440.7 1239.7 448.2 1240.0 443.9 1241.9 497.7 1245.4 439.3 1247.5 496.4 1249.1 493.1 1251.4 446.5 1253.3 497.0 1256.6 447.8 1259.0 500.2 1262.0 449.1 1264.0 500.9 1265.3 412.8 1268.2 412.8 1269.2 503.5 1270.5 484.0 1273.4 427.7 1275.2 524.9 1278.9 448.4 1281.2 511.9 1285.0 445.2 1287.3 504.1 1290.3 457.5 1292.5 500.9 1295.7 440.0 1297.7 512.6 1300.0 495.7 1300.0 492.9 1300.4 501.7 1300.7 494.5 1301.1 487.2 1301.4 479.9 1301.8 472.6 1302.1 465.2 1302.4 457.7 1302.8 450.2 1303.1 442.6 1303.5 450.2 1303.8 457.9 1304.2 465.7 1304.5 473.5 1304.9 481.3 1305.2 489.3 1305.6 497.2 1305.9 505.3 1306.2 496.9 1306.6 488.5 1306.9 480.1 1307.3 471.7 1307.6 463.2 1308.0 454.7 1308.3 446.3 1308.7 446.3 1309.0 454.8 1309.4 463.3 1309.7 471.8 1310.1 480.4 1310.4 488.9 1310.8 497.5 1311.1 506.1 1311.4 497.0 1311.8 488.0 1312.1 479.1 1312.5 470.2 1312.8 461.4 1313.2 452.7 1313.5 444.0 1313.8 444.0 1314.2 452.5 1314.5 461.0 1314.9 469.4 1315.2 477.7 1315.6 485.9 1315.9 494.1 1316.2 502.2 1316.6 494.8 1316.9 487.2 1317.3 479.7 1317.6 472.0 1317.9 464.3 1318.3 456.6 1318.6 448.8 1318.9 441.0 1319.3 448.9 1319.6 456.8 1320.0 464.8 1320.3 472.9 1320.6 481.0 1321.0 489.1 1321.3 497.3 1321.7 505.6 1322.0 497.6 1322.3 489.5 1322.7 481.4 1323.0 473.3 1323.4 465.2 1323.7 457.1 1324.1 448.9 1324.4 448.9 1324.8 457.1 1325.1 465.4 1325.5 473.6 1325.8 481.9 1326.2 490.2 1326.5 498.5 1326.8 506.9 1327.2 497.8 1327.5 488.6 1327.9 479.5 1328.2 470.5 1328.6 461.5 1328.9 452.5 1329.3 443.5 1329.7 443.5 1330.0 494.4 1332.6 438.7 1334.5 504.8 1335.4 495.7 1338.2 443.2 1340.1 509.3 1341.4 497.7 1344.3 433.5 1346.2 495.7 1349.2 431.6 1351.4 497.7 1354.0 442.6 1355.3 440.0 1356.2 412.8 1357.9 539.8 1358.5 507.4 1361.1 504.8 1362.4 493.1 1364.3 478.9 1366.0 428.3 1367.8 497.7 1370.8 432.2 1373.2 493.1 1376.0 436.1 1378.0 510.6 1380.5 436.7 1382.5 503.5 1385.1 418.0 1387.0 504.1 1389.3 426.4 1389.3 473.0 1389.7 483.8 1390.0 494.7 1390.4 505.5 1390.7 496.2 1391.1 486.9 1391.4 477.4 1391.8 468.0 1392.1 458.4 1392.5 448.8 1392.8 439.1 1393.2 439.2 1393.5 448.9 1393.9 458.8 1394.2 468.7 1394.6 478.6 1394.9 488.6 1395.3 498.7 1395.6 508.8 1396.0 498.7 1396.3 488.7 1396.6 478.6 1397.0 468.7 1397.3 458.7 1397.7 448.9 1398.0 439.0 1398.3 429.2 1398.7 439.0 1399.0 448.7 1399.4 458.3 1399.7 467.9 1400.1 477.5 1400.4 487.0 1400.7 496.4 1401.1 505.8 1401.4 496.6 1401.8 487.4 1402.1 478.3 1402.5 469.2 1402.8 460.1 1403.1 451.1 1403.5 442.1 1403.8 433.2 1404.2 442.1 1404.5 450.9 1404.8 459.7 1405.2 468.5 1405.5 477.2 1405.9 485.8 1406.2 494.4 1406.5 503.0 1406.9 492.6 1407.2 482.1 1407.6 471.5 1407.9 460.9 1408.2 450.2 1408.6 439.4 1408.9 428.6 1409.2 439.5 1409.6 450.5 1409.9 461.5 1410.2 472.6 1410.6 483.8 1410.9 495.1 1411.3 506.4 1411.6 497.0 1411.9 487.6 1412.3 478.2 1412.6 468.8 1413.0 459.3 1413.3 449.9 1413.7 440.4 1414.0 430.9 1414.4 440.4 1414.7 449.9 1415.1 459.5 1415.4 469.0 1415.8 478.5 1416.1 488.1 1416.5 497.7 1416.8 507.3 1417.1 497.8 1417.5 488.3 1417.8 478.9 1418.2 469.5 1418.5 460.2 1418.9 451.0 1419.2 441.8 1419.6 432.6 1419.9 441.7 1420.2 450.8 1420.6 459.8 1420.9 468.7 1421.3 477.6 1421.6 486.5 1422.0 495.3 1422.3 504.0 1422.6 494.8 1423.0 485.6 1423.3 476.3 1423.7 467.0 1424.0 457.6 1424.3 448.1 1424.7 438.6 1425.0 429.0 1425.4 438.7 1425.7 448.4 1426.1 458.2 1426.4 468.0 1426.7 477.9 1427.1 487.9 1427.4 497.9 1427.8 508.0 1428.1 498.7 1428.5 489.5 1428.8 480.3 1429.2 471.2 1429.5 462.0 1429.9 452.9 1430.2 443.9 1430.6 434.8 1430.9 434.8 1431.2 443.8 1431.6 452.7 1431.9 461.7 1432.3 470.6 1432.6 479.4 1433.0 488.3 1433.3 497.1 1433.7 505.9 1434.0 497.0 1434.4 488.2 1434.7 479.3 1435.1 470.6 1435.4 461.8 1435.8 453.1 1436.1 444.4 1436.5 435.8 1436.8 435.7 1437.2 444.3 1437.5 452.9 1437.9 461.4 1438.2 469.9 1438.6 478.4 1438.9 486.8 1439.3 495.2 1439.6 503.5 1440.0 493.7 1440.3 483.8 1440.7 474.0 1441.0 464.1 1441.4 454.2 1441.7 444.3 1442.1 434.4 1442.5 444.3 1442.8 454.2 1443.2 464.2 1443.5 474.1 1443.9 484.1 1444.2 494.1 1444.6 504.1 1444.9 493.9 1445.3 483.6 1445.6 473.3 1446.0 463.1" fill="none" stroke="#6a00dc" stroke-width="1.3" stroke-linejoin="round"/>
<path d="M276.6 647.0 277.0 649.2 277.3 656.2 277.6 665.3 278.0 674.6 278.3 683.8 278.6 693.2 279.0 684.9 279.3 676.6 279.7 674.3 280.0 672.2 280.3 668.5 280.7 659.6 281.0 650.7 281.4 641.9 281.7 639.1 282.0 642.2 282.4 644.6 282.7 647.0 283.1 652.5 283.4 662.3 283.7 672.1 284.1 681.8 284.4 691.4 284.8 684.6 285.1 677.7 285.4 674.6 285.8 672.9 286.1 671.2 286.5 665.5 286.8 657.9 287.1 650.3 287.5 642.6 287.8 640.2 288.1 643.0 288.5 645.2 288.8 647.3 289.2 649.4 289.5 657.8 289.8 666.6 290.2 675.5 290.5 684.4 290.9 693.3 291.2 686.1 291.5 678.8 291.9 676.2 292.2 674.4 292.6 672.6 292.9 664.9 293.2 656.9 293.6 648.9 293.9 640.9 294.3 643.8 294.6 646.4 294.9 648.6 295.3 650.9 295.6 657.8 296.0 667.0 296.3 676.2 296.6 685.5 297.0 694.7 297.3 685.8 297.7 677.6 298.0 675.2 298.4 672.8 298.7 666.9 299.1 657.8 299.4 648.8 299.8 639.9 300.1 643.1 300.5 645.7 300.8 648.0 301.2 651.5 301.5 660.9 301.9 670.2 302.2 679.3 302.6 688.2 302.9 680.7 303.3 673.6 303.6 671.9 304.0 670.1 304.3 664.8 304.6 656.2 305.0 647.6 305.3 638.9 305.7 642.1 306.0 644.8 306.4 647.2 306.7 651.0 307.0 661.2 307.4 671.5 307.7 681.9 308.1 692.4 308.4 683.6 308.8 675.2 309.1 673.0 309.4 670.8 309.8 664.7 310.1 655.0 310.5 645.2 310.8 635.4 311.2 639.0 311.5 642.0 311.8 644.7 312.2 648.7 312.5 659.9 312.9 671.0 313.2 682.2 313.6 693.4 313.9 685.1 314.2 677.3 314.6 675.1 314.9 673.0 315.3 667.4 315.6 658.4 316.0 649.5 316.3 640.7 316.6 643.9 317.0 646.6 317.3 649.0 317.7 652.5 318.0 662.4 318.4 672.2 318.7 681.9 319.1 691.7 319.4 683.0 319.7 674.4 320.1 671.9 320.4 669.7 320.8 665.8 321.1 656.6 321.5 647.4 321.8 638.3 322.2 635.4 322.5 638.6 322.9 641.0 323.2 643.5 323.6 649.2 323.9 659.3 324.2 669.3 324.6 679.3 324.9 689.2 325.3 682.1 325.6 674.9 326.0 673.0 326.3 671.3 326.7 668.0 327.0 660.1 327.4 652.2 327.7 644.3 328.1 641.7 328.4 644.6 328.8 646.8 329.1 649.0 329.5 654.2 329.8 663.3 330.2 672.5 330.5 681.7 330.9 691.0 331.2 683.2 331.5 675.4 331.9 673.3 332.2 671.4 332.6 667.9 332.9 659.3 333.2 650.6 333.6 641.9 333.9 639.2 334.3 642.3 334.6 644.7 334.9 647.1 335.3 652.7 335.6 662.7 336.0 672.7 336.3 682.8 336.6 692.9 337.0 681.2 337.3 675.6 337.7 672.9 338.0 659.8 338.4 645.4 338.7 640.7 339.1 645.5 339.4 649.9 339.8 666.0 340.1 684.4 340.5 703.4 340.8 696.7 341.2 690.1 341.5 683.6 341.8 681.2 342.2 679.3 342.5 677.5 342.9 675.7 343.2 670.4 343.5 663.8 343.9 657.3 344.2 651.0 344.5 644.7 344.9 638.5 345.2 640.8 345.5 642.9 345.9 644.6 346.2 646.1 346.6 647.7 346.9 649.2 347.2 654.3 347.6 660.6 347.9 666.7 348.2 672.7 348.6 678.6 348.9 684.3 349.2 689.9 349.6 682.6 349.9 675.2 350.3 673.2 350.7 671.3 351.0 668.0 351.4 660.0 351.7 652.1 352.1 644.1 352.4 641.6 352.8 644.4 353.1 646.6 353.5 648.7 353.8 653.7 354.2 662.6 354.5 671.5 354.9 680.3 355.2 689.1 355.6 682.5 355.9 675.9 356.3 674.1 356.6 672.5 357.0 669.5 357.3 662.1 357.7 654.6 358.0 647.2 358.4 644.8 358.7 647.5 359.1 649.5 359.5 651.7 359.8 656.5 360.2 665.2 360.5 673.9 360.9 682.6 361.2 691.4 361.6 684.2 361.9 677.1 362.3 674.4 362.6 672.6 362.9 670.8 363.3 663.3 363.6 655.6 364.0 647.9 364.3 640.3 364.7 643.1 365.0 645.5 365.4 647.6 365.7 649.6 366.1 656.1 366.4 664.6 366.8 673.1 367.1 681.6 367.5 690.0 367.8 683.8 368.2 677.5 368.5 674.7 368.9 673.2 369.2 671.7 369.6 666.5 369.9 659.5 370.3 652.5 370.6 645.4 371.0 643.2 371.3 645.8 371.7 647.8 372.0 649.8 372.4 651.8 372.7 659.5 373.1 667.7 373.4 676.0 373.8 684.2 374.1 692.5 374.5 685.1 374.8 677.7 375.2 675.7 375.5 673.8 375.9 670.5 376.2 662.2 376.6 653.9 376.9 645.6 377.3 643.0 377.6 646.0 378.0 648.3 378.3 650.6 378.7 656.0 379.1 665.6 379.4 675.2 379.8 684.9 380.1 694.7 380.5 687.0 380.8 679.3 381.1 676.5 381.5 674.6 381.8 672.6 382.2 664.6 382.5 656.3 382.9 648.1 383.2 639.8 383.5 642.8 383.9 645.4 384.2 647.7 384.6 649.9 384.9 656.9 385.3 666.1 385.6 675.2 386.0 684.4 386.3 693.5 386.6 686.1 387.0 678.7 387.3 675.3 387.7 673.4 388.0 671.5 388.3 665.5 388.7 657.7 389.0 649.9 389.4 642.2 389.7 639.7 390.0 642.5 390.4 644.6 390.7 646.7 391.1 648.7 391.4 656.8 391.7 665.2 392.1 673.5 392.4 681.8 392.8 690.0 393.1 683.0 393.4 675.8 393.8 674.0 394.1 672.3 394.5 669.1 394.8 661.0 395.1 652.8 395.5 644.5 395.8 641.9 396.2 644.9 396.5 647.2 396.8 649.6 397.2 655.1 397.5 665.0 397.9 675.0 398.2 685.1 398.5 695.2 398.9 686.8 399.2 678.5 399.6 676.1 399.9 673.9 400.2 670.1 400.6 661.3 400.9 652.5 401.3 643.8 401.6 641.1 401.9 644.1 402.3 646.4 402.6 648.7 402.9 654.0 403.3 663.4 403.6 672.7 404.0 681.9 404.3 691.0 404.6 683.9 405.0 676.8 405.3 673.5 405.6 671.8 406.0 670.0 406.3 664.1 406.6 656.3 407.0 648.5 407.3 640.6 407.6 638.1 408.0 641.0 408.3 643.2 408.6 645.4 409.0 647.5 409.3 656.1 409.6 665.0 410.0 673.9 410.3 682.9 410.7 691.8 411.0 684.1 411.3 676.3 411.7 673.5 412.0 671.6 412.4 669.7 412.7 661.3 413.1 652.6 413.4 643.8 413.7 635.0 414.1 638.3 414.4 641.1 414.8 643.5 415.1 646.0 415.5 653.7 415.8 663.9 416.1 674.1 416.5 684.4 416.8 694.7 417.2 687.0 417.5 679.4 417.9 677.2 418.2 675.2 418.6 671.7 418.9 663.5 419.3 655.3 419.6 647.2 420.0 644.6 420.3 647.5 420.7 649.7 421.0 651.8 421.4 656.9 421.7 665.8 422.1 674.7 422.4 683.6 422.7 692.4 423.1 684.5 423.4 676.7 423.8 674.5 424.1 672.5 424.5 669.0 424.8 660.4 425.1 651.9 425.5 643.3 425.8 640.6 426.2 643.7 426.5 646.0 426.9 648.4 427.2 653.8 427.6 663.4 427.9 673.0 428.2 682.6 428.6 692.2 428.9 684.8 429.3 677.5 429.6 674.7 430.0 672.9 430.3 671.0 430.6 663.2 431.0 655.1 431.3 647.0 431.7 638.9 432.0 641.9 432.4 644.5 432.7 646.7 433.0 648.9 433.4 655.9 433.7 665.0 434.1 674.2 434.4 683.3 434.8 692.5 435.1 684.2 435.4 675.9 435.8 672.0 436.1 670.0 436.4 667.9 436.8 661.1 437.1 652.0 437.5 643.0 437.8 634.0 438.1 631.1 438.5 634.4 438.8 636.9 439.1 639.4 439.5 641.9 439.8 651.5 440.1 661.6 440.5 671.7 440.8 681.8 441.2 691.9 441.5 683.8 441.8 676.2 442.2 674.3 442.5 672.3 442.9 666.7 443.2 657.8 443.6 648.9 443.9 640.0 444.3 643.3 444.6 646.0 445.0 648.4 445.3 652.1 445.7 662.3 446.0 672.5 446.4 682.7 446.7 692.9 447.0 686.3 447.4 679.6 447.7 676.6 448.0 675.0 448.4 673.4 448.7 667.8 449.0 660.4 449.4 652.9 449.7 645.4 450.1 643.0 450.4 645.8 450.7 647.9 451.1 650.0 451.4 652.2 451.7 660.5 452.1 669.2 452.4 677.9 452.7 686.8 453.1 695.6 453.4 687.5 453.8 679.5 454.1 676.4 454.4 674.2 454.8 672.1 455.1 663.9 455.5 655.6 455.8 647.3 456.2 639.2 456.5 642.1 456.9 644.6 457.2 646.8 457.5 648.9 457.9 655.6 458.2 664.3 458.6 672.9 458.9 681.4 459.3 689.8 459.6 682.6 460.0 675.4 460.3 673.4 460.7 671.5 461.0 668.3 461.4 660.6 461.7 652.9 462.1 645.3 462.4 642.9 462.8 645.5 463.1 647.6 463.5 649.7 463.8 654.4 464.2 662.8 464.5 671.2 464.9 679.6 465.2 687.9 465.5 680.9 465.9 673.9 466.2 671.4 466.6 669.7 466.9 668.0 467.2 660.3 467.6 652.2 467.9 644.0 468.2 635.8 468.6 638.8 468.9 641.5 469.3 643.9 469.6 646.3 469.9 653.6 470.3 663.4 470.6 673.3 470.9 683.3 471.3 693.4 471.6 685.1 472.0 676.9 472.3 674.5 472.7 672.4 473.0 668.7 473.3 659.8 473.7 650.9 474.0 642.1 474.4 639.4 474.7 642.4 475.1 644.8 475.4 647.2 475.7 652.7 476.1 662.4 476.4 672.2 476.8 681.8 477.1 691.4 477.5 684.8 477.8 678.1 478.1 674.5 478.5 672.9 478.8 671.2 479.1 667.3 479.5 660.0 479.8 652.6 480.2 645.3 480.5 637.9 480.8 640.6 481.2 643.1 481.5 645.1 481.8 647.2 482.2 650.5 482.5 658.8 482.9 667.3 483.2 675.7 483.5 684.1 483.9 692.6 484.2 685.5 484.5 678.4 484.9 675.9 485.2 674.1 485.5 672.4 485.9 664.8 486.2 657.0 486.5 649.1 486.9 641.2 487.2 644.1 487.6 646.6 487.9 648.8 488.2 651.0 488.6 657.9 488.9 666.9 489.2 676.0 489.6 685.1 489.9 694.3 490.2 686.5 490.6 678.7 490.9 676.5 491.3 674.6 491.6 671.1 492.0 662.7 492.3 654.3 492.7 645.9 493.0 643.3 493.4 646.2 493.7 648.5 494.0 650.8 494.4 656.0 494.7 665.3 495.1 674.6 495.4 683.9 495.8 693.1 496.1 684.6 496.5 676.7 496.8 674.6 497.2 672.4 497.5 666.7 497.9 657.7 498.2 648.7 498.6 639.8 498.9 643.1 499.3 645.7 499.6 648.1 500.0 651.7 500.3 661.6 500.7 671.4 501.0 681.1 501.4 690.9 501.7 683.1 502.0 675.8 502.4 674.0 502.7 672.1 503.1 666.7 503.4 658.1 503.8 649.4 504.1 640.6 504.5 643.9 504.8 646.5 505.2 649.0 505.5 652.6 505.9 662.7 506.2 672.8 506.6 683.0 506.9 693.2 507.3 685.6 507.6 678.2 508.0 675.3 508.3 673.3 508.7 671.3 509.0 663.7 509.4 655.8 509.7 648.1 510.1 640.5 510.4 643.3 510.8 645.6 511.1 647.6 511.5 649.6 511.8 655.9 512.2 664.1 512.5 672.1 512.9 680.1 513.2 688.0 513.6 680.9 513.9 673.8 514.2 671.8 514.6 670.0 514.9 666.8 515.2 659.0 515.6 651.3 515.9 643.6 516.3 641.1 516.6 643.8 516.9 646.0 517.3 648.1 517.6 653.0 517.9 661.7 518.3 670.3 518.6 679.0 519.0 687.7 519.3 680.8 519.7 674.1 520.0 672.6 520.3 671.0 520.7 666.0 521.0 657.8 521.4 649.4 521.7 640.9 522.1 644.1 522.4 646.7 522.8 649.2 523.1 652.9 523.5 663.2 523.8 673.6 524.2 684.1 524.5 694.9 524.9 686.6 525.2 678.3 525.6 675.2 525.9 673.1 526.2 671.0 526.6 662.3 526.9 653.4 527.3 644.5 527.6 635.6 528.0 638.9 528.3 641.7 528.7 644.1 529.0 646.5 529.4 654.0 529.7 663.9 530.1 673.7 530.4 683.5 530.8 693.3 531.1 685.5 531.5 678.0 531.8 676.1 532.2 674.2 532.5 668.7 532.9 659.9 533.2 650.9 533.6 641.9 533.9 645.3 534.3 648.0 534.6 650.6 535.0 654.4 535.4 664.8 535.7 675.3 536.1 685.9 536.4 696.6 536.7 688.0 537.1 680.0 537.4 677.8 537.8 675.6 538.1 669.8 538.4 660.8 538.8 651.9 539.1 643.1 539.4 646.3 539.8 648.9 540.1 651.3 540.5 654.8 540.8 664.4 541.1 673.9 541.5 683.3 541.8 692.6 542.2 684.7 542.5 676.8 542.9 674.6 543.2 672.6 543.6 669.1 543.9 660.6 544.3 652.0 544.6 643.6 544.9 640.9 545.3 643.9 545.6 646.2 546.0 648.5 546.3 653.8 546.7 663.3 547.0 672.8 547.4 682.2 547.7 691.6 548.1 684.0 548.4 676.8 548.8 674.9 549.1 673.0 549.5 667.7 549.8 659.4 550.2 651.1 550.5 642.7 550.9 645.8 551.2 648.3 551.6 650.6 551.9 654.0 552.3 663.4 552.6 672.7 553.0 682.1 553.3 691.4 553.7 683.6 554.0 675.8 554.4 673.7 554.7 671.7 555.1 668.2 555.4 659.6 555.8 651.0 556.1 642.3 556.5 639.6 556.8 642.7 557.2 645.1 557.5 647.5 557.9 653.0 558.2 662.9 558.6 672.8 558.9 682.7 559.3 692.6 559.6 684.8 560.0 677.5 560.3 675.5 560.6 673.5 561.0 668.2 561.3 659.8 561.7 651.5 562.0 643.1 562.4 646.2 562.7 648.7 563.0 650.9 563.4 654.3 563.7 663.6 564.1 672.9 564.4 682.1 564.8 691.3 565.1 684.2 565.5 677.2 565.8 674.6 566.2 672.9 566.5 671.1 566.9 663.6 567.2 655.8 567.6 647.9 567.9 640.0 568.3 642.9 568.6 645.4 569.0 647.6 569.3 649.8 569.7 656.7 570.0 665.7 570.4 674.8 570.7 683.9 571.1 693.0 571.4 684.8 571.7 676.7 572.1 674.4 572.4 672.3 572.8 668.6 573.1 659.9 573.5 651.4 573.8 642.8 574.1 640.1 574.5 643.1 574.8 645.4 575.2 647.7 575.5 652.9 575.9 662.2 576.2 671.4 576.5 680.5 576.9 689.6 577.2 682.2 577.6 674.9 577.9 672.9 578.3 671.1 578.6 667.8 578.9 659.7 579.3 651.5 579.6 643.4 580.0 640.8 580.3 643.7 580.7 646.0 581.0 648.2 581.3 653.5 581.7 662.9 582.0 672.3 582.4 681.8 582.7 691.3 583.1 684.2 583.4 677.5 583.8 675.8 584.1 674.1 584.5 669.1 584.8 660.9 585.2 652.6 585.5 644.1 585.9 647.3 586.2 649.9 586.6 652.3 587.0 655.9 587.3 665.9 587.7 676.0 588.0 686.2 588.4 696.5 588.7 687.6 589.1 679.2 589.4 676.8 589.8 674.5 590.1 668.5 590.5 659.2 590.8 650.0 591.2 640.8 591.5 644.1 591.9 646.8 592.2 649.2 592.6 652.8 592.9 662.6 593.2 672.4 593.6 682.0 593.9 691.4 594.3 683.4 594.6 675.8 595.0 673.8 595.3 671.9 595.6 666.3 596.0 657.4 596.3 648.4 596.7 639.5 597.0 642.8 597.3 645.5 597.7 648.0 598.0 651.7 598.4 662.0 598.7 672.3 599.0 682.6 599.4 692.9 599.7 684.5 600.1 677.3 600.4 675.2 600.8 673.1 601.1 665.2 601.5 655.9 601.9 646.5 602.2 643.6 602.6 646.8 602.9 649.4 603.3 652.0 603.6 661.9 604.0 672.6 604.3 683.3 604.7 694.1 605.0 685.7 605.4 677.3 605.8 674.9 606.1 672.7 606.5 668.9 606.8 660.0 607.2 651.2 607.5 642.5 607.9 639.7 608.2 642.7 608.6 645.1 608.9 647.4 609.3 652.8 609.6 662.2 610.0 671.7 610.3 681.0 610.7 690.2 611.0 682.9 611.3 675.5 611.7 673.4 612.0 671.6 612.4 668.3 612.7 660.1 613.0 652.0 613.4 643.8 613.7 641.2 614.1 644.1 614.4 646.4 614.7 648.7 615.1 653.9 615.4 663.3 615.8 672.8 616.1 682.2 616.4 691.7 616.8 684.2 617.1 677.1 617.5 675.2 617.8 673.3 618.2 668.1 618.5 659.9 618.8 651.6 619.2 643.3 619.5 646.4 619.9 648.9 620.2 651.1 620.6 654.5 620.9 663.9 621.3 673.2 621.6 682.6 621.9 691.9 622.3 684.7 622.6 677.5 623.0 674.8 623.3 673.0 623.6 671.2 624.0 663.6 624.3 655.7 624.6 647.8 625.0 639.9 625.3 642.8 625.6 645.3 626.0 647.5 626.3 649.7 626.7 656.4 627.0 665.4 627.3 674.3 627.7 683.3 628.0 692.2 628.3 685.0 628.7 677.6 629.0 675.7 629.4 673.9 629.7 670.6 630.0 662.4 630.4 654.1 630.7 645.8 631.1 643.1 631.4 646.1 631.7 648.5 632.1 650.9 632.4 656.3 632.8 666.1 633.1 676.0 633.4 685.9 633.8 695.9 634.1 687.5 634.5 679.1 634.8 676.7 635.2 674.5 635.5 670.7 635.8 661.9 636.2 653.1 636.5 644.4 636.9 641.6 637.2 644.7 637.6 647.0 637.9 649.3 638.3 654.6 638.6 664.0 639.0 673.3 639.3 682.5 639.7 691.6 640.0 684.7 640.4 677.8 640.7 675.4 641.0 673.7 641.4 672.0 641.7 664.6 642.1 656.8 642.4 648.9 642.8 641.0 643.1 643.9 643.4 646.4 643.8 648.7 644.1 650.9 644.5 657.9 644.8 667.2 645.2 676.5 645.5 685.9 645.9 695.4 646.2 687.1 646.5 679.3 646.9 677.2 647.2 675.1 647.6 669.4 647.9 660.4 648.2 651.4 648.6 642.4 648.9 645.7 649.3 648.4 649.6 650.8 649.9 654.5 650.3 664.7 650.6 674.8 651.0 684.9 651.3 695.0 651.7 686.9 652.0 678.9 652.4 676.6 652.7 674.6 653.0 670.9 653.4 662.4 653.7 653.9 654.1 645.5 654.4 642.9 654.8 645.8 655.1 648.1 655.5 650.3 655.8 655.5 656.2 664.7 656.5 673.8 656.9 682.9 657.2 691.9 657.6 685.1 657.9 678.4 658.3 675.9 658.6 674.3 658.9 672.7 659.3 665.3 659.6 657.7 660.0 650.0 660.3 642.3 660.7 645.2 661.0 647.6 661.4 649.8 661.7 652.0 662.1 658.8 662.4 667.8 662.8 676.8 663.1 686.0 663.5 695.2 663.8 687.6 664.1 680.0 664.5 676.6 664.8 674.7 665.2 672.9 665.5 666.6 665.9 658.1 666.2 649.7 666.5 641.2 666.9 638.5 667.2 641.6 667.6 644.0 667.9 646.4 668.2 648.8 668.6 658.1 668.9 667.9 669.3 677.8 669.6 687.7 670.0 697.7 670.3 689.6 670.6 681.6 671.0 678.4 671.3 676.2 671.7 674.1 672.0 666.1 672.3 658.0 672.7 650.0 673.0 642.2 673.4 645.0 673.7 647.4 674.0 649.4 674.4 651.3 674.7 657.5 675.1 665.6 675.4 673.5 675.7 681.2 676.1 688.8 676.4 682.2 676.8 675.5 677.1 672.5 677.4 670.9 677.8 669.3 678.1 663.7 678.5 656.2 678.8 648.6 679.1 641.0 679.5 638.6 679.8 641.4 680.2 643.6 680.5 645.8 680.9 648.0 681.2 656.5 681.5 665.5 681.9 674.6 682.2 683.7 682.6 693.0 682.9 685.0 683.3 677.1 683.6 674.1 683.9 672.0 684.3 670.0 684.6 661.9 685.0 653.7 685.3 645.5 685.7 637.5 686.0 640.4 686.4 642.9 686.7 645.0 687.1 647.1 687.4 653.7 687.8 662.4 688.1 670.9 688.5 679.4 688.8 687.7 689.1 680.7 689.5 673.7 689.8 671.2 690.2 669.5 690.5 667.8 690.9 660.2 691.2 652.1 691.6 644.1 691.9 635.9 692.3 638.9 692.6 641.5 693.0 643.9 693.3 646.2 693.7 653.4 694.0 663.0 694.4 672.7 694.7 682.5 695.0 692.4 695.4 685.0 695.7 677.6 696.1 674.8 696.4 672.9 696.7 671.0 697.1 663.4 697.4 655.6 697.7 647.8 698.1 640.1 698.4 642.9 698.7 645.3 699.1 647.4 699.4 649.4 699.7 655.9 700.1 664.3 700.4 672.7 700.8 681.0 701.1 689.2 701.4 681.6 701.8 674.1 702.1 672.0 702.5 670.1 702.8 666.6 703.2 658.4 703.5 650.2 703.9 642.0 704.2 639.4 704.6 642.3 705.0 644.5 705.3 646.8 705.7 652.0 706.0 661.2 706.4 670.4 706.7 679.7 707.1 688.9 707.4 681.6 707.7 674.2 708.1 672.3 708.4 670.6 708.8 667.2 709.1 658.9 709.5 650.4 709.8 641.9 710.2 639.2 710.5 642.3 710.9 644.7 711.2 647.2 711.6 652.8 711.9 663.0 712.3 673.2 712.6 683.6 712.9 694.0 713.3 686.3 713.6 678.7 714.0 675.8 714.3 673.8 714.6 671.8 715.0 663.9 715.3 655.8 715.7 647.8 716.0 639.8 716.4 642.7 716.7 645.2 717.0 647.4 717.4 649.5 717.7 656.1 718.1 664.8 718.4 673.4 718.7 682.0 719.1 690.5 719.4 682.4 719.8 674.7 720.1 672.7 720.5 670.7 720.8 665.1 721.2 656.2 721.5 647.3 721.9 638.4 722.2 641.6 722.6 644.3 722.9 646.8 723.3 650.5 723.6 660.6 724.0 670.7 724.3 680.9 724.7 691.0 725.0 683.5 725.4 676.3 725.7 674.6 726.1 672.9 726.4 667.5 726.8 658.6 727.1 649.6 727.5 640.5 727.8 643.9 728.2 646.7 728.5 649.4 728.9 653.4 729.3 664.3 729.6 675.4 730.0 686.6 730.3 698.1 730.6 689.9 731.0 681.7 731.3 678.6 731.7 676.5 732.0 674.4 732.3 666.1 732.7 657.6 733.0 649.2 733.3 640.8 733.7 643.9 734.0 646.4 734.4 648.6 734.7 650.8 735.0 657.6 735.4 666.6 735.7 675.4 736.0 684.1 736.4 692.8 736.7 684.8 737.1 677.4 737.4 675.4 737.7 673.4 738.1 667.9 738.4 659.3 738.8 650.8 739.1 642.2 739.5 645.3 739.8 647.9 740.1 650.2 740.5 653.7 740.8 663.3 741.2 672.8 741.5 682.4 741.8 691.8 742.2 683.8 742.5 675.6 742.9 673.4 743.2 671.4 743.6 667.7 743.9 658.8 744.3 649.9 744.6 640.9 745.0 638.0 745.3 641.2 745.7 643.7 746.0 646.2 746.4 652.0 746.7 662.2 747.1 672.5 747.4 682.9 747.8 693.2 748.1 685.8 748.5 678.3 748.8 675.6 749.2 673.7 749.5 671.9 749.9 664.0 750.2 655.9 750.5 647.9 750.9 639.8 751.2 642.8 751.6 645.3 751.9 647.5 752.3 649.7 752.6 656.6 753.0 665.7 753.3 674.8 753.7 683.9 754.0 692.9 754.3 685.3 754.7 677.8 755.0 675.6 755.4 673.6 755.7 670.2 756.1 662.3 756.4 654.5 756.7 646.7 757.1 644.3 757.4 647.0 757.8 649.0 758.1 651.0 758.5 655.7 758.8 663.9 759.2 672.1 759.5 680.1 759.8 688.1 760.2 680.2 760.5 673.5 760.9 671.7 761.2 669.9 761.6 662.2 761.9 652.8 762.3 643.1 762.6 640.1 762.9 643.5 763.3 646.3 763.6 649.2 764.0 660.0 764.3 671.9 764.7 684.0 765.0 696.3 765.3 685.7 765.7 677.7 766.0 674.9 766.4 671.4 766.7 660.3 767.1 649.4 767.4 638.7 767.7 642.6 768.1 645.5 768.4 648.4 768.8 656.8 769.1 668.3 769.5 679.5 769.8 690.6 770.1 682.9 770.5 675.1 770.8 673.0 771.2 671.1 771.6 667.6 771.9 658.9 772.3 650.2 772.6 641.5 773.0 638.7 773.3 641.8 773.7 644.3 774.0 646.7 774.4 652.4 774.7 662.5 775.1 672.6 775.4 682.9 775.8 693.1 776.1 686.3 776.4 679.4 776.8 676.3 777.1 674.6 777.4 672.9 777.8 667.2 778.1 659.6 778.4 651.9 778.8 644.2 779.1 641.8 779.4 644.6 779.8 646.8 780.1 648.9 780.4 651.1 780.8 659.5 781.1 668.3 781.4 677.2 781.8 686.1 782.1 695.0 782.5 686.7 782.8 678.5 783.2 676.1 783.5 673.9 783.9 670.2 784.2 661.5 784.6 652.9 784.9 644.3 785.3 641.6 785.6 644.6 786.0 646.9 786.3 649.1 786.7 654.3 787.0 663.5 787.4 672.5 787.7 681.5 788.0 690.4 788.4 683.7 788.7 677.0 789.1 674.6 789.4 673.0 789.8 671.4 790.1 664.0 790.4 656.3 790.8 648.5 791.1 640.5 791.5 643.5 791.8 646.0 792.1 648.3 792.5 650.6 792.8 657.6 793.2 667.0 793.5 676.5 793.9 686.1 794.2 695.7 794.5 687.6 794.9 679.6 795.2 676.5 795.6 674.4 795.9 672.4 796.2 664.0 796.6 655.4 796.9 646.8 797.3 638.3 797.6 641.4 797.9 644.1 798.3 646.4 798.6 648.6 799.0 655.8 799.3 665.2 799.6 674.5 800.0 683.8 800.3 693.0 800.7 684.8 801.0 677.1 801.4 675.2 801.7 673.2 802.0 667.5 802.4 658.3 802.7 649.0 803.1 639.7 803.4 643.1 803.8 646.0 804.1 648.6 804.4 652.6 804.8 663.5 805.1 674.4 805.5 685.5 805.8 696.7 806.2 688.3 806.5 680.5 806.9 678.4 807.2 676.3 807.5 670.6 807.9 661.8 808.2 653.0 808.6 644.3 808.9 647.5 809.2 650.1 809.6 652.4 809.9 655.9 810.3 665.5 810.6 675.1 811.0 684.5 811.3 693.9 811.6 686.2 812.0 678.6 812.3 676.4 812.7 674.4 813.0 671.0 813.3 662.6 813.7 654.3 814.0 646.1 814.4 643.4 814.7 646.4 815.0 648.6 815.4 650.9 815.7 656.1" fill="none" stroke="#6a00dc" stroke-width="1.3" stroke-linejoin="round"/>
<path d="M906.2 626.5 906.6 606.3 906.9 626.4 907.3 646.5 907.6 666.5 908.0 686.5 908.4 706.5 908.7 726.3 909.1 707.1 909.4 687.8 909.8 668.3 910.1 648.6 910.4 628.8 910.8 608.8 911.1 628.9 911.5 649.2 911.8 669.7 912.2 690.3 912.5 711.0 912.9 731.9 913.2 713.2 913.6 694.6 913.9 676.0 914.3 657.5 914.6 639.0 915.0 620.5 915.3 620.5 915.7 638.9 916.0 657.3 916.4 675.6 916.7 693.8 917.1 712.1 917.4 730.2 917.8 711.6 918.1 693.0 918.5 674.4 918.8 655.9 919.2 637.3 919.5 618.8 919.9 618.8 920.2 637.3 920.6 655.7 920.9 674.1 921.3 692.5 921.6 710.9 922.0 729.3 922.3 710.5 922.7 691.7 923.1 673.1 923.4 654.5 923.8 636.1 924.1 617.7 924.5 617.7 924.8 635.9 925.2 654.0 925.6 671.9 925.9 689.8 926.3 707.6 926.6 725.3 927.0 708.2 927.3 691.0 927.7 673.8 928.0 656.5 928.3 639.2 928.7 621.7 929.0 621.8 929.4 639.3 929.7 656.9 930.0 674.5 930.4 692.2 930.7 709.9 931.1 727.7 931.4 709.7 931.8 691.7 932.1 673.8 932.4 655.8 932.8 637.9 933.1 620.0 933.4 620.0 933.8 637.8 934.1 655.6 934.5 673.4 934.8 691.1 935.1 708.8 935.5 726.5 935.8 707.3 936.2 688.2 936.5 669.0 936.9 649.8 937.2 630.6 937.6 611.3 938.0 630.6 938.3 649.8 938.7 669.1 939.0 688.4 939.4 707.7 939.7 727.0 940.1 708.9 940.4 690.9 940.7 672.9 941.1 655.0 941.4 637.1 941.8 619.4 942.1 619.4 942.4 637.0 942.8 654.5 943.1 672.0 943.5 689.4 943.8 706.7 944.1 724.0 944.5 706.1 944.8 688.0 945.2 669.8 945.5 651.4 945.9 632.9 946.2 614.2 946.6 633.0 946.9 652.0 947.3 671.1 947.6 690.4 948.0 709.9 948.3 729.5 948.7 709.8 949.0 690.0 949.4 670.3 949.7 650.6 950.1 630.8 950.4 611.1 950.8 630.8 951.1 650.6 951.5 670.3 951.8 690.0 952.1 709.7 952.5 729.4 952.8 711.3 953.2 693.3 953.5 675.5 953.8 657.9 954.2 640.5 954.5 623.2 954.9 623.1 955.2 640.1 955.5 656.8 955.9 673.4 956.2 689.8 956.5 706.1 956.9 722.1 957.2 704.3 957.5 686.5 957.9 668.8 958.2 651.0 958.5 633.3 958.9 615.6 959.2 615.6 959.5 633.3 959.9 650.9 960.2 668.4 960.5 686.0 960.9 703.5 961.2 721.0 961.6 704.2 961.9 687.3 962.3 670.3 962.6 653.2 963.0 636.1 963.3 618.9 963.7 619.0 964.0 636.3 964.4 653.7 964.8 671.1 965.1 688.7 965.5 706.3 965.8 723.9 966.2 705.1 966.5 686.3 966.9 667.7 967.2 649.1 967.6 630.6 968.0 612.2 968.3 630.5 968.7 648.8 969.0 666.9 969.4 685.0 969.7 703.0 970.1 720.9 970.4 704.6 970.8 688.3 971.1 672.0 971.5 655.6 971.8 639.1 972.2 622.7 972.5 622.7 972.9 639.2 973.2 655.8 973.6 672.5 974.0 689.1 974.3 705.9 974.7 722.6 975.0 705.6 975.3 688.6 975.7 671.4 976.0 654.1 976.4 636.7 976.7 619.2 977.0 619.2 977.4 636.9 977.7 654.7 978.1 672.6 978.4 690.6 978.7 708.8 979.1 727.0 979.4 707.6 979.8 688.2 980.2 668.8 980.5 649.4 980.9 629.9 981.2 610.5 981.6 629.9 981.9 649.4 982.3 668.8 982.7 688.3 983.0 707.8 983.4 727.3 983.7 709.4 984.1 691.8 984.4 674.3 984.7 657.0 985.1 639.8 985.4 622.8 985.8 622.8 986.1 639.5 986.5 656.0 986.8 672.3 987.1 688.4 987.5 704.4 987.8 720.3 988.2 703.7 988.5 687.1 988.9 670.6 989.2 654.1 989.6 637.7 989.9 621.3 990.3 621.3 990.6 637.6 991.0 653.9 991.3 670.1 991.7 686.3 992.0 702.4 992.4 718.5 992.7 702.7 993.1 686.8 993.4 671.0 993.7 655.2 994.1 639.4 994.4 623.7 994.7 623.7 995.1 639.4 995.4 655.1 995.7 670.8 996.1 686.4 996.4 702.1 996.7 717.7 997.1 702.8 997.4 687.9 997.7 673.0 998.1 658.0 998.4 643.1 998.7 628.1 999.1 613.1 999.4 628.1 999.8 643.1 1000.1 658.2 1000.4 673.2 1000.8 688.2 1001.1 703.3 1001.4 718.4 1001.8 702.5 1002.1 686.7 1002.4 670.8 1002.8 654.9 1003.1 639.1 1003.5 623.2 1003.8 623.2 1004.1 639.1 1004.5 654.9 1004.8 670.8 1005.1 686.7 1005.5 702.5 1005.8 718.4 1006.2 702.2 1006.5 686.0 1006.9 669.8 1007.2 653.6 1007.6 637.4 1008.0 621.2 1008.3 621.2 1008.7 637.4 1009.0 653.7 1009.4 669.9 1009.7 686.2 1010.1 702.4 1010.5 718.7 1010.8 703.5 1011.1 688.4 1011.5 673.4 1011.8 658.4 1012.1 643.5 1012.5 628.6 1012.8 613.8 1013.1 628.6 1013.5 643.2 1013.8 657.8 1014.2 672.3 1014.5 686.8 1014.8 701.2 1015.2 715.5 1015.5 700.3 1015.9 685.0 1016.2 669.7 1016.6 654.3 1017.0 638.8 1017.3 623.3 1017.7 623.3 1018.0 639.0 1018.4 654.6 1018.7 670.4 1019.1 686.1 1019.5 702.0 1019.8 717.9 1020.2 701.7 1020.5 685.4 1020.9 669.0 1021.2 652.6 1021.6 636.0 1021.9 619.4 1022.3 636.1 1022.6 652.9 1023.0 669.8 1023.3 686.8 1023.6 703.9 1024.0 721.1 1024.4 704.1 1024.7 687.3 1025.1 670.7 1025.4 654.2 1025.8 637.9 1026.1 621.8 1026.5 621.7 1026.8 637.5 1027.2 653.2 1027.5 668.6 1027.9 683.9 1028.3 699.1 1028.6 714.0 1029.0 698.9 1029.3 683.7 1029.7 668.5 1030.0 653.2 1030.4 637.9 1030.7 622.6 1031.0 622.6 1031.4 638.0 1031.7 653.4 1032.1 668.9 1032.4 684.4 1032.8 699.9 1033.1 715.5 1033.5 699.9 1033.8 684.3 1034.2 668.7 1034.5 653.1 1034.9 637.5 1035.2 621.8 1035.6 621.9 1035.9 637.5 1036.2 653.2 1036.6 668.9 1036.9 684.6 1037.3 700.4 1037.6 716.1 1038.0 699.2 1038.3 682.3 1038.7 665.3 1039.0 648.3 1039.4 631.2 1039.7 614.1 1040.1 631.2 1040.5 648.4 1040.8 665.5 1041.2 682.7 1041.5 699.9 1041.9 717.1 1042.2 699.9 1042.6 682.8 1042.9 665.8 1043.3 648.9 1043.6 632.1 1044.0 615.4 1044.4 632.0 1044.7 648.5 1045.1 665.0 1045.4 681.3 1045.8 697.5 1046.1 713.7 1046.5 698.4 1046.8 683.1 1047.2 667.8 1047.5 652.5 1047.8 637.2 1048.2 621.8 1048.5 621.8 1048.9 637.2 1049.2 652.6 1049.5 668.0 1049.9 683.4 1050.2 698.8 1050.6 714.2 1050.9 698.6 1051.3 682.9 1051.6 667.3 1052.0 651.6 1052.3 636.0 1052.7 620.3 1053.0 620.3 1053.4 636.0 1053.7 651.7 1054.1 667.4 1054.4 683.1 1054.8 698.8 1055.1 714.5 1055.5 699.4 1055.8 684.2 1056.1 669.1 1056.5 653.9 1056.8 638.7 1057.2 623.5 1057.5 623.5 1057.8 638.7 1058.2 654.0 1058.5 669.2 1058.9 684.4 1059.2 699.6 1059.5 714.9 1059.9 699.0 1060.2 683.2 1060.6 667.3 1061.0 651.5 1061.3 635.7 1061.7 619.9 1062.0 635.7 1062.4 651.4 1062.8 667.2 1063.1 682.9 1063.5 698.7 1063.8 714.4 1064.2 697.8 1064.5 681.1 1064.9 664.4 1065.3 647.7 1065.6 630.9 1066.0 614.1 1066.3 631.0 1066.7 647.8 1067.0 664.8 1067.4 681.7 1067.7 698.7 1068.1 715.7 1068.4 700.0 1068.8 684.2 1069.1 668.5 1069.5 652.7 1069.8 637.0 1070.2 621.2 1070.5 621.2 1070.9 637.0 1071.2 652.7 1071.6 668.5 1071.9 684.3 1072.3 700.0 1072.6 715.8 1073.0 698.7 1073.3 681.7 1073.7 664.8 1074.1 648.0 1074.4 631.2 1074.8 614.6 1075.1 631.1 1075.5 647.6 1075.8 664.0 1076.2 680.3 1076.5 696.5 1076.9 712.6 1077.2 698.9 1077.6 685.2 1077.9 671.4 1078.2 657.6 1078.6 643.8 1078.9 630.0 1079.2 616.1 1079.6 630.0 1079.9 643.9 1080.2 657.8 1080.6 671.8 1080.9 685.8 1081.2 699.8 1081.6 713.8 1081.9 698.5 1082.3 683.2 1082.6 667.9 1083.0 652.5 1083.4 637.2 1083.7 621.9 1084.1 621.9 1084.4 637.2 1084.8 652.5 1085.1 667.8 1085.5 683.1 1085.8 698.3 1086.2 713.6 1086.5 698.7 1086.9 683.9 1087.2 669.3 1087.6 654.7 1087.9 640.2 1088.3 625.8 1088.6 625.8 1089.0 640.0 1089.3 654.1 1089.6 668.2 1090.0 682.1 1090.3 696.0 1090.7 709.7 1091.0 695.6 1091.4 681.5 1091.7 667.4 1092.0 653.3 1092.4 639.2 1092.7 625.0 1093.1 625.0 1093.4 639.2 1093.7 653.3 1094.1 667.5 1094.4 681.7 1094.8 695.8 1095.1 710.0 1095.4 695.7 1095.8 681.3 1096.1 666.9 1096.5 652.3 1096.8 637.7 1097.2 622.9 1097.5 622.9 1097.9 637.9 1098.2 652.9 1098.6 668.0 1098.9 683.2 1099.3 698.4 1099.6 713.8 1100.0 699.0 1100.3 684.2 1100.7 669.4 1101.0 654.5 1101.3 639.5 1101.7 624.6 1102.0 624.6 1102.4 639.6 1102.7 654.7 1103.0 669.9 1103.4 685.0 1103.7 700.2 1104.0 715.5 1104.4 700.6 1104.7 685.6 1105.1 670.6 1105.4 655.7 1105.8 640.6 1106.1 625.6 1106.4 625.6 1106.8 640.7 1107.1 655.8 1107.5 670.9 1107.8 686.1 1108.1 701.3 1108.5 716.5 1108.8 700.5 1109.2 684.6 1109.5 668.8 1109.8 653.1 1110.0 714.7 1111.7 617.8 1113.6 707.6 1116.4 618.5 1118.3 704.7 1119.7 677.6 1121.7 619.9 1123.8 699.7 1126.8 622.8 1128.5 699.0 1131.7 622.1 1133.8 710.4 1134.9 653.4 1136.1 686.2 1138.9 635.6 1141.1 697.6 1144.6 622.1 1146.6 717.5 1149.2 623.5 1150.3 649.1 1151.6 595.0 1152.8 747.5 1154.2 650.6 1155.3 684.8 1157.0 670.5 1158.9 616.4 1160.6 716.1 1162.3 612.1 1163.7 719.0 1165.6 616.4 1167.0 719.0 1169.4 597.8 1169.5 619.3 1169.8 637.7 1170.2 656.2 1170.5 674.8 1170.9 693.4 1171.2 712.0 1171.5 730.6 1171.9 712.1 1172.2 693.6 1172.6 675.2 1172.9 656.8 1173.2 638.5 1173.6 620.3 1173.9 620.3 1174.2 638.4 1174.6 656.4 1174.9 674.3 1175.3 692.1 1175.6 709.9 1175.9 727.6 1176.3 708.1 1176.6 688.6 1176.9 669.1 1177.3 649.5 1177.6 629.8 1177.9 610.2 1178.3 629.9 1178.6 649.6 1178.9 669.4 1179.3 689.3 1179.6 709.2 1180.0 729.1 1180.3 707.4 1180.7 685.7 1181.0 664.0 1181.4 642.2 1181.8 620.4 1182.1 620.4 1182.5 642.3 1182.8 664.2 1183.2 686.1 1183.6 708.1 1183.9 730.1 1184.3 710.2 1184.6 690.6 1184.9 671.1 1185.3 651.8 1185.6 632.8 1186.0 614.0 1186.3 632.6 1186.6 651.0 1187.0 669.2 1187.3 687.1 1187.7 704.9 1188.0 722.5 1188.4 703.8 1188.7 685.0 1189.0 666.3 1189.4 647.7 1189.7 629.0 1190.1 610.3 1190.4 629.0 1190.8 647.6 1191.1 666.3 1191.5 685.0 1191.8 703.6 1192.1 722.3 1192.5 702.2 1192.9 682.2 1193.2 662.2 1193.6 642.3 1193.9 622.5 1194.3 622.5 1194.6 642.2 1195.0 661.8 1195.3 681.3 1195.7 700.8 1196.0 720.2 1196.4 702.5 1196.7 684.8 1197.1 667.2 1197.4 649.7 1197.7 632.3 1198.1 615.0 1198.4 632.2 1198.8 649.3 1199.1 666.4 1199.4 683.3 1199.8 700.1 1200.1 716.8 1200.5 699.1 1200.8 681.4 1201.1 663.8 1201.5 646.2 1201.8 628.7 1202.1 611.2 1202.5 628.7 1202.8 646.1 1203.2 663.4 1203.5 680.7 1203.8 698.0 1204.2 715.2 1204.5 696.5 1204.9 677.7 1205.2 658.8 1205.6 639.9 1205.9 620.9 1206.3 620.9 1206.6 640.0 1206.9 659.2 1207.3 678.4 1207.6 697.7 1208.0 717.0 1208.3 700.3 1208.6 683.4 1209.0 666.5 1209.3 649.4 1209.6 632.3 1210.0 615.0 1210.3 632.4 1210.7 649.9 1211.0 667.4 1211.3 685.1 1211.7 702.9 1212.0 720.8 1212.3 701.7 1212.7 682.5 1213.1 663.3 1213.4 644.1 1213.8 624.8 1214.1 624.8 1214.5 644.2 1214.8 663.7 1215.2 683.2 1215.5 702.8 1215.9 722.4 1216.3 701.6 1216.6 681.1 1217.0 660.8 1217.3 640.9 1217.7 621.2 1218.1 621.1 1218.4 640.2 1218.8 659.0 1219.1 677.6 1219.5 695.8 1219.9 713.8 1220.2 695.3 1220.6 676.6 1221.0 657.7 1221.3 638.7 1221.7 619.5 1222.0 619.5 1222.4 639.1 1222.8 658.9 1223.1 678.8 1223.5 698.9 1223.9 719.1 1224.2 697.8 1224.6 676.5 1225.0 655.3 1225.3 634.3 1225.7 613.3 1226.0 634.2 1226.4 654.9 1226.8 675.6 1227.1 696.1 1227.5 716.6 1227.8 699.4 1228.2 682.2 1228.5 664.9 1228.9 647.6 1229.2 630.3 1229.6 613.0 1229.9 630.4 1230.2 647.7 1230.6 665.1 1230.9 682.6 1231.3 700.0 1231.6 717.5 1232.0 698.6 1232.3 679.7 1232.7 661.0 1233.1 642.3 1233.4 623.7 1233.8 623.7 1234.2 642.1 1234.5 660.5 1234.9 678.9 1235.2 697.1 1235.6 715.3 1236.0 697.5 1236.3 679.6 1236.7 661.5 1237.0 643.2 1237.4 624.8 1237.7 624.8 1238.1 643.6 1238.4 662.5 1238.8 681.5 1239.1 700.8 1239.5 720.2 1239.8 700.9 1240.2 681.7 1240.5 662.4 1240.9 643.1 1241.2 623.8 1241.6 623.8 1241.9 643.1 1242.3 662.5 1242.6 681.9 1243.0 701.4 1243.3 720.8 1243.7 700.5 1244.0 680.2 1244.4 659.8 1244.7 639.5 1245.0 619.2 1245.4 619.2 1245.7 639.5 1246.1 659.8 1246.4 680.1 1246.8 700.4 1247.1 720.6 1247.5 702.6 1247.8 684.6 1248.1 666.8 1248.5 649.0 1248.8 631.3 1249.2 613.7 1249.5 631.2 1249.9 648.6 1250.2 666.0 1250.5 683.2 1250.9 700.4 1251.2 717.5 1251.6 700.1 1251.9 682.7 1252.3 665.3 1252.6 647.8 1252.9 630.2 1253.3 612.6 1253.6 630.3 1254.0 648.0 1254.3 665.7 1254.7 683.5 1255.0 701.3 1255.3 719.2 1255.7 700.8 1256.0 682.5 1256.4 664.2 1256.7 645.9 1257.1 627.7 1257.4 609.5 1257.8 627.7 1258.1 645.7 1258.5 663.8 1258.8 681.8 1259.2 699.7 1259.5 717.6 1259.9 699.1 1260.3 680.6 1260.6 661.9 1261.0 643.2 1261.3 624.3 1261.7 624.3 1262.0 643.4 1262.4 662.5 1262.8 681.7 1263.1 700.9 1263.5 720.3 1263.8 699.7 1264.2 679.3 1264.5 658.9 1264.9 638.6 1265.3 618.5 1265.6 618.5 1266.0 638.4 1266.3 658.2 1266.7 678.0 1267.0 697.6 1267.4 717.1 1267.7 699.9 1268.1 682.6 1268.4 665.4 1268.7 648.0 1269.1 630.7 1269.4 613.3 1269.7 630.7 1270.1 648.2 1270.4 665.6 1270.7 683.1 1271.1 700.7 1271.4 718.2 1271.8 698.6 1272.1 679.0 1272.5 659.3 1272.8 639.7 1273.2 620.1 1273.6 620.1 1273.9 639.7 1274.3 659.3 1274.7 679.0 1275.0 698.6 1275.4 718.3 1275.7 699.4 1276.1 680.5 1276.5 661.7 1276.8 642.8 1277.2 624.0 1277.5 624.0 1277.9 642.8 1278.2 661.6 1278.6 680.4 1279.0 699.2 1279.3 717.9 1279.7 698.6 1280.0 679.2 1280.4 659.6 1280.8 640.0 1281.1 620.2 1281.5 620.3 1281.8 640.2 1282.2 660.3 1282.6 680.5 1282.9 700.8 1283.3 721.2 1283.6 701.0 1284.0 680.9 1284.3 660.9 1284.7 641.1 1285.0 621.5 1285.4 621.4 1285.7 640.8 1286.1 660.0 1286.5 679.1 1286.8 698.1 1287.2 716.9 1287.5 698.2 1287.8 679.5 1288.2 660.7 1288.5 641.8 1288.9 622.9 1289.2 622.9 1289.6 641.9 1289.9 661.0 1290.3 680.1 1290.6 699.3 1291.0 718.5 1291.3 699.0 1291.7 679.5 1292.1 660.0 1292.4 640.4 1292.8 620.7 1293.1 620.7 1293.5 640.5 1293.9 660.2 1294.2 680.1 1294.6 699.9 1295.0 719.8 1295.3 700.5 1295.7 681.3 1296.0 662.0 1296.4 642.9 1296.7 623.7 1297.1 623.7 1297.4 642.8 1297.8 661.8 1298.2 680.7 1298.5 699.7 1298.9 718.5 1299.2 700.5 1299.5 682.6 1299.9 664.7 1300.2 646.8 1300.6 629.0 1300.9 611.2 1301.2 629.0 1301.6 646.6 1301.9 664.3 1302.3 681.9 1302.6 699.4 1302.9 716.9 1303.3 698.9 1303.6 680.9 1304.0 662.9 1304.3 644.8 1304.7 626.7 1305.0 608.7 1305.4 626.8 1305.7 644.9 1306.0 663.0 1306.4 681.2 1306.7 699.4 1307.1 717.5 1307.4 699.1 1307.8 680.6 1308.1 662.0 1308.5 643.5 1308.9 624.9 1309.2 624.9 1309.6 643.6 1309.9 662.2 1310.3 680.9 1310.6 699.7 1311.0 718.4 1311.3 701.2 1311.7 683.9 1312.0 666.7 1312.3 649.5 1312.7 632.3 1313.0 615.1 1313.4 632.3 1313.7 649.4 1314.0 666.5 1314.4 683.5 1314.7 700.6 1315.0 717.6 1315.4 699.0 1315.8 680.4 1316.1 661.8 1316.5 643.2 1316.8 624.6 1317.2 624.6 1317.5 643.2 1317.9 661.8 1318.3 680.4 1318.6 699.1 1319.0 717.7 1319.3 698.5 1319.7 679.5 1320.0 660.5 1320.4 641.7 1320.7 622.9 1321.1 622.9 1321.4 641.4 1321.8 659.9 1322.1 678.2 1322.4 696.4 1322.8 714.5 1323.1 697.8 1323.5 681.0 1323.8 664.1 1324.2 647.2 1324.5 630.1 1324.8 613.0 1325.2 630.2 1325.5 647.5 1325.9 664.8 1326.2 682.2 1326.6 699.7 1326.9 717.2 1327.3 698.0 1327.6 678.8 1328.0 659.6 1328.3 640.5 1328.7 621.5 1329.1 621.5 1329.4 640.4 1329.8 659.3 1330.1 678.2 1330.5 697.0 1330.9 715.7 1331.2 697.8 1331.6 679.9 1331.9 662.0 1332.2 644.1 1332.6 626.2 1332.9 608.4 1333.3 626.2 1333.6 644.0 1333.9 661.8 1334.3 679.5 1334.6 697.3 1335.0 715.0 1335.3 696.5 1335.7 678.1 1336.0 659.6 1336.4 641.2 1336.7 622.8 1337.1 622.8 1337.4 641.2 1337.8 659.7 1338.1 678.1 1338.5 696.6 1338.8 715.0 1339.2 696.2 1339.5 677.3 1339.9 658.3 1340.2 639.3 1340.6 620.1 1341.0 620.1 1341.3 639.5 1341.7 658.9 1342.0 678.4 1342.4 697.9 1342.7 717.6 1343.1 697.9 1343.4 678.2 1343.8 658.6 1344.1 639.0 1344.5 619.4 1344.8 619.4 1345.2 638.9 1345.5 658.4 1345.9 677.8 1346.3 697.2 1346.6 716.5 1347.0 697.0 1347.3 677.6 1347.7 658.2 1348.1 638.9 1348.4 619.7 1348.8 619.7 1349.1 638.8 1349.5 657.9 1349.9 676.9 1350.2 695.8 1350.6 714.7 1350.9 695.9 1351.3 676.9 1351.6 657.9 1352.0 638.9 1352.3 619.8 1352.7 619.8 1353.0 639.0 1353.4 658.3 1353.7 677.6 1354.1 697.0 1354.4 716.4 1354.8 697.7 1355.1 678.9 1355.5 660.0 1355.8 640.9 1356.1 621.8 1356.5 621.8 1356.8 641.2 1357.2 660.6 1357.5 680.2 1357.9 699.9 1358.2 719.7 1358.6 701.3 1358.9 683.0 1359.3 664.7 1359.7 646.5 1360.0 628.3 1360.4 610.3 1360.8 628.3 1361.1 646.2 1361.5 664.1 1361.8 681.8 1362.2 699.6 1362.6 717.2 1362.9 698.0 1363.2 678.8 1363.6 659.6 1363.9 640.3 1364.3 621.0 1364.6 621.0 1365.0 640.4 1365.3 659.8 1365.6 679.2 1366.0 698.6 1366.3 718.1 1366.7 699.1 1367.0 680.2 1367.4 661.4 1367.8 642.6 1368.1 623.9 1368.5 623.9 1368.8 642.5 1369.2 661.0 1369.5 679.4 1369.9 697.8 1370.3 716.1 1370.6 697.6 1370.9 678.9 1371.3 660.0 1371.6 641.0 1372.0 621.8 1372.3 621.9 1372.7 641.3 1373.0 661.0 1373.4 680.8 1373.7 700.8 1374.1 720.9 1374.4 701.5 1374.8 682.2 1375.1 662.9 1375.5 643.7 1375.8 624.7 1376.2 624.6 1376.6 643.6 1376.9 662.4 1377.3 681.2 1377.6 699.9 1378.0 718.5 1378.3 700.8 1378.7 683.2 1379.0 665.6 1379.3 648.0 1379.7 630.5 1380.0 613.0 1380.4 630.5 1380.7 647.9 1381.0 665.3 1381.4 682.6 1381.7 699.9 1382.1 717.2 1382.4 698.1 1382.8 678.9 1383.1 659.6 1383.4 640.2 1383.8 620.8 1384.1 620.8 1384.5 640.4 1384.8 660.1 1385.1 679.9 1385.5 699.7 1385.8 719.7 1386.2 702.2 1386.5 684.7 1386.8 667.1 1387.2 649.5 1387.5 631.8 1387.8 614.0 1388.2 631.8 1388.5 649.7 1388.9 667.7 1389.2 685.7 1389.5 703.8 1389.9 722.0 1390.2 702.5 1390.6 683.1 1390.9 663.8 1391.3 644.5 1391.6 625.3 1392.0 625.3 1392.3 644.3 1392.7 663.4 1393.0 682.3 1393.4 701.2 1393.7 720.0 1394.1 700.4 1394.4 680.8 1394.8 661.3 1395.1 641.7 1395.5 622.2 1395.9 622.2 1396.2 641.7 1396.6 661.2 1396.9 680.7 1397.3 700.2 1397.6 719.6 1398.0 699.6 1398.4 679.8 1398.7 660.2 1399.1 640.7 1399.4 621.4 1399.8 621.3 1400.2 640.3 1400.5 659.1 1400.9 677.7 1401.2 696.1 1401.6 714.3 1402.0 695.8 1402.3 677.3 1402.7 658.8 1403.0 640.2 1403.4 621.7 1403.8 621.7 1404.1 640.2 1404.5 658.8 1404.8 677.4 1405.2 695.9 1405.6 714.5 1405.9 696.8 1406.2 679.0 1406.6 661.0 1406.9 642.9 1407.3 624.7 1407.6 624.7 1407.9 643.2 1408.3 661.9 1408.6 680.8 1409.0 699.7 1409.3 718.8 1409.6 701.2 1410.0 683.5 1410.3 665.8 1410.7 648.1 1411.0 630.4 1411.3 612.6 1411.7 630.4 1412.0 648.1 1412.3 665.9 1412.7 683.6 1413.0 701.4 1413.3 719.1 1413.7 699.9 1414.0 680.7 1414.4 661.6 1414.7 642.5 1415.1 623.5 1415.4 623.5 1415.8 642.4 1416.1 661.3 1416.5 680.1 1416.8 698.9 1417.2 717.7 1417.5 698.0 1417.9 678.4 1418.3 658.7 1418.6 638.9 1419.0 619.1 1419.3 619.1 1419.7 639.0 1420.0 659.0 1420.4 679.0 1420.7 699.0 1421.1 719.1 1421.5 699.2 1421.8 679.2 1422.2 659.2 1422.5 639.3 1422.9 619.4 1423.2 619.4 1423.6 639.3 1423.9 659.1 1424.3 678.9 1424.6 698.7 1425.0 718.5 1425.3 701.1 1425.6 683.7 1426.0 666.3 1426.3 648.8 1426.7 631.3 1427.0 613.7 1427.3 631.3 1427.7 649.0 1428.0 666.7 1428.3 684.4 1428.7 702.2 1429.0 720.1 1429.4 700.5 1429.7 681.1 1430.1 661.9 1430.4 642.7 1430.8 623.7 1431.1 623.7 1431.5 642.4 1431.9 661.0 1432.2 679.4 1432.6 697.7 1432.9 715.8 1433.3 698.9 1433.6 681.9 1434.0 664.9 1434.3 647.7 1434.7 630.5 1435.0 613.2 1435.4 630.6 1435.7 648.0 1436.1 665.6 1436.4 683.3 1436.8 701.0 1437.1 718.8 1437.5 702.1 1437.8 685.2 1438.2 668.3 1438.5 651.2 1438.8 634.0 1439.2 616.7 1439.5 634.1 1439.9 651.7 1440.2 669.3 1440.5 687.0 1440.9 704.9 1441.2 722.9 1441.6 702.2 1441.9 681.7 1442.3 661.3 1442.6 641.0 1443.0 620.9 1443.4 620.8 1443.7 640.7 1444.1 660.4 1444.4 680.1" fill="none" stroke="#6a00dc" stroke-width="1.3" stroke-linejoin="round"/>
<path d="M276.5 852.2 276.8 857.2 277.2 862.2 277.5 867.2 277.8 872.1 278.2 869.5 278.5 866.8 278.9 864.1 279.2 863.0 279.5 862.6 279.9 862.2 280.2 861.9 280.6 861.7 280.9 861.4 281.3 861.2 281.6 860.9 281.9 860.7 282.3 860.5 282.6 860.0 283.0 858.1 283.3 856.3 283.7 854.4 284.0 852.5 284.4 850.7 284.7 849.1 285.0 848.4 285.4 847.6 285.7 847.7 286.1 848.4 286.4 849.1 286.8 849.9 287.1 850.8 287.4 851.8 287.8 853.6 288.1 857.8 288.5 862.0 288.8 866.1 289.2 870.2 289.5 867.7 289.8 865.3 290.2 862.8 290.5 862.0 290.8 861.7 291.2 861.4 291.5 861.1 291.8 861.0 292.2 860.8 292.5 860.6 292.9 860.4 293.2 860.3 293.5 860.1 293.9 859.0 294.2 857.1 294.5 855.3 294.9 853.4 295.2 851.5 295.5 849.7 295.9 848.7 296.2 848.0 296.6 847.6 296.9 848.3 297.2 849.1 297.6 849.8 297.9 850.8 298.2 851.8 298.6 853.4 298.9 857.9 299.2 862.4 299.6 866.9 299.9 871.4 300.3 868.7 300.6 865.9 301.0 863.9 301.3 863.5 301.6 863.1 302.0 862.8 302.3 862.6 302.7 862.4 303.0 862.2 303.4 862.0 303.7 861.8 304.1 860.4 304.4 858.4 304.7 856.3 305.1 854.3 305.4 852.3 305.8 851.2 306.1 850.4 306.5 850.6 306.8 851.4 307.2 852.2 307.5 853.3 307.8 854.4 308.2 857.4 308.5 862.2 308.9 867.1 309.2 871.9 309.6 869.7 309.9 867.5 310.2 865.2 310.6 863.8 310.9 863.4 311.3 863.1 311.6 862.8 311.9 862.6 312.3 862.4 312.6 862.2 313.0 862.0 313.3 861.8 313.6 861.6 314.0 861.4 314.3 861.2 314.6 859.8 315.0 858.2 315.3 856.7 315.7 855.1 316.0 853.5 316.3 851.9 316.7 850.8 317.0 850.1 317.4 849.5 317.7 849.6 318.0 850.2 318.4 850.8 318.7 851.4 319.1 852.2 319.4 853.0 319.7 853.7 320.1 856.4 320.4 860.0 320.8 863.6 321.1 867.2 321.4 870.7 321.8 868.4 322.1 866.0 322.4 863.6 322.8 863.3 323.1 862.9 323.5 862.6 323.8 862.4 324.1 862.3 324.5 862.1 324.8 861.9 325.2 861.8 325.5 861.6 325.8 860.8 326.2 859.0 326.5 857.2 326.9 855.4 327.2 853.6 327.5 851.8 327.9 851.1 328.2 850.4 328.6 850.5 328.9 851.2 329.2 851.9 329.6 852.8 329.9 853.8 330.3 854.7 330.6 858.7 330.9 863.1 331.3 867.4 331.6 871.8 332.0 869.3 332.3 866.7 332.6 864.2 333.0 863.0 333.3 862.6 333.7 862.3 334.0 861.9 334.3 861.7 334.7 861.5 335.0 861.3 335.4 861.1 335.7 860.9 336.0 860.7 336.4 860.5 336.7 859.2 337.1 857.3 337.4 855.5 337.8 853.7 338.1 851.9 338.4 850.1 338.8 848.9 339.1 848.2 339.5 847.5 339.8 848.0 340.1 848.7 340.5 849.4 340.8 850.3 341.2 851.2 341.5 852.1 341.8 854.5 342.2 858.7 342.5 862.9 342.9 867.1 343.2 871.4 343.6 868.8 343.9 866.3 344.2 864.3 344.6 863.9 344.9 863.5 345.3 863.2 345.6 863.0 346.0 862.8 346.3 862.5 346.6 862.3 347.0 862.1 347.3 861.5 347.7 859.7 348.0 858.0 348.4 856.2 348.7 854.4 349.1 852.9 349.4 852.2 349.7 851.5 350.1 852.2 350.4 852.8 350.8 853.5 351.1 854.4 351.5 855.3 351.8 858.2 352.2 862.2 352.5 866.2 352.8 870.2 353.2 867.9 353.5 865.5 353.8 863.2 354.2 862.7 354.5 862.4 354.8 862.1 355.2 861.9 355.5 861.8 355.8 861.6 356.2 861.5 356.5 861.3 356.8 861.2 357.2 861.0 357.5 859.3 357.9 857.5 358.2 855.7 358.5 853.9 358.9 852.1 359.2 850.7 359.5 850.0 359.9 849.3 360.2 849.9 360.5 850.6 360.9 851.3 361.2 852.3 361.5 853.3 361.9 854.4 362.2 858.8 362.5 863.3 362.9 867.8 363.2 872.3 363.5 869.5 363.9 866.7 364.2 863.9 364.5 862.8 364.9 862.4 365.2 861.9 365.5 861.6 365.9 861.3 366.2 861.1 366.6 860.9 366.9 860.6 367.2 860.4 367.6 860.1 367.9 859.7 368.2 857.7 368.6 855.7 368.9 853.7 369.2 851.8 369.6 849.8 369.9 848.1 370.3 847.3 370.6 846.6 370.9 846.7 371.3 847.4 371.6 848.2 371.9 849.0 372.3 850.0 372.6 851.0 372.9 852.9 373.3 857.4 373.6 861.8 373.9 866.2 374.3 870.6 374.6 867.6 375.0 864.5 375.3 861.7 375.7 861.3 376.0 860.9 376.3 860.5 376.7 860.3 377.0 860.1 377.4 859.9 377.7 859.6 378.1 859.4 378.4 859.2 378.7 857.3 379.1 855.0 379.4 852.8 379.8 850.5 380.1 848.2 380.5 846.8 380.8 845.9 381.1 845.5 381.5 846.4 381.8 847.3 382.2 848.3 382.5 849.5 382.8 850.7 383.2 855.2 383.5 860.6 383.9 866.1 384.2 871.5 384.6 868.8 384.9 866.0 385.2 863.5 385.6 863.1 385.9 862.7 386.2 862.3 386.6 862.1 386.9 861.9 387.2 861.7 387.6 861.4 387.9 861.2 388.2 861.0 388.6 859.3 388.9 857.3 389.2 855.4 389.6 853.4 389.9 851.4 390.2 850.2 390.6 849.4 390.9 849.0 391.2 849.8 391.6 850.6 391.9 851.4 392.2 852.5 392.6 853.5 392.9 857.2 393.2 861.8 393.6 866.4 393.9 871.0 394.2 868.5 394.6 866.0 394.9 863.5 395.3 862.7 395.6 862.4 395.9 862.0 396.3 861.8 396.6 861.6 397.0 861.4 397.3 861.2 397.6 861.0 398.0 860.8 398.3 860.6 398.7 859.5 399.0 857.7 399.4 855.8 399.7 854.0 400.0 852.2 400.4 850.3 400.7 849.4 401.1 848.7 401.4 848.3 401.7 849.0 402.1 849.7 402.4 850.5 402.8 851.4 403.1 852.4 403.4 853.9 403.8 858.2 404.1 862.6 404.5 866.9 404.8 871.2 405.2 868.8 405.5 866.3 405.8 863.9 406.2 863.3 406.5 863.0 406.9 862.6 407.2 862.4 407.6 862.2 407.9 862.0 408.2 861.8 408.6 861.6 408.9 861.4 409.3 861.3 409.6 859.5 409.9 857.7 410.3 855.9 410.6 854.2 411.0 852.4 411.3 851.0 411.7 850.3 412.0 849.6 412.3 850.2 412.7 850.9 413.0 851.6 413.4 852.5 413.7 853.4 414.1 854.5 414.4 858.6 414.7 862.8 415.1 867.0 415.4 871.2 415.8 868.3 416.1 865.3 416.4 862.5 416.8 862.0 417.1 861.6 417.5 861.1 417.8 860.9 418.1 860.6 418.5 860.4 418.8 860.2 419.1 859.9 419.5 859.7 419.8 858.7 420.2 856.6 420.5 854.6 420.8 852.5 421.2 850.5 421.5 848.4 421.8 847.7 422.2 846.9 422.5 847.0 422.8 847.8 423.2 848.6 423.5 849.5 423.9 850.6 424.2 851.6 424.5 855.9 424.9 860.5 425.2 865.1 425.5 869.7 425.9 867.6 426.2 865.5 426.6 863.3 426.9 863.0 427.2 862.8 427.6 862.5 427.9 862.4 428.2 862.2 428.6 862.1 428.9 862.0 429.3 861.9 429.6 861.7 429.9 861.0 430.3 859.3 430.6 857.6 430.9 855.9 431.3 854.2 431.6 852.5 432.0 851.8 432.3 851.1 432.6 851.2 433.0 851.9 433.3 852.6 433.6 853.5 434.0 854.4 434.3 855.4 434.7 859.4 435.0 863.7 435.3 868.1 435.7 872.5 436.0 869.4 436.4 866.3 436.7 863.6 437.0 863.1 437.4 862.6 437.7 862.2 438.1 861.9 438.4 861.6 438.7 861.4 439.1 861.1 439.4 860.8 439.8 860.6 440.1 858.7 440.5 856.6 440.8 854.5 441.1 852.4 441.5 850.3 441.8 848.9 442.2 848.1 442.5 847.8 442.8 848.6 443.2 849.4 443.5 850.3 443.9 851.3 444.2 852.4 444.6 856.3 444.9 861.0 445.2 865.6 445.6 870.3 445.9 867.6 446.3 864.9 446.6 862.2 446.9 861.6 447.3 861.2 447.6 860.8 447.9 860.6 448.3 860.4 448.6 860.2 448.9 860.0 449.3 859.7 449.6 859.5 450.0 859.3 450.3 857.4 450.6 855.5 451.0 853.5 451.3 851.6 451.6 849.6 452.0 848.1 452.3 847.4 452.6 846.6 453.0 847.3 453.3 848.0 453.7 848.8 454.0 849.7 454.3 850.8 454.7 851.9 455.0 856.4 455.3 861.0 455.7 865.5 456.0 870.0 456.3 867.8 456.7 865.5 457.0 863.2 457.3 862.7 457.7 862.4 458.0 862.1 458.4 861.9 458.7 861.8 459.0 861.6 459.4 861.5 459.7 861.3 460.0 861.2 460.4 861.0 460.7 859.3 461.0 857.6 461.4 855.8 461.7 854.0 462.0 852.3 462.4 850.9 462.7 850.2 463.0 849.5 463.4 850.1 463.7 850.8 464.0 851.5 464.4 852.5 464.7 853.4 465.0 854.5 465.4 858.8 465.7 863.2 466.1 867.6 466.4 872.0 466.7 869.3 467.1 866.5 467.4 863.7 467.7 863.2 468.1 862.8 468.4 862.5 468.8 862.3 469.1 862.1 469.4 861.9 469.8 861.8 470.1 861.6 470.5 861.4 470.8 861.2 471.1 859.2 471.5 857.0 471.8 854.9 472.2 852.7 472.5 850.5 472.8 848.9 473.2 848.0 473.5 847.2 473.9 847.9 474.2 848.8 474.5 849.7 474.9 850.8 475.2 852.0 475.6 853.3 475.9 858.7 476.2 864.1 476.6 869.6 476.9 875.1 477.3 871.7 477.6 868.4 477.9 865.2 478.3 864.1 478.6 863.5 479.0 863.0 479.3 862.6 479.6 862.2 480.0 861.9 480.3 861.6 480.7 861.3 481.0 861.0 481.3 860.6 481.7 859.2 482.0 857.0 482.4 854.8 482.7 852.6 483.0 850.5 483.4 848.3 483.7 847.2 484.1 846.4 484.4 846.0 484.7 846.8 485.1 847.6 485.4 848.4 485.7 849.4 486.1 850.5 486.4 852.0 486.8 856.7 487.1 861.2 487.4 865.7 487.8 870.2 488.1 867.7 488.5 865.3 488.8 862.8 489.1 862.0 489.5 861.7 489.8 861.4 490.1 861.2 490.5 861.0 490.8 860.8 491.1 860.7 491.5 860.5 491.8 860.4 492.1 860.2 492.5 859.1 492.8 857.2 493.1 855.3 493.5 853.4 493.8 851.5 494.1 849.6 494.5 848.6 494.8 847.8 495.2 847.4 495.5 848.2 495.8 849.0 496.2 849.7 496.5 850.8 496.8 851.8 497.2 853.5 497.5 858.2 497.8 862.9 498.2 867.6 498.5 872.4 498.8 869.5 499.2 866.7 499.5 863.9 499.8 863.2 500.2 862.8 500.5 862.3 500.9 862.0 501.2 861.8 501.5 861.5 501.9 861.2 502.2 861.0 502.5 860.7 502.9 860.4 503.2 858.5 503.6 856.6 503.9 854.7 504.2 852.8 504.6 851.0 504.9 849.5 505.2 848.8 505.6 848.1 505.9 848.7 506.2 849.4 506.6 850.1 506.9 851.0 507.3 851.9 507.6 852.9 507.9 857.0 508.3 861.1 508.6 865.1 508.9 869.1 509.3 866.9 509.6 864.6 510.0 862.4 510.3 861.9 510.6 861.6 511.0 861.3 511.3 861.2 511.7 861.0 512.0 860.9 512.4 860.7 512.7 860.6 513.0 860.5 513.4 860.3 513.7 858.6 514.1 856.9 514.4 855.1 514.8 853.3 515.1 851.6 515.4 850.2 515.8 849.5 516.1 848.8 516.5 849.4 516.8 850.1 517.1 850.8 517.5 851.8 517.8 852.8 518.2 853.8 518.5 858.3 518.9 862.7 519.2 867.2 519.5 871.7 519.9 868.8 520.2 865.8 520.6 862.9 520.9 862.4 521.2 862.0 521.6 861.6 521.9 861.3 522.2 861.1 522.6 860.9 522.9 860.6 523.3 860.4 523.6 860.2 523.9 859.2 524.3 857.0 524.6 854.9 524.9 852.7 525.3 850.6 525.6 848.5 526.0 847.7 526.3 846.8 526.6 847.0 527.0 847.8 527.3 848.6 527.6 849.6 528.0 850.7 528.3 851.8 528.7 856.4 529.0 861.4 529.3 866.3 529.7 871.2 530.0 868.4 530.3 865.6 530.7 862.8 531.0 861.9 531.4 861.5 531.7 861.1 532.0 860.8 532.4 860.5 532.7 860.3 533.1 860.0 533.4 859.8 533.7 859.6 534.1 859.3 534.4 858.1 534.8 856.1 535.1 854.1 535.4 852.1 535.8 850.1 536.1 848.2 536.5 847.2 536.8 846.4 537.1 846.0 537.5 846.7 537.8 847.5 538.2 848.3 538.5 849.3 538.9 850.3 539.2 851.9 539.5 856.4 539.9 860.9 540.2 865.4 540.6 869.8 540.9 867.7 541.2 865.5 541.6 863.4 541.9 862.5 542.2 862.2 542.6 861.9 542.9 861.7 543.2 861.6 543.6 861.4 543.9 861.2 544.2 861.1 544.6 860.9 544.9 860.8 545.2 860.4 545.6 858.8 545.9 857.2 546.3 855.6 546.6 854.0 546.9 852.4 547.3 850.9 547.6 850.3 547.9 849.7 548.3 849.7 548.6 850.4 548.9 851.0 549.3 851.7 549.6 852.6 549.9 853.5 550.3 855.2 550.6 859.1 550.9 863.0 551.3 866.9 551.6 870.8 552.0 868.4 552.3 866.0 552.6 863.5 553.0 862.8 553.3 862.4 553.7 862.1 554.0 861.8 554.4 861.6 554.7 861.5 555.0 861.3 555.4 861.1 555.7 860.9 556.1 860.7 556.4 859.6 556.8 857.8 557.1 856.0 557.4 854.3 557.8 852.5 558.1 850.7 558.5 849.7 558.8 849.0 559.1 848.7 559.5 849.4 559.8 850.1 560.2 850.8 560.5 851.7 560.9 852.7 561.2 854.1 561.5 858.4 561.9 862.6 562.2 866.8 562.6 871.1 562.9 868.6 563.2 866.1 563.6 863.7 563.9 862.3 564.3 861.9 564.6 861.5 564.9 861.2 565.3 861.0 565.6 860.8 566.0 860.6 566.3 860.4 566.6 860.2 567.0 860.1 567.3 859.9 567.7 859.2 568.0 857.4 568.3 855.6 568.7 853.8 569.0 851.9 569.3 850.1 569.7 848.3 570.0 847.6 570.4 846.9 570.7 846.5 571.0 847.2 571.4 847.9 571.7 848.6 572.1 849.5 572.4 850.4 572.7 851.4 573.1 854.1 573.4 858.4 573.7 862.7 574.1 867.0 574.4 871.2 574.8 868.8 575.1 866.3 575.4 863.8 575.8 863.1 576.1 862.8 576.5 862.4 576.8 862.2 577.1 862.0 577.5 861.8 577.8 861.7 578.2 861.5 578.5 861.3 578.8 861.2 579.2 860.0 579.5 858.2 579.9 856.3 580.2 854.4 580.5 852.5 580.9 850.7 581.2 849.7 581.6 848.9 581.9 848.5 582.2 849.3 582.6 850.1 582.9 850.8 583.3 851.8 583.6 852.9 583.9 854.4 584.3 859.0 584.6 863.6 585.0 868.2 585.3 872.9 585.6 870.4 586.0 868.0 586.3 865.7 586.7 864.5 587.0 864.1 587.3 863.7 587.7 863.4 588.0 863.1 588.3 862.9 588.7 862.7 589.0 862.5 589.4 862.2 589.7 862.0 590.0 861.8 590.4 860.5 590.7 858.9 591.0 857.3 591.4 855.6 591.7 854.1 592.1 852.5 592.4 851.5 592.7 850.8 593.1 850.2 593.4 850.7 593.7 851.3 594.1 851.9 594.4 852.6 594.8 853.4 595.1 854.1 595.4 856.0 595.8 859.5 596.1 863.0 596.4 866.4 596.8 869.8 597.1 867.6 597.5 865.4 597.8 863.1 598.1 862.3 598.5 862.0 598.8 861.8 599.2 861.6 599.5 861.5 599.9 861.4 600.2 861.3 600.5 861.2 600.9 861.1 601.2 861.0 601.6 860.6 601.9 858.8 602.2 857.0 602.6 855.2 602.9 853.3 603.3 851.4 603.6 849.8 603.9 849.0 604.3 848.3 604.6 848.3 605.0 849.1 605.3 849.9 605.6 850.8 606.0 851.8 606.3 852.9 606.7 855.1 607.0 859.9 607.3 864.9 607.7 869.8 608.0 874.8 608.4 871.9 608.7 869.0 609.1 866.1 609.4 864.5 609.7 864.0 610.1 863.6 610.4 863.1 610.8 862.8 611.1 862.6 611.4 862.3 611.8 862.0 612.1 861.7 612.5 861.5 612.8 861.2 613.2 860.4 613.5 858.4 613.8 856.4 614.2 854.5 614.5 852.5 614.9 850.6 615.2 848.7 615.6 847.9 615.9 847.2 616.2 846.7 616.6 847.4 616.9 848.2 617.3 848.9 617.6 849.8 618.0 850.7 618.3 851.7 618.6 854.5 619.0 858.7 619.3 862.9 619.7 867.1 620.0 871.2 620.4 868.7 620.7 866.2 621.0 863.7 621.4 863.1 621.7 862.8 622.1 862.5 622.4 862.3 622.7 862.2 623.1 862.0 623.4 861.9 623.7 861.7 624.1 861.6 624.4 861.4 624.8 859.5 625.1 857.5 625.4 855.5 625.8 853.6 626.1 851.5 626.5 850.0 626.8 849.2 627.1 848.4 627.5 849.1 627.8 849.9 628.2 850.7 628.5 851.8 628.8 852.9 629.2 854.1 629.5 859.1 629.9 864.1 630.2 869.2 630.5 874.3 630.9 871.3 631.2 868.4 631.6 865.4 631.9 864.2 632.2 863.8 632.6 863.3 632.9 862.9 633.3 862.6 633.6 862.3 633.9 862.1 634.3 861.8 634.6 861.5 634.9 861.2 635.3 860.7 635.6 858.7 636.0 856.7 636.3 854.7 636.6 852.7 637.0 850.8 637.3 849.1 637.7 848.3 638.0 847.6 638.3 847.7 638.7 848.4 639.0 849.1 639.4 849.9 639.7 850.9 640.0 851.8 640.4 853.7 640.7 858.0 641.1 862.3 641.4 866.5 641.7 870.6 642.1 868.3 642.4 865.9 642.8 863.5 643.1 862.8 643.5 862.5 643.8 862.3 644.1 862.1 644.5 861.9 644.8 861.8 645.2 861.7 645.5 861.5 645.8 861.4 646.2 861.3 646.5 860.2 646.9 858.3 647.2 856.4 647.6 854.5 647.9 852.6 648.2 850.6 648.6 849.6 648.9 848.9 649.3 848.4 649.6 849.2 649.9 850.0 650.3 850.8 650.6 851.9 651.0 853.0 651.3 854.7 651.7 859.5 652.0 864.4 652.3 869.4 652.7 874.3 653.0 871.5 653.4 868.6 653.7 865.7 654.0 864.8 654.4 864.3 654.7 863.9 655.0 863.6 655.4 863.4 655.7 863.1 656.1 862.9 656.4 862.7 656.7 862.4 657.1 862.2 657.4 860.9 657.7 858.8 658.1 856.7 658.4 854.7 658.7 852.6 659.1 850.5 659.4 849.4 659.8 848.6 660.1 848.2 660.4 849.0 660.8 849.8 661.1 850.6 661.4 851.7 661.8 852.8 662.1 854.5 662.5 859.3 662.8 864.1 663.1 869.0 663.5 873.8 663.8 870.7 664.1 867.6 664.5 864.5 664.8 863.3 665.2 862.7 665.5 862.2 665.8 861.8 666.2 861.5 666.5 861.2 666.9 860.9 667.2 860.6 667.5 860.3 667.9 859.9 668.2 859.4 668.6 857.3 668.9 855.3 669.2 853.2 669.6 851.2 669.9 849.2 670.2 847.5 670.6 846.7 670.9 846.0 671.3 846.1 671.6 846.8 671.9 847.5 672.3 848.3 672.6 849.3 673.0 850.2 673.3 852.1 673.6 856.3 674.0 860.5 674.3 864.6 674.7 868.7 675.0 866.4 675.3 864.1 675.7 862.3 676.0 862.1 676.3 861.8 676.7 861.6 677.0 861.5 677.4 861.3 677.7 861.2 678.0 861.1 678.4 860.9 678.7 859.7 679.0 857.9 679.4 856.0 679.7 854.2 680.0 852.3 680.4 851.3 680.7 850.6 681.1 850.8 681.4 851.6 681.7 852.3 682.1 853.3 682.4 854.4 682.7 857.3 683.1 862.0 683.4 866.7 683.7 871.5 684.1 868.9 684.4 866.3 684.8 863.8 685.1 863.2 685.5 862.7 685.8 862.3 686.1 862.1 686.5 861.8 686.8 861.6 687.2 861.4 687.5 861.1 687.9 860.9 688.2 860.6 688.5 858.9 688.9 857.1 689.2 855.4 689.6 853.6 689.9 851.9 690.2 850.6 690.6 849.9 690.9 849.3 691.3 849.8 691.6 850.5 692.0 851.1 692.3 851.9 692.6 852.8 693.0 853.7 693.3 857.6 693.7 861.3 694.0 865.1 694.3 868.8 694.7 866.6 695.0 864.3 695.4 862.2 695.7 861.9 696.1 861.6 696.4 861.4 696.7 861.2 697.1 861.1 697.4 860.9 697.8 860.8 698.1 860.6 698.4 860.4 698.8 859.0 699.1 857.3 699.5 855.6 699.8 853.9 700.2 852.1 700.5 851.0 700.8 850.3 701.2 850.0 701.5 850.7 701.9 851.4 702.2 852.2 702.5 853.1 702.9 854.1 703.2 857.5 703.6 861.7 703.9 866.0 704.3 870.2 704.6 867.8 704.9 865.4 705.3 863.2 705.6 862.9 705.9 862.5 706.3 862.3 706.6 862.1 706.9 861.9 707.3 861.7 707.6 861.6 707.9 861.4 708.3 861.2 708.6 859.7 708.9 857.9 709.3 856.1 709.6 854.3 709.9 852.5 710.3 851.3 710.6 850.6 710.9 850.3 711.3 851.0 711.6 851.7 711.9 852.5 712.3 853.5 712.6 854.5 712.9 858.1 713.3 862.5 713.6 866.9 713.9 871.3 714.3 868.9 714.6 866.5 714.9 864.1 715.3 863.4 715.6 863.0 715.9 862.7 716.3 862.4 716.6 862.3 716.9 862.1 717.3 861.9 717.6 861.7 718.0 861.5 718.3 861.4 718.6 860.3 719.0 858.5 719.3 856.7 719.6 854.9 720.0 853.2 720.3 851.4 720.6 850.4 721.0 849.7 721.3 849.4 721.7 850.1 722.0 850.8 722.3 851.5 722.7 852.4 723.0 853.4 723.3 854.9 723.7 859.1 724.0 863.3 724.3 867.6 724.7 871.8 725.0 869.2 725.4 866.7 725.7 864.1 726.0 863.3 726.4 862.9 726.7 862.5 727.0 862.3 727.4 862.1 727.7 861.9 728.0 861.7 728.4 861.5 728.7 861.3 729.1 861.1 729.4 859.9 729.7 858.0 730.1 856.1 730.4 854.2 730.7 852.4 731.1 850.5 731.4 849.5 731.8 848.7 732.1 848.4 732.4 849.1 732.8 849.8 733.1 850.6 733.4 851.6 733.8 852.6 734.1 854.1 734.4 858.6 734.8 863.1 735.1 867.5 735.5 872.0 735.8 869.6 736.1 867.3 736.5 864.9 736.8 863.8 737.1 863.4 737.5 863.0 737.8 862.7 738.1 862.5 738.5 862.3 738.8 862.1 739.1 861.9 739.5 861.7 739.8 861.5 740.1 861.3 740.5 860.0 740.8 858.4 741.1 856.7 741.5 855.1 741.8 853.4 742.1 851.8 742.5 850.7 742.8 850.1 743.1 849.5 743.5 850.0 743.8 850.6 744.1 851.2 744.5 851.9 744.8 852.8 745.1 853.6 745.5 855.6 745.8 859.3 746.1 863.0 746.5 866.7 746.8 870.4 747.1 868.0 747.5 865.6 747.8 863.2 748.2 862.3 748.5 862.0 748.8 861.7 749.2 861.5 749.5 861.3 749.9 861.2 750.2 861.1 750.5 860.9 750.9 860.8 751.2 860.6 751.6 860.3 751.9 858.4 752.2 856.5 752.6 854.6 752.9 852.7 753.2 850.8 753.6 849.1 753.9 848.3 754.3 847.5 754.6 847.6 754.9 848.4 755.3 849.2 755.6 850.1 756.0 851.1 756.3 852.2 756.6 854.4 757.0 859.2 757.3 864.1 757.7 869.0 758.0 873.9 758.3 870.9 758.7 867.8 759.0 865.0 759.4 864.5 759.7 864.0 760.1 863.6 760.4 863.3 760.7 863.0 761.1 862.7 761.4 862.4 761.8 862.2 762.1 861.9 762.5 860.1 762.8 858.0 763.1 855.9 763.5 853.9 763.8 851.8 764.2 850.5 764.5 849.7 764.9 849.4 765.2 850.2 765.6 850.9 765.9 851.8 766.2 852.8 766.6 853.8 766.9 857.5 767.3 861.9 767.6 866.4 768.0 870.7 768.3 867.9 768.6 865.0 769.0 862.1 769.3 861.4 769.7 861.0 770.0 860.6 770.4 860.4 770.7 860.2 771.0 860.0 771.4 859.8 771.7 859.5 772.1 859.3 772.4 859.1 772.8 857.0 773.1 854.9 773.5 852.7 773.8 850.6 774.1 848.4 774.5 846.8 774.8 845.9 775.2 845.1 775.5 845.8 775.9 846.7 776.2 847.5 776.5 848.6 776.9 849.7 777.2 851.0 777.6 856.2 777.9 861.3 778.3 866.5 778.6 871.6 779.0 869.0 779.3 866.5 779.6 863.9 780.0 863.1 780.3 862.7 780.7 862.3 781.0 862.0 781.3 861.7 781.7 861.5 782.0 861.3 782.4 861.0 782.7 860.8 783.0 860.6 783.4 859.5 783.7 857.7 784.1 855.9 784.4 854.1 784.7 852.3 785.1 850.5 785.4 849.6 785.8 849.0 786.1 848.6 786.4 849.3 786.8 850.0 787.1 850.6 787.5 851.5 787.8 852.4 788.1 853.8 788.5 857.7 788.8 861.7 789.2 865.6 789.5 869.5 789.8 867.4 790.2 865.3 790.5 863.2 790.9 862.4 791.2 862.2 791.5 861.9 791.9 861.7 792.2 861.6 792.6 861.4 792.9 861.3 793.3 861.2 793.6 861.0 793.9 860.9 794.3 860.6 794.6 859.0 795.0 857.3 795.3 855.7 795.6 854.1 796.0 852.4 796.3 851.0 796.7 850.3 797.0 849.7 797.3 849.8 797.7 850.4 798.0 851.1 798.4 851.8 798.7 852.7 799.0 853.6 799.4 855.4 799.7 859.5 800.1 863.6 800.4 867.7 800.7 871.8 801.1 869.1 801.4 866.4 801.8 863.7 802.1 862.9 802.4 862.5 802.8 862.1 803.1 861.8 803.5 861.6 803.8 861.4 804.1 861.2 804.5 861.0 804.8 860.8 805.2 860.6 805.5 859.4 805.8 857.4 806.2 855.4 806.5 853.4 806.9 851.3 807.2 849.3 807.5 848.3 807.9 847.5 808.2 847.1 808.6 847.9 808.9 848.7 809.2 849.5 809.6 850.5 809.9 851.6 810.3 853.3 810.6 858.1 810.9 862.9 811.3 867.7 811.6 872.5 811.9 870.3 812.3 868.0 812.6 865.8 813.0 864.7 813.3 864.4 813.6 864.1 814.0 863.8 814.3 863.6 814.6 863.4 815.0 863.2 815.3 863.0 815.6 862.9 816.0 862.7" fill="none" stroke="#1e0aa8" stroke-width="1.35" stroke-linejoin="round"/>
<path d="M907.9 891.1 908.2 880.8 908.6 872.2 908.9 870.0 909.2 868.9 909.6 867.8 909.9 856.0 910.2 837.1 910.6 831.1 910.9 832.2 911.2 834.8 911.6 836.0 911.9 834.1 912.2 833.4 912.6 835.4 912.9 844.8 913.2 859.3 913.6 873.6 913.9 887.9 914.3 878.9 914.6 870.7 914.9 868.7 915.3 867.8 915.6 867.0 915.9 861.3 916.3 844.2 916.6 833.0 917.0 831.8 917.3 834.2 917.6 836.1 918.0 836.4 918.3 834.1 918.6 834.7 919.0 836.5 919.3 847.7 919.7 861.1 920.0 874.6 920.3 888.1 920.7 877.4 921.0 869.2 921.4 867.2 921.7 866.1 922.0 865.0 922.4 846.9 922.7 830.3 923.1 828.5 923.4 831.2 923.8 833.2 924.1 832.7 924.5 830.5 924.8 832.6 925.1 840.0 925.5 855.5 925.8 870.8 926.2 886.2 926.5 876.5 926.8 868.3 927.2 866.4 927.5 865.5 927.9 864.7 928.2 853.1 928.5 834.3 928.9 828.3 929.2 829.5 929.6 832.2 929.9 833.4 930.2 831.5 930.6 830.8 930.9 832.8 931.2 842.7 931.6 857.9 931.9 873.2 932.3 888.6 932.6 877.9 933.0 869.0 933.3 866.7 933.7 865.6 934.0 864.5 934.3 852.2 934.7 832.4 935.0 826.2 935.4 827.4 935.7 830.1 936.1 831.4 936.4 829.4 936.8 828.7 937.1 830.7 937.5 840.7 937.8 855.9 938.2 871.1 938.5 886.2 938.8 876.6 939.2 868.4 939.5 866.4 939.9 865.6 940.2 864.7 940.6 853.1 940.9 834.3 941.3 828.3 941.6 829.5 942.0 832.1 942.3 833.4 942.7 831.5 943.0 830.8 943.4 832.8 943.7 842.7 944.1 858.0 944.4 873.3 944.8 888.7 945.1 878.7 945.5 871.1 945.8 869.3 946.2 868.5 946.5 867.6 946.8 850.1 947.2 834.0 947.5 832.1 947.9 834.9 948.2 836.9 948.6 836.3 948.9 834.2 949.3 836.3 949.6 843.9 949.9 859.7 950.3 875.6 950.6 891.5 951.0 879.6 951.3 871.4 951.7 869.4 952.0 868.1 952.3 862.8 952.7 840.8 953.0 830.1 953.4 830.9 953.7 833.9 954.0 834.8 954.4 831.9 954.7 833.2 955.1 838.3 955.4 855.1 955.7 871.8 956.1 888.4 956.4 879.4 956.8 871.2 957.1 869.2 957.4 868.3 957.8 867.4 958.1 861.7 958.5 844.7 958.8 833.4 959.2 832.2 959.5 834.6 959.8 836.5 960.2 836.8 960.5 834.5 960.9 835.1 961.2 836.9 961.6 848.1 961.9 861.6 962.2 875.1 962.6 888.6 962.9 877.7 963.3 870.2 963.6 868.4 963.9 867.4 964.3 862.5 964.6 841.7 965.0 831.5 965.3 832.3 965.7 835.2 966.0 836.1 966.3 833.3 966.7 834.5 967.0 839.6 967.4 856.2 967.7 872.8 968.0 889.5 968.4 880.1 968.7 872.3 969.1 870.3 969.4 869.4 969.8 868.5 970.1 857.6 970.4 840.1 970.8 834.6 971.1 835.6 971.5 838.1 971.8 839.2 972.2 837.4 972.5 836.8 972.8 838.6 973.2 847.5 973.5 861.2 973.9 874.8 974.2 888.4 974.6 879.0 974.9 871.1 975.3 869.2 975.6 868.4 976.0 867.6 976.3 856.3 976.6 838.1 977.0 832.3 977.3 833.4 977.7 836.0 978.0 837.2 978.4 835.3 978.7 834.6 979.1 836.6 979.4 846.3 979.8 861.1 980.1 876.0 980.5 890.9 980.8 879.9 981.2 871.4 981.5 869.4 981.9 868.4 982.2 867.4 982.6 848.2 982.9 830.7 983.3 828.7 983.6 831.7 983.9 833.8 984.3 833.2 984.6 830.9 985.0 833.2 985.3 841.2 985.7 858.1 986.0 875.0 986.4 891.9 986.7 881.9 987.1 872.6 987.4 870.4 987.7 869.3 988.1 868.3 988.4 862.0 988.7 843.2 989.1 830.8 989.4 829.5 989.7 832.1 990.1 834.2 990.4 834.5 990.7 832.0 991.1 832.6 991.4 834.6 991.7 846.7 992.1 861.3 992.4 875.9 992.7 890.5 993.1 879.9 993.4 870.9 993.8 868.7 994.1 867.6 994.5 866.6 994.8 854.1 995.2 833.9 995.5 827.5 995.8 828.7 996.2 831.5 996.5 832.8 996.9 830.8 997.2 830.0 997.6 832.2 997.9 842.6 998.3 858.5 998.6 874.4 999.0 890.3 999.3 879.7 999.6 870.7 1000.0 868.6 1000.3 867.6 1000.7 866.6 1001.0 854.1 1001.3 833.9 1001.7 827.5 1002.0 828.7 1002.4 831.5 1002.7 832.9 1003.0 830.8 1003.4 830.1 1003.7 832.2 1004.1 842.6 1004.4 858.6 1004.7 874.5 1005.1 890.5 1005.4 880.1 1005.8 871.4 1006.1 869.2 1006.4 868.1 1006.8 867.1 1007.1 855.1 1007.4 835.9 1007.8 829.8 1008.1 830.9 1008.4 833.6 1008.8 834.8 1009.1 832.9 1009.5 832.2 1009.8 834.2 1010.1 843.9 1010.5 858.6 1010.8 873.3 1011.1 887.9 1011.5 876.4 1011.8 868.5 1012.1 866.5 1012.5 865.4 1012.8 860.1 1013.1 838.5 1013.5 827.9 1013.8 828.7 1014.2 831.7 1014.5 832.6 1014.8 829.8 1015.2 831.0 1015.5 836.2 1015.8 853.0 1016.2 869.8 1016.5 886.5 1016.8 877.0 1017.2 868.9 1017.5 867.1 1017.9 866.3 1018.2 865.5 1018.6 853.9 1018.9 835.1 1019.3 829.1 1019.6 830.3 1020.0 833.0 1020.3 834.2 1020.7 832.3 1021.0 831.6 1021.4 833.7 1021.7 843.8 1022.1 859.3 1022.4 874.9 1022.8 890.7 1023.1 879.8 1023.5 871.5 1023.8 869.4 1024.1 868.3 1024.5 867.2 1024.8 848.8 1025.2 832.1 1025.5 830.2 1025.8 833.0 1026.2 835.0 1026.5 834.4 1026.9 832.3 1027.2 834.4 1027.6 841.8 1027.9 857.4 1028.2 872.9 1028.6 888.3 1028.9 876.5 1029.3 868.4 1029.6 866.5 1030.0 865.4 1030.3 860.0 1030.7 837.2 1031.0 826.0 1031.4 826.9 1031.8 830.0 1032.1 831.0 1032.5 828.0 1032.8 829.4 1033.2 835.0 1033.5 853.4 1033.9 871.9 1034.2 890.5 1034.6 880.0 1034.9 871.0 1035.2 868.8 1035.6 867.7 1035.9 866.6 1036.2 854.4 1036.6 834.7 1036.9 828.5 1037.3 829.7 1037.6 832.4 1037.9 833.7 1038.3 831.7 1038.6 831.0 1038.9 833.0 1039.3 842.9 1039.6 858.1 1039.9 873.1 1040.3 888.1 1040.6 878.6 1041.0 869.9 1041.3 867.7 1041.7 866.7 1042.0 865.7 1042.3 859.7 1042.7 842.1 1043.0 830.5 1043.4 829.2 1043.7 831.7 1044.0 833.6 1044.4 833.9 1044.7 831.6 1045.1 832.2 1045.4 834.0 1045.8 845.2 1046.1 858.7 1046.4 872.1 1046.8 885.5 1047.1 876.8 1047.5 868.6 1047.8 866.8 1048.1 866.0 1048.5 865.3 1048.8 859.6 1049.1 842.3 1049.5 830.8 1049.8 829.6 1050.2 832.0 1050.5 834.0 1050.8 834.3 1051.2 832.0 1051.5 832.6 1051.9 834.5 1052.2 846.4 1052.5 860.7 1052.9 875.2 1053.2 889.8 1053.5 879.5 1053.9 870.8 1054.2 868.6 1054.6 867.7 1054.9 866.7 1055.3 854.5 1055.6 834.8 1056.0 828.5 1056.3 829.7 1056.6 832.5 1057.0 833.8 1057.3 831.8 1057.7 831.1 1058.0 833.2 1058.4 843.4 1058.7 859.0 1059.0 874.6 1059.4 890.3 1059.7 880.0 1060.1 871.3 1060.4 869.1 1060.7 868.0 1061.1 866.9 1061.4 855.1 1061.7 836.2 1062.1 830.3 1062.4 831.4 1062.7 834.0 1063.1 835.2 1063.4 833.3 1063.7 832.6 1064.1 834.5 1064.4 843.9 1064.7 858.2 1065.1 872.4 1065.4 886.5 1065.8 876.7 1066.1 868.5 1066.4 866.5 1066.8 865.5 1067.1 864.6 1067.5 853.2 1067.8 834.9 1068.2 829.2 1068.5 830.3 1068.8 832.8 1069.2 834.0 1069.5 832.1 1069.9 831.5 1070.2 833.4 1070.6 842.7 1070.9 856.9 1071.3 871.1 1071.6 885.2 1071.9 877.5 1072.3 869.7 1072.6 868.0 1073.0 867.1 1073.3 866.4 1073.7 865.7 1074.0 850.6 1074.3 835.4 1074.7 833.2 1075.0 834.5 1075.4 836.6 1075.7 837.8 1076.1 836.9 1076.4 834.9 1076.7 836.6 1077.1 838.2 1077.4 850.5 1077.8 862.8 1078.1 875.1 1078.5 887.5 1078.8 877.7 1079.1 870.2 1079.5 868.4 1079.8 867.5 1080.2 866.6 1080.5 849.5 1080.9 833.7 1081.2 831.9 1081.6 834.6 1081.9 836.6 1082.2 836.0 1082.6 834.0 1082.9 836.0 1083.3 843.3 1083.6 858.6 1084.0 873.9 1084.3 889.3 1084.6 879.7 1085.0 871.7 1085.3 869.7 1085.7 868.7 1086.0 867.8 1086.4 856.6 1086.7 838.5 1087.1 832.8 1087.4 833.9 1087.8 836.4 1088.1 837.6 1088.5 835.7 1088.8 835.1 1089.2 837.0 1089.5 846.2 1089.8 860.4 1090.2 874.6 1090.5 888.8 1090.9 878.9 1091.2 870.6 1091.6 868.6 1091.9 867.7 1092.3 866.9 1092.6 855.0 1092.9 835.7 1093.3 829.6 1093.6 830.8 1094.0 833.5 1094.3 834.8 1094.7 832.8 1095.0 887.1 1096.2 868.9 1097.4 867.7 1098.6 834.5 1100.1 836.3 1101.7 882.2 1102.9 872.6 1104.7 829.6 1106.5 836.3 1108.1 888.9 1110.1 862.9 1111.7 810.9 1113.7 875.0 1115.0 862.9 1116.5 823.6 1119.2 890.1 1121.4 811.5 1123.4 842.3 1124.6 865.3 1125.8 844.7 1127.0 866.5 1128.3 935.4 1129.5 854.4 1130.3 888.3 1131.5 841.1 1132.5 879.8 1133.7 858.0 1134.9 867.7 1136.7 835.7 1138.5 881.0 1140.3 859.3 1143.1 828.4 1144.8 886.5 1146.4 867.7 1149.2 824.2 1149.4 823.2 1149.7 826.3 1150.0 827.8 1150.4 825.5 1150.7 824.7 1151.0 827.1 1151.4 838.6 1151.7 856.2 1152.0 873.9 1152.4 891.6 1152.7 880.3 1153.1 870.8 1153.4 868.3 1153.8 867.1 1154.1 865.9 1154.5 853.0 1154.8 832.5 1155.2 826.1 1155.5 827.3 1155.8 830.1 1156.2 831.3 1156.5 829.3 1156.9 828.6 1157.2 830.6 1157.6 840.7 1157.9 856.0 1158.3 871.1 1158.6 886.1 1159.0 874.9 1159.3 866.3 1159.7 864.2 1160.0 863.1 1160.4 862.0 1160.7 842.8 1161.1 825.2 1161.4 823.2 1161.8 826.1 1162.1 828.3 1162.5 827.7 1162.8 825.4 1163.2 827.6 1163.5 835.6 1163.9 852.4 1164.2 869.1 1164.6 885.8 1164.9 873.8 1165.3 865.6 1165.6 863.6 1166.0 862.5 1166.4 857.0 1166.7 834.2 1167.1 823.1 1167.4 824.0 1167.8 827.1 1168.1 828.1 1168.5 825.1 1168.8 826.4 1169.2 831.9 1169.5 849.9 1169.9 867.9 1170.2 886.0 1170.6 875.5 1170.9 867.4 1171.3 865.5 1171.6 864.6 1172.0 863.7 1172.3 845.3 1172.7 828.3 1173.0 826.4 1173.4 829.3 1173.7 831.4 1174.1 830.8 1174.4 828.6 1174.8 830.8 1175.1 838.7 1175.5 855.2 1175.8 871.7 1176.2 888.4 1176.5 879.1 1176.9 870.6 1177.2 868.5 1177.5 867.7 1177.9 866.8 1178.2 860.9 1178.5 843.1 1178.9 831.4 1179.2 830.1 1179.5 832.6 1179.9 834.6 1180.2 834.9 1180.5 832.5 1180.9 833.2 1181.2 835.1 1181.5 846.8 1181.9 861.0 1182.2 875.3 1182.6 889.6 1182.9 879.8 1183.2 870.1 1183.6 867.9 1183.9 866.6 1184.2 865.6 1184.6 864.5 1184.9 846.7 1185.2 829.0 1185.6 826.4 1185.9 827.8 1186.2 830.3 1186.6 831.6 1186.9 830.6 1187.2 828.3 1187.6 830.1 1187.9 831.9 1188.2 845.3 1188.6 858.6 1188.9 871.8 1189.3 885.0 1189.6 876.6 1189.9 868.1 1190.3 866.4 1190.6 865.6 1191.0 865.0 1191.3 864.3 1191.6 847.4 1192.0 830.2 1192.3 827.6 1192.7 829.1 1193.0 831.6 1193.4 832.9 1193.7 832.0 1194.0 829.6 1194.4 831.6 1194.7 833.5 1195.1 847.9 1195.4 862.5 1195.8 877.3 1196.1 892.3 1196.4 882.4 1196.8 872.7 1197.1 870.3 1197.4 868.9 1197.8 867.7 1198.1 866.6 1198.4 849.3 1198.8 832.3 1199.1 829.8 1199.5 831.2 1199.8 833.5 1200.1 834.7 1200.5 833.7 1200.8 831.6 1201.1 833.2 1201.5 834.8 1201.8 847.1 1202.1 859.2 1202.5 871.0 1202.8 882.6 1203.1 875.5 1203.5 868.3 1203.8 866.8 1204.1 866.1 1204.5 865.5 1204.8 865.0 1205.1 850.7 1205.5 836.3 1205.8 834.2 1206.1 835.4 1206.5 837.5 1206.8 838.6 1207.1 837.8 1207.5 835.8 1207.8 837.4 1208.1 839.0 1208.5 851.0 1208.8 863.1 1209.1 875.3 1209.5 887.6 1209.8 878.9 1210.2 870.2 1210.5 868.4 1210.8 867.5 1211.2 866.8 1211.5 866.1 1211.8 848.8 1212.2 831.5 1212.5 828.9 1212.8 830.4 1213.2 832.9 1213.5 834.2 1213.8 833.3 1214.2 830.9 1214.5 832.8 1214.8 834.8 1215.2 849.0 1215.5 863.5 1215.9 878.0 1216.2 892.6 1216.5 882.5 1216.9 873.1 1217.2 870.8 1217.6 869.7 1217.9 868.6 1218.3 862.2 1218.6 843.7 1219.0 831.5 1219.3 830.2 1219.7 832.8 1220.0 834.8 1220.4 835.1 1220.7 832.7 1221.1 833.3 1221.4 835.1 1221.8 846.8 1222.1 860.7 1222.4 874.5 1222.8 888.3 1223.1 880.0 1223.5 871.6 1223.8 869.8 1224.1 868.8 1224.5 868.0 1224.8 867.2 1225.2 851.3 1225.5 835.5 1225.8 833.1 1226.2 834.4 1226.5 836.7 1226.8 837.9 1227.2 837.0 1227.5 834.9 1227.9 836.6 1228.2 838.3 1228.5 850.9 1228.9 863.5 1229.2 876.1 1229.6 888.7 1229.9 878.9 1230.2 869.2 1230.6 866.9 1230.9 865.7 1231.3 864.7 1231.6 863.8 1232.0 845.4 1232.3 827.1 1232.6 824.4 1233.0 825.9 1233.3 828.5 1233.7 829.8 1234.0 828.8 1234.4 826.4 1234.7 828.3 1235.0 830.2 1235.4 844.5 1235.7 858.7 1236.1 872.9 1236.4 887.0 1236.8 878.4 1237.1 869.8 1237.4 867.2 1237.8 866.0 1238.1 865.1 1238.4 864.3 1238.8 852.7 1239.1 836.5 1239.4 828.6 1239.8 827.8 1240.1 830.0 1240.5 832.0 1240.8 832.9 1241.1 830.9 1241.5 829.9 1241.8 831.6 1242.1 835.5 1242.5 848.1 1242.8 860.8 1243.1 873.5 1243.5 886.1 1243.8 878.0 1244.2 870.5 1244.5 868.7 1244.8 867.8 1245.2 867.0 1245.5 861.9 1245.9 846.7 1246.2 836.7 1246.5 835.7 1246.9 837.8 1247.2 839.4 1247.6 839.7 1247.9 837.7 1248.3 838.2 1248.6 839.8 1248.9 849.5 1249.3 861.2 1249.6 872.9 1250.0 884.6 1250.3 874.8 1250.6 865.7 1251.0 863.5 1251.3 862.4 1251.7 861.4 1252.0 855.3 1252.4 837.1 1252.7 825.2 1253.0 823.9 1253.4 826.4 1253.7 828.4 1254.1 828.6 1254.4 826.3 1254.8 826.9 1255.1 828.7 1255.4 840.3 1255.8 854.1 1256.1 867.9 1256.5 881.7 1256.8 873.8 1257.2 865.7 1257.5 864.1 1257.9 863.4 1258.2 862.8 1258.5 862.2 1258.9 846.1 1259.2 829.7 1259.6 827.3 1259.9 828.7 1260.3 831.0 1260.6 832.3 1261.0 831.4 1261.3 829.2 1261.7 831.0 1262.0 832.9 1262.3 846.7 1262.7 860.7 1263.0 874.8 1263.4 889.1 1263.7 880.6 1264.0 871.9 1264.4 870.1 1264.7 869.2 1265.0 868.6 1265.4 867.9 1265.7 850.7 1266.1 833.3 1266.4 830.8 1266.7 832.2 1267.1 834.7 1267.4 836.1 1267.7 835.1 1268.1 832.8 1268.4 834.7 1268.7 836.6 1269.1 851.1 1269.4 865.7 1269.7 880.5 1270.1 895.4 1270.4 884.9 1270.8 874.6 1271.1 872.1 1271.5 870.6 1271.8 869.3 1272.2 868.1 1272.5 849.8 1272.9 831.7 1273.2 829.1 1273.5 830.5 1273.9 833.0 1274.2 834.2 1274.6 833.2 1274.9 830.9 1275.3 832.7 1275.6 834.4 1276.0 847.5 1276.3 860.3 1276.7 872.9 1277.0 885.3 1277.4 876.9 1277.7 869.2 1278.1 867.4 1278.4 866.6 1278.8 865.9 1279.1 860.5 1279.5 844.0 1279.8 833.0 1280.1 831.8 1280.5 834.2 1280.8 836.1 1281.2 836.4 1281.5 834.1 1281.9 834.7 1282.2 836.5 1282.6 847.8 1282.9 861.4 1283.3 875.2 1283.6 889.0 1284.0 878.9 1284.3 869.6 1284.6 867.2 1285.0 866.1 1285.3 865.0 1285.7 858.7 1286.0 840.3 1286.4 828.4 1286.7 827.1 1287.1 829.6 1287.4 831.5 1287.8 831.8 1288.1 829.4 1288.4 830.0 1288.8 831.9 1289.1 843.2 1289.5 856.8 1289.8 870.2 1290.2 883.5 1290.5 875.0 1290.9 867.1 1291.2 865.4 1291.6 864.7 1291.9 864.1 1292.3 858.5 1292.6 841.2 1293.0 829.7 1293.3 828.4 1293.7 830.9 1294.0 832.9 1294.4 833.2 1294.7 830.9 1295.1 831.5 1295.4 833.5 1295.8 845.6 1296.1 860.4 1296.5 875.4 1296.8 890.5 1297.2 882.2 1297.5 873.9 1297.8 871.4 1298.2 870.3 1298.5 869.5 1298.8 868.7 1299.2 857.4 1299.5 841.5 1299.8 833.8 1300.2 833.1 1300.5 835.3 1300.8 837.2 1301.2 838.1 1301.5 836.1 1301.8 835.1 1302.2 836.8 1302.5 840.6 1302.9 853.2 1303.2 865.7 1303.5 878.2 1303.9 890.7 1304.2 881.8 1304.5 873.0 1304.9 870.9 1305.2 869.8 1305.6 868.9 1305.9 868.0 1306.2 851.4 1306.6 834.9 1306.9 832.5 1307.2 833.9 1307.6 836.2 1307.9 837.4 1308.3 836.5 1308.6 834.3 1308.9 836.0 1309.3 837.7 1309.6 850.4 1310.0 863.0 1310.3 875.6 1310.6 888.1 1311.0 880.6 1311.3 873.0 1311.6 870.9 1312.0 869.9 1312.3 869.4 1312.6 868.8 1313.0 858.1 1313.3 842.9 1313.6 835.5 1314.0 834.7 1314.3 836.9 1314.6 838.8 1315.0 839.7 1315.3 837.7 1315.7 836.8 1316.0 838.5 1316.3 842.4 1316.7 855.0 1317.0 867.8 1317.3 880.7 1317.7 893.7 1318.0 883.5 1318.4 873.4 1318.7 871.0 1319.0 869.7 1319.4 868.7 1319.7 867.6 1320.1 848.8 1320.4 830.1 1320.8 827.3 1321.1 828.9 1321.5 831.5 1321.8 832.8 1322.1 831.8 1322.5 829.4 1322.8 831.3 1323.2 833.2 1323.5 847.6 1323.9 861.8 1324.2 876.0 1324.6 890.2 1324.9 880.9 1325.3 872.3 1325.6 870.3 1325.9 869.4 1326.3 868.5 1326.6 862.6 1327.0 845.0 1327.3 833.3 1327.7 832.1 1328.0 834.6 1328.3 836.5 1328.7 836.8 1329.0 834.5 1329.4 835.1 1329.7 836.9 1330.1 848.5 1330.4 862.4 1330.7 876.4 1331.1 890.3 1331.4 880.8 1331.8 872.0 1332.1 869.9 1332.5 868.8 1332.8 867.9 1333.1 861.9 1333.5 844.1 1333.8 832.5 1334.2 831.3 1334.5 833.7 1334.9 835.6 1335.2 835.9 1335.5 833.6 1335.9 834.2 1336.2 836.0 1336.6 847.3 1336.9 860.9 1337.2 874.4 1337.6 887.9 1337.9 879.3 1338.3 870.6 1338.6 868.8 1339.0 867.8 1339.3 867.0 1339.6 866.2 1340.0 849.6 1340.3 833.0 1340.7 830.5 1341.0 831.9 1341.3 834.3 1341.7 835.5 1342.0 834.6 1342.4 832.4 1342.7 834.2 1343.0 836.0 1343.4 849.3 1343.7 862.7 1344.1 876.1 1344.4 889.6 1344.7 880.2 1345.1 871.6 1345.4 869.5 1345.8 868.5 1346.1 867.6 1346.5 861.7 1346.8 844.0 1347.2 832.4 1347.5 831.1 1347.8 833.6 1348.2 835.5 1348.5 835.8 1348.9 833.5 1349.2 834.1 1349.6 835.9 1349.9 847.4 1350.3 861.2 1350.6 875.0 1350.9 888.8 1351.3 881.0 1351.6 873.1 1352.0 870.8 1352.3 869.7 1352.6 869.0 1353.0 868.2 1353.3 857.5 1353.6 842.5 1354.0 835.1 1354.3 834.4 1354.6 836.5 1355.0 838.3 1355.3 839.2 1355.6 837.3 1356.0 836.4 1356.3 838.0 1356.6 841.6 1357.0 853.6 1357.3 865.6 1357.6 877.6 1358.0 889.6 1358.3 880.7 1358.7 872.5 1359.0 870.5 1359.4 869.6 1359.7 868.8 1360.1 863.1 1360.4 846.1 1360.8 835.0 1361.1 833.7 1361.5 836.1 1361.8 838.0 1362.2 838.3 1362.5 836.1 1362.9 836.6 1363.2 838.4 1363.6 849.6 1363.9 863.1 1364.3 876.6 1364.6 890.1 1365.0 881.6 1365.3 873.1 1365.7 870.5 1366.0 869.2 1366.3 868.3 1366.7 867.4 1367.0 856.2 1367.4 840.6 1367.7 833.1 1368.1 832.3 1368.4 834.5 1368.8 836.3 1369.1 837.2 1369.5 835.2 1369.8 834.3 1370.2 835.9 1370.5 839.5 1370.8 851.3 1371.2 863.1 1371.5 874.7 1371.9 886.3 1372.2 879.0 1372.6 871.6 1372.9 869.5 1373.2 868.6 1373.6 868.0 1373.9 867.5 1374.2 856.9 1374.6 841.9 1374.9 834.5 1375.2 833.7 1375.6 835.9 1375.9 837.8 1376.2 838.7 1376.6 836.8 1376.9 835.8 1377.2 837.5 1377.6 841.4 1377.9 854.1 1378.2 866.9 1378.6 879.9 1378.9 893.0 1379.2 883.6 1379.6 874.3 1379.9 872.1 1380.3 870.9 1380.6 869.8 1380.9 868.8 1381.3 851.7 1381.6 834.7 1382.0 832.2 1382.3 833.6 1382.7 835.9 1383.0 837.2 1383.3 836.2 1383.7 834.0 1384.0 835.8 1384.4 837.5 1384.7 850.3 1385.0 863.1 1385.4 875.8 1385.7 888.3 1386.1 880.0 1386.4 871.7 1386.7 869.9 1387.1 869.0 1387.4 868.2 1387.8 867.5 1388.1 851.4 1388.5 835.3 1388.8 832.9 1389.1 834.3 1389.5 836.6 1389.8 837.8 1390.2 836.9 1390.5 834.8 1390.8 836.5 1391.2 838.2 1391.5 851.2 1391.9 864.2 1392.2 877.3 1392.6 890.4 1392.9 881.1 1393.2 873.2 1393.6 871.2 1393.9 870.3 1394.2 869.4 1394.6 858.4 1394.9 840.8 1395.2 835.2 1395.6 836.2 1395.9 838.7 1396.2 839.8 1396.6 838.1 1396.9 837.4 1397.2 839.2 1397.6 848.3 1397.9 862.0 1398.2 875.8 1398.6 889.5 1398.9 881.1 1399.2 872.8 1399.6 869.6 1399.9 868.3 1400.2 867.5 1400.6 866.7 1400.9 859.8 1401.2 843.9 1401.6 830.7 1401.9 828.4 1402.3 830.0 1402.6 832.3 1402.9 833.6 1403.3 833.5 1403.6 831.4 1403.9 831.6 1404.3 833.2 1404.6 839.3 1404.9 851.9 1405.0 886.4 1406.1 870.7 1407.2 869.6 1408.6 839.2 1410.1 831.9 1410.8 842.6 1412.3 880.8 1414.0 866.2 1416.2 835.3 1417.6 835.8 1419.4 887.0 1420.7 868.4 1423.0 837.5 1424.7 833.6 1426.0 888.1 1427.5 869.6 1429.7 830.2 1432.0 837.0 1434.0 842.6 1435.1 826.3 1435.9 843.7 1436.8 934.7 1437.6 834.7" fill="none" stroke="#1e0aa8" stroke-width="1.35" stroke-linejoin="round"/>
<path d="M275.8 1048.6 276.1 1031.9 276.5 1015.2 276.8 998.3 277.2 1015.3 277.5 1032.5 277.9 1049.8 278.2 1067.2 278.5 1084.7 278.9 1063.5 279.2 1042.7 279.6 1022.2 279.9 1002.1 280.3 1002.0 280.6 1021.4 281.0 1040.4 281.3 1059.1 281.7 1077.5 282.0 1060.1 282.4 1042.5 282.8 1024.4 283.1 1006.0 283.5 1006.1 283.8 1025.2 284.2 1044.8 284.5 1064.7 284.9 1085.0 285.2 1066.7 285.6 1048.4 285.9 1030.1 286.3 1011.9 286.6 993.7 287.0 1011.9 287.3 1030.0 287.7 1048.2 288.0 1066.3 288.4 1084.4 288.7 1063.8 289.1 1043.4 289.4 1023.0 289.8 1002.8 290.1 1002.7 290.5 1022.8 290.9 1042.8 291.2 1062.7 291.6 1082.5 291.9 1064.4 292.2 1046.4 292.6 1028.5 292.9 1010.8 293.2 993.3 293.6 1010.7 293.9 1027.8 294.2 1044.9 294.6 1061.8 294.9 1078.5 295.3 1058.9 295.7 1039.4 296.0 1020.0 296.4 1000.6 296.8 1000.6 297.1 1019.9 297.5 1039.0 297.9 1058.2 298.2 1077.2 298.6 1058.4 299.0 1039.5 299.3 1020.4 299.7 1001.3 300.1 1001.3 300.4 1020.7 300.8 1040.1 301.2 1059.7 301.5 1079.4 301.9 1060.8 302.2 1041.8 302.5 1022.4 302.9 1002.5 303.2 1002.6 303.6 1023.4 303.9 1044.6 304.2 1066.3 304.6 1088.4 304.9 1064.6 305.3 1040.6 305.7 1016.2 306.0 991.5 306.4 1016.5 306.8 1041.8 307.1 1067.5 307.5 1093.5 307.8 1069.3 308.2 1044.8 308.5 1020.0 308.9 994.8 309.2 994.9 309.6 1020.8 309.9 1047.1 310.3 1073.7 310.6 1100.6 311.0 1074.5 311.3 1048.2 311.6 1021.7 312.0 995.0 312.3 968.0 312.6 995.2 313.0 1022.6 313.3 1050.2 313.6 1078.0 314.0 1106.0 314.3 1073.1 314.5 1045.1 314.8 1022.0 315.1 1040.2 315.4 1053.6 315.7 1062.0 316.0 1051.1 316.2 1036.4 316.5 1018.0 316.8 1040.2 317.1 1066.2 317.4 1096.0 317.7 1070.2 318.1 1045.1 318.5 1020.6 318.8 996.9 319.2 996.7 319.6 1019.2 319.9 1041.0 320.3 1062.2 320.6 1082.7 321.0 1059.6 321.4 1036.3 321.7 1013.0 322.1 989.5 322.5 1013.1 322.9 1036.8 323.2 1060.6 323.6 1084.6 324.0 1062.1 324.3 1039.6 324.7 1017.1 325.0 994.4 325.4 1017.1 325.7 1039.8 326.1 1062.6 326.5 1085.5 326.8 1066.3 327.1 1047.0 327.5 1027.8 327.8 1008.5 328.2 1008.5 328.5 1027.8 328.8 1047.1 329.2 1066.5 329.5 1085.9 329.9 1065.7 330.3 1045.5 330.6 1025.4 331.0 1005.4 331.4 1005.4 331.7 1025.3 332.1 1045.2 332.5 1065.0 332.8 1084.8 333.2 1062.4 333.6 1040.2 333.9 1018.1 334.3 996.1 334.7 1017.9 335.0 1039.5 335.4 1061.0 335.8 1082.2 336.1 1060.6 336.5 1038.8 336.9 1017.0 337.2 995.2 337.6 1017.1 337.9 1039.0 338.3 1060.9 338.6 1082.9 339.0 1065.0 339.3 1047.0 339.6 1028.9 340.0 1010.7 340.3 992.5 340.7 1010.8 341.0 1029.2 341.3 1047.6 341.7 1066.2 342.0 1084.8 342.4 1063.6 342.7 1042.7 343.1 1021.8 343.4 1001.2 343.8 1001.2 344.2 1021.5 344.5 1041.6 344.9 1061.6 345.3 1081.4 345.6 1062.5 346.0 1043.5 346.3 1024.4 346.7 1005.3 347.0 1005.3 347.4 1024.5 347.7 1043.8 348.1 1063.1 348.4 1082.5 348.8 1065.7 349.1 1048.6 349.5 1031.4 349.8 1013.9 350.1 996.1 350.5 1014.1 350.8 1032.3 351.2 1050.8 351.5 1069.4 351.8 1088.4 352.2 1068.0 352.6 1047.9 353.0 1028.0 353.3 1008.2 353.7 1008.2 354.1 1027.5 354.4 1046.7 354.8 1065.6 355.2 1084.4 355.5 1062.8 355.9 1041.0 356.3 1019.1 356.6 997.1 357.0 1019.3 357.3 1041.6 357.7 1064.1 358.1 1086.8 358.4 1065.4 358.8 1044.0 359.1 1022.6 359.5 1001.2 359.8 1001.2 360.2 1022.6 360.5 1044.0 360.9 1065.5 361.2 1086.9 361.6 1063.6 362.0 1040.7 362.4 1018.2 362.7 996.0 363.1 1017.8 363.5 1039.2 363.8 1060.2 364.2 1080.9 364.6 1060.0 364.9 1038.1 365.3 1015.1 365.7 991.1 366.0 1016.1 366.4 1042.2 366.7 1069.4 367.1 1097.5 367.5 1074.1 367.8 1050.5 368.2 1026.8 368.5 1002.9 368.9 1002.9 369.3 1027.2 369.6 1051.6 370.0 1076.2 370.3 1101.0 370.7 1070.0 371.1 1038.6 371.4 1007.0 371.8 975.0 372.1 1007.3 372.5 1039.9 372.8 1072.8 373.2 1106.0 373.5 1073.1 373.8 1045.1 374.1 1022.0 374.4 1040.2 374.7 1053.6 375.0 1062.0 375.2 1050.8 375.5 1036.2 375.8 1018.0 376.1 1039.7 376.4 1064.9 376.7 1093.6 377.1 1068.4 377.4 1043.6 377.8 1019.0 378.2 994.8 378.5 994.7 378.9 1018.4 379.2 1041.8 379.6 1064.9 380.0 1087.7 380.3 1065.6 380.6 1043.9 381.0 1022.7 381.3 1001.9 381.7 1001.8 382.0 1021.7 382.3 1041.3 382.7 1060.4 383.0 1079.1 383.4 1060.3 383.7 1041.4 384.1 1022.2 384.4 1002.9 384.8 1003.0 385.1 1022.6 385.5 1042.4 385.9 1062.3 386.2 1082.4 386.6 1063.9 386.9 1045.3 387.2 1026.5 387.6 1007.7 387.9 1007.7 388.3 1026.8 388.6 1045.9 389.0 1065.2 389.3 1084.6 389.7 1062.8 390.0 1041.3 390.4 1019.9 390.8 998.7 391.1 1019.7 391.5 1040.5 391.9 1061.2 392.2 1081.6 392.6 1064.9 393.0 1047.7 393.3 1030.3 393.7 1012.4 394.0 994.2 394.4 1012.8 394.8 1031.7 395.1 1051.0 395.5 1070.7 395.8 1090.7 396.2 1067.1 396.6 1043.9 396.9 1021.1 397.3 998.6 397.7 1020.7 398.0 1042.5 398.4 1063.8 398.8 1084.8 399.1 1063.9 399.4 1043.1 399.8 1022.4 400.1 1001.9 400.5 1001.9 400.8 1022.1 401.1 1042.2 401.5 1062.1 401.8 1082.0 402.1 1062.3 402.5 1042.6 402.8 1022.8 403.2 1003.0 403.5 1003.0 403.8 1022.9 404.2 1042.9 404.5 1063.0 404.8 1083.1 405.2 1064.2 405.6 1045.3 405.9 1026.3 406.3 1007.3 406.6 1007.4 407.0 1026.4 407.4 1045.6 407.7 1064.8 408.1 1084.0 408.4 1065.8 408.8 1047.6 409.1 1029.3 409.4 1010.9 409.8 992.5 410.1 1011.0 410.4 1029.5 410.8 1048.1 411.1 1066.7 411.5 1085.4 411.8 1061.2 412.2 1037.1 412.5 1013.0 412.9 988.9 413.2 1012.9 413.6 1036.9 413.9 1060.8 414.2 1084.6 414.6 1065.1 414.9 1045.4 415.3 1025.7 415.6 1005.9 416.0 1006.0 416.3 1025.9 416.6 1045.9 417.0 1065.9 417.3 1086.1 417.7 1067.8 418.0 1049.7 418.4 1031.9 418.7 1014.3 419.1 996.8 419.4 1014.1 419.8 1031.1 420.1 1047.8 420.4 1064.4 420.8 1080.8 421.1 1061.0 421.5 1041.2 421.8 1021.4 422.2 1001.5 422.6 1001.5 422.9 1021.4 423.3 1041.4 423.6 1061.4 424.0 1081.4 424.3 1061.1 424.7 1040.9 425.0 1020.6 425.3 1000.2 425.7 1000.2 426.0 1020.6 426.4 1041.0 426.7 1061.5 427.1 1082.0 427.4 1062.8 427.8 1043.5 428.1 1024.1 428.5 1004.6 428.8 1004.7 429.2 1024.3 429.5 1044.0 429.9 1063.8 430.3 1083.7 430.6 1060.9 431.0 1038.4 431.3 1016.0 431.7 993.7 432.0 1015.8 432.4 1037.7 432.7 1059.5 433.1 1081.1 433.4 1064.4 433.8 1047.6 434.1 1030.5 434.5 1013.4 434.8 996.0 435.1 1013.5 435.5 1031.2 435.8 1049.1 436.2 1067.1 436.5 1085.3 436.8 1066.1 437.2 1047.2 437.5 1028.6 437.9 1010.2 438.2 1010.1 438.5 1028.1 438.9 1045.8 439.2 1063.3 439.6 1080.5 439.9 1065.1 440.3 1049.4 440.6 1033.6 441.0 1017.6 441.3 1001.5 441.7 1017.8 442.0 1034.2 442.4 1050.9 442.8 1067.7 443.1 1084.7 443.5 1065.4 443.8 1045.8 444.2 1025.9 444.6 1005.8 444.9 1005.9 445.3 1026.6 445.7 1047.5 446.0 1068.8 446.4 1090.3 446.7 1068.0 447.1 1045.4 447.5 1022.6 447.9 999.5 448.2 999.6 448.6 1023.1 449.0 1046.9 449.3 1070.9 449.7 1095.1 450.0 1066.9 450.4 1037.9 450.8 1008.3 451.1 978.0 451.5 1009.0 451.9 1040.6 452.2 1073.0 452.6 1106.0 452.9 1073.1 453.1 1045.1 453.4 1022.0 453.7 1040.2 453.9 1053.6 454.2 1062.0 454.5 1051.2 454.7 1036.6 455.0 1018.0 455.3 1040.5 455.6 1066.9 455.8 1097.2 456.2 1073.4 456.5 1049.9 456.8 1026.9 457.2 1004.2 457.5 981.9 457.8 1003.8 458.2 1025.4 458.5 1046.7 458.8 1067.5 459.2 1088.0 459.5 1065.1 459.9 1042.5 460.3 1020.1 460.6 997.9 461.0 997.8 461.3 1019.5 461.7 1040.9 462.0 1062.1 462.4 1083.0 462.7 1063.8 463.1 1044.4 463.4 1024.9 463.8 1005.2 464.1 1005.3 464.5 1025.2 464.8 1045.2 465.2 1065.4 465.5 1085.7 465.9 1064.0 466.2 1042.5 466.6 1021.1 467.0 999.9 467.3 999.9 467.7 1020.7 468.1 1041.5 468.4 1062.0 468.8 1082.4 469.2 1062.1 469.5 1041.8 469.8 1021.6 470.2 1001.5 470.5 1001.5 470.8 1021.5 471.2 1041.5 471.5 1061.4 471.9 1081.3 472.2 1062.6 472.6 1043.6 472.9 1024.4 473.2 1004.9 473.6 1005.0 473.9 1025.0 474.3 1045.4 474.6 1066.0 475.0 1086.9 475.3 1062.6 475.7 1038.5 476.1 1014.6 476.5 991.0 476.8 1014.4 477.2 1037.5 477.6 1060.4 478.0 1083.0 478.3 1061.9 478.7 1041.1 479.0 1020.4 479.4 1000.0 479.7 1000.0 480.1 1019.9 480.4 1039.7 480.8 1059.2 481.2 1078.4 481.5 1058.9 481.9 1039.4 482.2 1019.8 482.6 1000.3 483.0 1019.8 483.3 1039.4 483.7 1059.0 484.1 1078.6 484.4 1060.8 484.8 1042.6 485.2 1024.1 485.5 1005.4 485.9 1005.5 486.3 1024.8 486.6 1044.4 487.0 1064.2 487.4 1084.4 487.7 1065.0 488.1 1045.7 488.4 1026.4 488.8 1007.1 489.2 1007.1 489.5 1026.3 489.9 1045.4 490.3 1064.5 490.6 1083.5 491.0 1064.5 491.3 1045.4 491.7 1026.2 492.1 1007.0 492.4 1007.0 492.8 1026.4 493.1 1045.8 493.5 1065.3 493.9 1084.9 494.2 1064.7 494.6 1044.5 495.0 1024.2 495.3 1003.8 495.7 1003.8 496.0 1024.4 496.4 1045.0 496.8 1065.8 497.1 1086.6 497.5 1066.7 497.8 1046.1 498.1 1024.8 498.5 1002.9 498.8 1003.1 499.1 1026.3 499.5 1050.2 499.8 1074.8 500.1 1100.1 500.5 1071.0 500.9 1041.8 501.3 1012.6 501.6 983.3 502.0 1012.6 502.4 1042.1 502.8 1071.5 503.1 1101.1 503.5 1074.5 503.8 1047.6 504.2 1020.6 504.5 993.4 504.8 966.0 505.2 993.6 505.5 1021.4 505.8 1049.4 506.2 1077.6 506.5 1106.0 506.8 1073.1 507.0 1045.1 507.3 1022.0 507.6 1040.2 507.8 1053.6 508.1 1062.0 508.3 1050.2 508.6 1035.5 508.9 1018.0 509.1 1038.4 509.4 1061.7 509.6 1087.8 510.0 1061.8 510.3 1036.3 510.7 1011.3 511.0 986.7 511.4 1010.8 511.7 1034.4 512.0 1057.5 512.4 1080.1 512.7 1060.1 513.1 1039.8 513.4 1019.0 513.8 997.9 514.1 998.0 514.4 1019.9 514.8 1042.2 515.1 1064.9 515.5 1088.0 515.8 1067.3 516.1 1046.8 516.5 1026.6 516.8 1006.7 517.1 1006.7 517.5 1026.0 517.8 1045.0 518.1 1063.7 518.5 1082.2 518.8 1063.8 519.2 1045.2 519.5 1026.4 519.9 1007.4 520.2 1007.4 520.6 1026.8 521.0 1046.4 521.3 1066.1 521.7 1086.1 522.0 1063.4 522.4 1040.3 522.7 1016.7 523.1 992.8 523.4 1017.2 523.8 1042.0 524.1 1067.3 524.5 1093.0 524.8 1069.8 525.2 1046.4 525.5 1022.7 525.9 998.8 526.2 998.9 526.6 1023.3 526.9 1047.8 527.3 1072.6 527.6 1097.7 528.0 1069.6 528.3 1041.1 528.6 1012.2 529.0 982.8 529.3 982.9 529.6 1013.1 530.0 1043.6 530.3 1074.6 530.7 1106.0 530.9 1073.1 531.2 1045.1 531.4 1022.0 531.7 1040.2 532.0 1053.6 532.2 1062.0 532.5 1051.2 532.8 1036.6 533.0 1018.0 533.3 1040.5 533.6 1066.9 533.8 1097.2 534.2 1073.3 534.5 1049.6 534.9 1026.3 535.2 1003.2 535.6 980.5 535.9 1003.0 536.3 1025.2 536.6 1047.1 537.0 1068.8 537.3 1090.2 537.7 1070.5 538.0 1051.0 538.4 1031.4 538.7 1011.9 539.0 992.5 539.4 1011.9 539.7 1031.3 540.0 1050.6 540.4 1069.8 540.7 1089.1 541.1 1068.2 541.4 1047.4 541.8 1026.9 542.1 1006.7 542.5 1006.6 542.8 1026.5 543.2 1046.1 543.5 1065.6 543.9 1084.8 544.2 1065.9 544.5 1047.2 544.9 1028.6 545.2 1010.1 545.5 991.8 545.9 1010.0 546.2 1028.0 546.5 1045.9 546.9 1063.7 547.2 1081.3 547.5 1064.4 547.9 1047.3 548.2 1030.1 548.6 1012.8 548.9 995.3 549.3 1012.9 549.6 1030.6 550.0 1048.4 550.3 1066.4 550.6 1084.5 551.0 1065.7 551.3 1046.8 551.7 1027.8 552.0 1008.8 552.4 989.6 552.7 1008.9 553.1 1028.2 553.4 1047.6 553.8 1067.1 554.1 1086.7 554.5 1065.0 554.9 1043.4 555.2 1021.9 555.6 1000.5 555.9 1000.5 556.3 1021.7 556.6 1042.8 557.0 1063.9 557.3 1084.8 557.7 1063.4 558.1 1042.2 558.4 1021.1 558.8 1000.3 559.2 1000.2 559.5 1020.7 559.9 1041.0 560.2 1061.0 560.6 1080.9 561.0 1060.4 561.3 1039.7 561.6 1018.8 562.0 997.9 562.3 997.9 562.7 1019.1 563.0 1040.4 563.4 1061.9 563.7 1083.5 564.1 1064.0 564.4 1044.6 564.8 1025.2 565.2 1005.9 565.5 1005.9 565.9 1025.1 566.3 1044.2 566.6 1063.3 567.0 1082.4 567.3 1063.2 567.7 1044.0 568.0 1024.7 568.4 1005.4 568.8 1005.4 569.1 1024.9 569.5 1044.5 569.8 1064.1 570.2 1083.9 570.5 1065.8 570.9 1047.8 571.2 1029.9 571.6 1012.2 571.9 994.5 572.2 1012.0 572.6 1029.4 572.9 1046.7 573.3 1063.8 573.6 1080.9 574.0 1060.9 574.3 1040.8 574.7 1020.6 575.1 1000.4 575.4 1000.4 575.8 1020.8 576.2 1041.2 576.5 1061.6 576.9 1082.2 577.3 1064.9 577.6 1047.6 578.0 1030.2 578.3 1012.7 578.7 995.2 579.0 1012.8 579.4 1030.4 579.7 1048.2 580.1 1066.0 580.4 1083.8 580.8 1063.1 581.1 1042.5 581.5 1022.3 581.9 1002.2 582.2 1002.2 582.6 1021.7 582.9 1041.0 583.3 1060.1 583.7 1078.9 584.0 1060.7 584.4 1042.2 584.7 1023.3 585.0 1004.1 585.4 1004.2 585.7 1024.1 586.1 1044.3 586.4 1065.0 586.7 1085.9 587.1 1066.7 587.4 1046.9 587.8 1026.7 588.1 1005.9 588.5 984.6 588.8 1006.4 589.2 1028.8 589.5 1051.7 589.9 1075.1 590.2 1099.0 590.6 1074.3 590.9 1049.2 591.3 1023.8 591.6 998.0 592.0 998.1 592.3 1024.6 592.7 1051.4 593.0 1078.5 593.4 1106.0 593.6 1073.1 593.9 1045.1 594.1 1022.0 594.4 1040.2 594.6 1053.6 594.8 1062.0 595.1 1050.9 595.3 1036.2 595.6 1018.0 595.8 1039.8 596.1 1065.2 596.3 1094.1 596.7 1065.5 597.1 1037.5 597.4 1010.0 597.8 983.2 598.2 1009.4 598.6 1035.1 598.9 1060.3 599.3 1084.8 599.7 1062.3 600.0 1039.7 600.4 1016.9 600.7 993.9 601.1 994.0 601.5 1017.2 601.8 1040.6 602.2 1064.2 602.5 1087.9 602.9 1067.3 603.3 1046.6 603.6 1025.6 604.0 1004.5 604.4 1004.6 604.7 1026.1 605.1 1047.8 605.5 1069.7 605.8 1091.7 606.2 1069.4 606.5 1047.5 606.8 1026.0 607.2 1005.0 607.5 1004.9 607.9 1025.0 608.2 1044.7 608.5 1064.0 608.9 1082.9 609.2 1062.5 609.6 1042.0 609.9 1021.6 610.2 1001.1 610.6 1001.1 610.9 1021.6 611.3 1042.2 611.6 1062.8 611.9 1083.4 612.3 1064.8 612.6 1045.9 613.0 1026.6 613.4 1006.9 613.7 1007.0 614.1 1027.4 614.4 1048.2 614.8 1069.4 615.1 1090.9 615.5 1068.8 615.8 1047.1 616.1 1025.9 616.5 1005.0 616.8 1004.9 617.2 1024.9 617.5 1044.6 617.8 1063.8 618.2 1082.6 618.5 1063.5 618.9 1044.1 619.2 1024.5 619.6 1004.5 619.9 984.3 620.2 1004.8 620.6 1025.6 620.9 1046.7 621.3 1068.2 621.6 1089.9 622.0 1068.3 622.3 1046.2 622.6 1023.6 623.0 1000.5 623.3 1000.7 623.6 1024.7 624.0 1049.3 624.3 1074.4 624.7 1100.0 625.0 1075.5 625.4 1050.7 625.7 1025.7 626.1 1000.5 626.4 975.0 626.8 1000.7 627.2 1026.7 627.5 1052.9 627.9 1079.3 628.2 1106.0 628.5 1073.1 628.8 1045.1 629.0 1022.0 629.3 1040.2 629.6 1053.6 629.8 1062.0 630.1 1050.9 630.4 1036.2 630.7 1018.0 630.9 1039.7 631.2 1064.9 631.5 1093.7 631.8 1071.2 632.2 1049.0 632.5 1027.1 632.8 1005.5 633.2 984.1 633.5 1005.2 633.9 1026.0 634.2 1046.5 634.6 1066.7 634.9 1086.6 635.3 1067.0 635.6 1047.6 635.9 1028.5 636.3 1009.5 636.6 990.8 637.0 1009.3 637.3 1027.6 637.7 1045.6 638.0 1063.5 638.4 1081.1 638.7 1061.6 639.0 1041.9 639.4 1022.1 639.7 1002.1 640.1 1002.1 640.4 1022.5 640.7 1043.1 641.1 1063.8 641.4 1084.7 641.8 1059.8 642.2 1034.9 642.5 1010.0 642.9 1010.0 643.3 1034.8 643.7 1059.6 644.1 1084.3 644.4 1064.9 644.8 1045.6 645.1 1026.3 645.5 1007.2 645.8 1007.2 646.2 1026.1 646.5 1044.9 646.9 1063.7 647.2 1082.3 647.6 1061.3 648.0 1040.0 648.3 1018.4 648.7 996.4 649.0 996.5 649.4 1019.0 649.8 1041.9 650.1 1065.1 650.5 1088.5 650.9 1067.7 651.2 1047.5 651.6 1027.9 652.0 1008.9 652.3 1008.8 652.7 1026.6 653.1 1043.8 653.4 1060.4 653.8 1076.4 654.1 1059.9 654.5 1043.0 654.8 1025.7 655.2 1008.0 655.5 989.9 655.9 1008.4 656.2 1027.2 656.6 1046.4 656.9 1065.9 657.3 1085.9 657.6 1064.9 658.0 1044.2 658.4 1023.9 658.7 1003.9 659.1 1003.8 659.5 1023.1 659.9 1041.9 660.2 1060.4 660.6 1078.5 660.9 1060.4 661.3 1042.0 661.6 1023.3 662.0 1004.3 662.4 1004.4 662.7 1023.9 663.1 1043.7 663.4 1063.7 663.8 1084.0 664.1 1063.9 664.5 1043.6 664.9 1023.3 665.2 1002.7 665.6 1002.8 666.0 1023.5 666.3 1044.4 666.7 1065.4 667.0 1086.6 667.4 1066.0 667.8 1045.1 668.1 1023.7 668.5 1002.0 668.9 1002.1 669.2 1024.6 669.6 1047.6 670.0 1070.9 670.3 1094.6 670.7 1071.4 671.0 1047.8 671.4 1023.6 671.8 999.0 672.1 999.1 672.5 1024.7 672.8 1050.7 673.2 1077.2 673.5 1104.2 673.9 1074.1 674.2 1043.9 674.6 1013.6 674.9 983.2 675.3 983.2 675.6 1013.8 675.9 1044.4 676.3 1075.2 676.6 1106.0 676.9 1073.1 677.2 1045.1 677.4 1022.0 677.7 1040.2 678.0 1053.6 678.2 1062.0 678.5 1050.8 678.7 1036.1 679.0 1018.0 679.3 1039.6 679.5 1064.6 679.8 1093.2 680.2 1067.4 680.5 1042.2 680.8 1017.5 681.2 993.4 681.5 993.3 681.9 1016.3 682.2 1038.7 682.6 1060.6 682.9 1081.9 683.3 1062.8 683.6 1043.3 684.0 1023.6 684.3 1003.5 684.7 1003.6 685.1 1024.2 685.4 1045.1 685.8 1066.3 686.1 1087.8 686.5 1066.3 686.8 1045.2 687.2 1024.3 687.5 1003.8 687.9 1003.7 688.2 1023.6 688.5 1043.2 688.9 1062.4 689.2 1081.4 689.6 1060.2 689.9 1038.8 690.3 1017.3 690.6 995.5 691.0 1017.4 691.3 1039.5 691.6 1061.7 692.0 1084.1 692.3 1063.7 692.7 1043.3 693.1 1022.9 693.4 1002.5 693.8 1002.5 694.2 1022.9 694.5 1043.4 694.9 1063.8 695.3 1084.3 695.6 1066.5 696.0 1048.7 696.3 1030.9 696.7 1013.1 697.0 995.2 697.4 1013.1 697.7 1031.0 698.1 1048.8 698.4 1066.7 698.8 1084.6 699.1 1063.8 699.5 1043.0 699.9 1022.3 700.2 1001.6 700.6 1001.6 700.9 1022.1 701.3 1042.4 701.7 1062.7 702.0 1082.9 702.4 1062.5 702.7 1042.1 703.1 1021.7 703.4 1001.4 703.8 1001.3 704.1 1021.7 704.5 1042.1 704.8 1062.5 705.2 1082.9 705.5 1064.0 705.9 1044.9 706.2 1025.7 706.6 1006.4 707.0 1006.4 707.3 1026.1 707.7 1045.9 708.0 1065.8 708.4 1086.0 708.7 1066.4 709.0 1046.9 709.4 1027.7 709.7 1008.6 710.1 1008.5 710.4 1027.3 710.8 1045.9 711.1 1064.4 711.5 1082.7 711.8 1065.6 712.1 1048.4 712.5 1031.1 712.8 1013.7 713.2 996.1 713.5 1013.8 713.9 1031.6 714.2 1049.6 714.6 1067.6 714.9 1085.8 715.2 1065.0 715.6 1044.2 715.9 1023.6 716.3 1003.2 716.6 1003.2 717.0 1023.3 717.3 1043.3 717.7 1063.2 718.0 1082.9 718.4 1061.7 718.7 1040.6 719.1 1019.8 719.4 999.1 719.8 999.0 720.2 1019.4 720.5 1039.6 720.9 1059.6 721.2 1079.4 721.6 1058.5 722.0 1037.4 722.3 1016.1 722.7 994.6 723.1 1016.3 723.4 1038.3 723.8 1060.4 724.2 1082.8 724.5 1061.3 724.9 1039.4 725.3 1017.1 725.6 994.4 726.0 1017.6 726.4 1041.1 726.8 1065.1 727.1 1089.5 727.5 1065.5 727.8 1042.0 728.2 1019.0 728.6 996.6 728.9 1018.5 729.3 1039.8 729.6 1060.7 730.0 1080.9 730.4 1060.6 730.7 1040.4 731.1 1020.3 731.5 1000.4 731.8 1020.2 732.2 1039.8 732.6 1059.3 732.9 1078.7 733.3 1059.9 733.6 1041.0 734.0 1022.1 734.3 1003.0 734.6 1003.0 735.0 1022.3 735.3 1041.8 735.7 1061.3 736.0 1081.0 736.4 1064.6 736.7 1047.9 737.1 1030.8 737.4 1013.3 737.7 995.4 738.1 1013.7 738.4 1032.2 738.8 1051.2 739.1 1070.5 739.5 1090.1 739.8 1066.4 740.2 1042.3 740.5 1017.8 740.9 993.0 741.2 993.1 741.6 1018.6 741.9 1044.4 742.3 1070.6 742.6 1097.1 743.0 1072.4 743.3 1047.3 743.6 1021.9 744.0 996.1 744.3 970.0 744.6 996.5 745.0 1023.3 745.3 1050.5 745.7 1078.1 746.0 1106.0 746.3 1073.1 746.5 1045.1 746.8 1022.0 747.1 1040.2 747.3 1053.6 747.6 1062.0 747.9 1051.1 748.2 1036.4 748.4 1018.0 748.7 1040.1 749.0 1065.9 749.2 1095.5 749.6 1069.4 749.9 1043.6 750.3 1018.1 750.6 992.8 751.0 992.8 751.3 1017.5 751.6 1042.0 752.0 1066.3 752.3 1090.3 752.7 1067.1 753.0 1044.2 753.4 1021.8 753.7 999.8 754.1 999.7 754.4 1020.9 754.8 1041.8 755.1 1062.3 755.5 1082.4 755.8 1065.0 756.2 1047.5 756.5 1030.0 756.9 1012.5 757.2 994.9 757.6 1012.5 757.9 1030.1 758.3 1047.7 758.6 1065.3 759.0 1082.9 759.4 1062.2 759.7 1041.1 760.1 1019.8 760.5 998.3 760.8 998.3 761.2 1020.4 761.6 1042.8 761.9 1065.5 762.3 1088.4 762.7 1065.8 763.1 1043.4 763.4 1021.2 763.8 999.2 764.2 1021.0 764.6 1042.7 764.9 1064.2 765.3 1085.5 765.7 1063.8 766.0 1041.5 766.4 1018.6 766.7 995.2 767.1 995.3 767.5 1019.9 767.8 1045.0 768.2 1070.6 768.5 1096.8 768.9 1071.8 769.2 1046.4 769.5 1020.6 769.9 994.5 770.2 968.0 770.5 994.9 770.9 1022.1 771.2 1049.7 771.5 1077.7 771.9 1106.0 772.1 1073.1 772.4 1045.1 772.7 1022.0 773.0 1040.2 773.3 1053.6 773.5 1062.0 773.8 1050.7 774.1 1036.1 774.4 1018.0 774.6 1039.5 774.9 1064.3 775.2 1092.6 775.5 1071.0 775.9 1049.9 776.2 1029.4 776.5 1009.3 776.9 989.8 777.2 1008.8 777.6 1027.3 777.9 1045.2 778.2 1062.7 778.6 1079.6 778.9 1060.9 779.3 1042.2 779.6 1023.5 780.0 1004.9 780.3 1004.9 780.7 1023.5 781.1 1042.1 781.4 1060.7 781.8 1079.3 782.1 1060.9 782.5 1042.7 782.8 1024.6 783.2 1006.6 783.6 1006.6 783.9 1024.3 784.3 1041.9 784.6 1059.4 785.0 1076.8 785.3 1060.5 785.7 1043.9 786.0 1027.1 786.3 1010.0 786.7 992.5 787.0 1010.2 787.4 1028.2 787.7 1046.5 788.0 1065.1 788.4 1084.0 788.7 1063.1 789.1 1042.3 789.4 1021.5 789.8 1000.9 790.1 1000.9 790.5 1021.3 790.8 1041.7 791.2 1062.0 791.6 1082.3 791.9 1061.5 792.3 1040.2 792.7 1018.5 793.0 996.2 793.4 1019.0 793.8 1042.2 794.2 1066.0 794.5 1090.3 794.9 1067.2 795.3 1043.8 795.6 1020.0 796.0 995.8 796.3 995.9 796.7 1020.8 797.1 1046.0 797.4 1071.6 797.8 1097.6 798.1 1074.7 798.5 1051.6 798.8 1028.0 799.2 1004.2 799.5 980.0 799.9 1004.5 800.2 1029.4 800.5 1054.6 800.9 1080.1 801.2 1106.0 801.5 1073.1 801.7 1045.1 802.0 1022.0 802.2 1040.2 802.5 1053.6 802.7 1062.0 803.0 1050.6 803.2 1035.9 803.4 1018.0 803.7 1039.1 803.9 1063.5 804.2 1091.1 804.5 1067.0 804.9 1043.0 805.2 1019.1 805.6 995.4 805.9 995.4 806.3 1018.8 806.6 1042.0 807.0 1065.2 807.3 1088.1 807.7 1065.4 808.0 1042.8 808.3 1020.4 808.7 998.1 809.0 998.1 809.3 1020.1 809.7 1041.9 810.0 1063.6 810.3 1085.2 810.7 1064.4 811.0 1043.6 811.4 1022.8 811.8 1001.9 812.1 1001.9 812.5 1022.9 812.9 1043.9 813.2 1065.0 813.6 1086.1 813.9 1067.7 814.3 1049.3 814.6 1031.0 814.9 1012.8 815.3 994.6 815.6 1012.7 815.9 1030.7" fill="none" stroke="#1e0aa8" stroke-width="1.35" stroke-linejoin="round"/>
<path d="M909.1 1025.5 909.5 1005.1 909.8 985.0 910.2 1004.9 910.6 1024.6 910.9 1044.1 911.3 1063.4 911.6 1082.5 912.0 1063.8 912.3 1044.9 912.6 1025.9 913.0 1006.5 913.3 987.0 913.6 987.1 914.0 1007.0 914.3 1027.2 914.6 1047.6 915.0 1068.2 915.3 1089.0 915.6 1064.1 916.0 1039.8 916.3 1016.1 916.7 992.9 917.0 992.8 917.4 1014.8 917.7 1036.2 918.0 1057.1 918.4 1077.4 918.7 1059.9 919.0 1041.8 919.4 1023.1 919.7 1003.8 920.1 984.0 920.4 1004.4 920.7 1025.5 921.1 1047.1 921.4 1069.3 921.7 1092.1 922.1 1068.8 922.4 1045.7 922.7 1023.0 923.1 1000.5 923.4 978.4 923.8 1000.2 924.1 1021.8 924.4 1043.1 924.8 1064.1 925.1 1084.8 925.5 1064.9 925.8 1045.0 926.2 1025.2 926.5 1005.5 926.9 985.8 927.2 1005.5 927.6 1025.1 927.9 1044.6 928.3 1064.1 928.6 1083.6 929.0 1063.7 929.3 1043.9 929.7 1024.1 930.0 1004.3 930.4 984.6 930.7 1004.3 931.1 1023.9 931.4 1043.5 931.8 1063.1 932.1 1082.6 932.5 1060.1 932.8 1037.6 933.2 1015.2 933.6 992.7 933.9 992.7 934.3 1015.1 934.6 1037.5 935.0 1059.8 935.4 1082.1 935.7 1060.1 936.1 1037.9 936.4 1015.3 936.8 992.4 937.2 992.5 937.5 1016.0 937.9 1039.8 938.2 1063.9 938.6 1088.3 938.9 1065.1 939.3 1042.2 939.6 1019.6 940.0 997.5 940.3 975.6 940.7 997.1 941.0 1018.3 941.4 1039.0 941.7 1059.5 942.1 1079.6 942.4 1058.0 942.8 1036.0 943.2 1013.8 943.5 991.2 943.9 991.3 944.2 1014.4 944.6 1037.9 945.0 1061.7 945.3 1085.8 945.7 1063.0 946.1 1040.0 946.4 1016.7 946.8 993.0 947.2 993.1 947.5 1017.4 947.9 1042.0 948.3 1067.0 948.6 1092.3 949.0 1067.6 949.4 1043.0 949.7 1018.6 950.1 994.4 950.4 994.4 950.8 1018.2 951.2 1041.9 951.5 1065.5 951.9 1088.8 952.2 1066.9 952.6 1045.0 952.9 1023.2 953.3 1001.4 953.6 979.7 953.9 1001.4 954.3 1023.0 954.6 1044.5 955.0 1066.0 955.3 1087.5 955.7 1064.2 956.1 1041.2 956.4 1018.3 956.8 995.6 957.2 995.6 957.5 1017.9 957.9 1040.0 958.3 1061.9 958.6 1083.6 959.0 1059.6 959.4 1035.4 959.7 1011.1 960.1 986.6 960.5 986.6 960.8 1011.4 961.2 1036.4 961.5 1061.5 961.9 1086.8 962.3 1065.8 962.6 1044.6 962.9 1023.4 963.3 1002.0 963.6 980.5 964.0 1002.1 964.3 1023.9 964.7 1045.8 965.0 1067.8 965.4 1089.9 965.7 1067.9 966.1 1045.9 966.4 1023.8 966.8 1001.8 967.1 979.8 967.5 1001.8 967.9 1023.8 968.2 1045.8 968.6 1067.7 968.9 1089.7 969.2 1070.6 969.6 1051.6 969.9 1032.8 970.3 1014.1 970.6 995.5 970.9 995.5 971.3 1013.8 971.6 1032.0 971.9 1050.0 972.3 1068.0 972.6 1085.7 972.9 1066.4 973.3 1047.3 973.7 1028.4 974.0 1009.6 974.4 991.0 974.7 1009.4 975.1 1027.7 975.4 1045.8 975.8 1063.6 976.2 1081.4 976.5 1062.4 976.8 1043.2 977.2 1023.8 977.5 1004.2 977.8 984.4 978.2 1004.4 978.5 1024.6 978.8 1045.0 979.2 1065.7 979.5 1086.5 979.8 1061.7 980.2 1037.4 980.5 1013.5 980.9 990.0 981.2 989.9 981.5 1012.5 981.9 1034.6 982.2 1056.2 982.5 1077.5 982.9 1057.7 983.2 1037.7 983.6 1017.4 983.9 996.8 984.3 975.9 984.6 997.1 985.0 1018.6 985.3 1040.3 985.6 1062.4 986.0 1084.8 986.4 1061.9 986.7 1038.9 987.1 1015.9 987.5 992.8 987.8 992.8 988.2 1016.0 988.6 1039.3 988.9 1062.6 989.3 1085.9 989.6 1065.7 990.0 1045.6 990.3 1025.8 990.7 1006.3 991.0 986.9 991.4 1006.0 991.7 1024.9 992.1 1043.6 992.4 1062.1 992.8 1080.3 993.1 1060.4 993.5 1040.1 993.8 1019.6 994.2 998.8 994.5 977.6 994.8 999.1 995.2 1020.8 995.5 1042.9 995.9 1065.2 996.2 1087.9 996.6 1067.3 996.9 1046.6 997.3 1026.0 997.6 1005.3 997.9 984.7 998.3 1005.3 998.6 1026.1 999.0 1046.8 999.3 1067.5 999.6 1088.2 1000.0 1067.5 1000.3 1046.8 1000.7 1026.2 1001.0 1005.6 1001.4 985.1 1001.7 1005.6 1002.1 1026.0 1002.4 1046.3 1002.8 1066.6 1003.1 1086.8 1003.5 1060.2 1003.9 1033.3 1004.2 1006.3 1004.6 979.1 1005.0 1006.5 1005.4 1034.0 1005.7 1061.8 1006.1 1089.7 1006.5 1066.7 1006.8 1043.8 1007.1 1021.0 1007.5 998.4 1007.8 976.0 1008.2 998.3 1008.5 1020.4 1008.9 1042.5 1009.2 1064.4 1009.6 1086.1 1009.9 1063.0 1010.3 1039.8 1010.7 1016.4 1011.0 992.9 1011.4 992.9 1011.7 1016.7 1012.1 1040.7 1012.5 1064.7 1012.8 1089.0 1013.2 1066.0 1013.5 1043.3 1013.9 1020.7 1014.2 998.4 1014.6 976.3 1014.9 998.2 1015.3 1019.9 1015.6 1041.5 1016.0 1062.8 1016.3 1083.9 1016.7 1063.0 1017.0 1042.1 1017.3 1021.1 1017.7 1000.1 1018.0 978.9 1018.4 1000.1 1018.7 1021.4 1019.0 1042.8 1019.4 1064.2 1019.7 1085.7 1020.1 1059.0 1020.4 1032.4 1020.8 1005.9 1021.2 979.4 1021.5 1005.8 1021.9 1032.1 1022.2 1058.3 1022.6 1084.4 1023.0 1061.4 1023.3 1038.4 1023.7 1015.3 1024.0 992.2 1024.4 992.2 1024.8 1015.4 1025.1 1038.5 1025.5 1061.7 1025.8 1084.9 1026.2 1065.8 1026.5 1046.4 1026.8 1026.6 1027.2 1006.5 1027.5 986.1 1027.8 1006.9 1028.2 1028.0 1028.5 1049.4 1028.8 1071.2 1029.2 1093.3 1029.5 1067.8 1029.9 1043.0 1030.3 1018.9 1030.6 995.6 1031.0 995.4 1031.4 1017.3 1031.7 1038.5 1032.1 1058.9 1032.5 1078.7 1032.8 1058.7 1033.2 1038.1 1033.6 1016.9 1033.9 995.1 1034.3 995.3 1034.7 1018.2 1035.0 1041.7 1035.4 1065.7 1035.8 1090.3 1036.1 1069.0 1036.5 1047.8 1036.8 1026.7 1037.2 1005.6 1037.6 984.6 1037.9 1005.6 1038.3 1026.4 1038.7 1047.2 1039.0 1067.9 1039.4 1088.5 1039.7 1065.6 1040.0 1043.1 1040.4 1021.0 1040.7 999.2 1041.0 977.8 1041.4 998.8 1041.7 1019.5 1042.0 1039.7 1042.4 1059.6 1042.7 1079.1 1043.1 1060.3 1043.4 1040.8 1043.8 1020.7 1044.1 1000.0 1044.5 978.5 1044.8 1000.6 1045.2 1023.3 1045.5 1046.7 1045.9 1070.8 1046.2 1095.4 1046.6 1071.8 1046.9 1048.5 1047.3 1025.7 1047.6 1003.3 1047.9 981.3 1048.3 1002.8 1048.6 1023.9 1049.0 1044.6 1049.3 1064.8 1049.7 1084.6 1050.0 1061.9 1050.4 1038.9 1050.7 1015.6 1051.1 991.9 1051.5 991.9 1051.8 1016.3 1052.2 1041.1 1052.5 1066.2 1052.9 1091.6 1053.2 1065.4 1053.6 1039.9 1053.9 1014.9 1054.2 990.4 1054.6 990.3 1054.9 1013.6 1055.2 1036.3 1055.6 1058.4 1055.9 1079.9 1056.3 1058.1 1056.6 1036.1 1057.0 1013.7 1057.4 991.0 1057.7 991.1 1058.1 1014.4 1058.5 1038.0 1058.9 1061.8 1059.2 1086.0 1059.6 1065.8 1059.9 1045.5 1060.3 1025.3 1060.6 1005.0 1061.0 984.6 1061.3 1005.0 1061.7 1025.3 1062.0 1045.7 1062.3 1066.1 1062.7 1086.5 1063.1 1062.7 1063.4 1039.4 1063.8 1016.5 1064.1 994.2 1064.5 994.1 1064.9 1015.4 1065.2 1036.3 1065.6 1056.7 1066.0 1076.5 1066.3 1056.8 1066.7 1036.6 1067.0 1016.1 1067.4 995.1 1067.7 995.2 1068.1 1017.0 1068.5 1039.1 1068.8 1061.6 1069.2 1084.6 1069.5 1061.9 1069.9 1039.0 1070.2 1015.9 1070.5 992.5 1070.9 992.6 1071.2 1016.4 1071.6 1040.5 1071.9 1064.7 1072.3 1089.2 1072.6 1065.6 1073.0 1042.0 1073.3 1018.5 1073.7 995.0 1074.0 995.0 1074.3 1018.4 1074.7 1041.8 1075.0 1065.1 1075.4 1088.3 1075.7 1066.9 1076.1 1045.7 1076.4 1024.6 1076.8 1003.7 1077.1 982.9 1077.4 1003.5 1077.8 1023.9 1078.1 1044.2 1078.5 1064.3 1078.8 1084.2 1079.2 1062.9 1079.5 1041.6 1079.9 1020.3 1080.2 998.9 1080.5 977.4 1080.9 998.9 1081.2 1020.4 1081.6 1042.0 1081.9 1063.6 1082.3 1085.2 1082.6 1063.3 1083.0 1041.6 1083.3 1020.1 1083.7 998.7 1084.1 977.5 1084.4 998.5 1084.8 1019.4 1085.1 1040.1 1085.5 1060.6 1085.9 1081.0 1086.2 1058.6 1086.6 1036.0 1087.0 1013.2 1087.3 990.1 1087.7 990.1 1088.0 1013.8 1088.4 1037.7 1088.8 1061.8 1089.1 1086.2 1089.5 1065.7 1089.8 1045.1 1090.1 1024.5 1090.5 1003.9 1090.8 983.3 1091.2 1003.9 1091.5 1024.5 1091.8 1045.1 1092.2 1065.7 1092.5 1086.4 1092.8 1063.1 1093.2 1039.7 1093.5 1016.2 1093.9 992.7 1094.2 992.7 1094.5 1016.5 1094.9 1040.3 1095.2 1064.3 1095.6 1088.3 1095.9 1067.1 1096.3 1046.1 1096.6 1025.4 1097.0 1004.9 1097.3 984.7 1097.7 1004.6 1098.0 1024.3 1098.4 1043.7 1098.8 1062.9 1099.1 1081.7 1099.5 1061.9 1099.8 1042.4 1100.0 1080.1 1102.5 983.2 1104.2 1085.0 1105.8 989.4 1107.6 1077.3 1109.3 990.8 1110.8 1087.7 1112.7 956.2 1114.3 1060.7 1115.9 966.6 1118.0 1078.0 1119.7 981.8 1121.5 1084.3 1122.8 979.1 1124.6 1081.5 1126.0 965.9 1128.1 1064.2 1129.5 962.5 1131.1 1076.6 1132.9 975.6 1134.9 1084.9 1136.4 977.0 1138.1 1084.9 1139.4 979.8 1139.7 1015.5 1140.1 992.4 1140.4 992.3 1140.8 1015.3 1141.1 1038.2 1141.5 1061.0 1141.8 1083.7 1142.2 1063.6 1142.5 1043.4 1142.8 1023.0 1143.2 1002.5 1143.5 981.9 1143.9 1002.7 1144.2 1023.6 1144.5 1044.6 1144.9 1065.8 1145.2 1087.2 1145.6 1067.0 1145.9 1047.0 1146.2 1027.0 1146.6 1007.1 1146.9 987.3 1147.3 1007.0 1147.6 1026.7 1148.0 1046.3 1148.3 1065.8 1148.7 1085.2 1149.0 1062.6 1149.4 1039.9 1149.7 1017.3 1150.1 994.8 1150.5 994.8 1150.8 1017.2 1151.2 1039.6 1151.5 1061.9 1151.9 1084.1 1152.2 1065.2 1152.6 1046.2 1152.9 1027.2 1153.3 1008.3 1153.6 989.4 1153.9 1008.3 1154.3 1027.2 1154.6 1046.1 1155.0 1065.0 1155.3 1083.8 1155.7 1063.0 1156.0 1042.0 1156.3 1020.9 1156.7 999.7 1157.0 978.5 1157.3 999.8 1157.7 1021.3 1158.0 1042.8 1158.3 1064.5 1158.7 1086.2 1159.0 1063.9 1159.4 1041.9 1159.7 1020.3 1160.1 998.9 1160.5 998.9 1160.8 1019.6 1161.2 1039.9 1161.5 1060.0 1161.9 1079.7 1162.3 1060.4 1162.6 1040.6 1163.0 1020.6 1163.3 1000.1 1163.7 1000.2 1164.1 1021.4 1164.4 1043.0 1164.8 1065.0 1165.1 1087.3 1165.5 1066.8 1165.8 1046.4 1166.2 1026.1 1166.6 1006.0 1166.9 986.1 1167.3 1005.9 1167.6 1025.5 1168.0 1045.0 1168.3 1064.4 1168.7 1083.6 1169.0 1060.9 1169.4 1038.1 1169.8 1015.5 1170.1 992.8 1170.5 992.8 1170.9 1015.4 1171.2 1037.9 1171.6 1060.5 1172.0 1083.0 1172.3 1060.5 1172.7 1038.2 1173.0 1016.2 1173.4 994.3 1173.7 972.7 1174.1 994.1 1174.4 1015.3 1174.8 1036.3 1175.1 1057.1 1175.5 1077.7 1175.8 1059.0 1176.1 1039.8 1176.5 1020.2 1176.8 1000.1 1177.2 979.7 1177.5 1000.5 1177.8 1021.8 1178.2 1043.5 1178.5 1065.7 1178.9 1088.2 1179.2 1063.0 1179.6 1038.3 1180.0 1014.2 1180.3 990.6 1180.7 990.4 1181.1 1013.0 1181.4 1034.9 1181.8 1056.4 1182.2 1077.3 1182.5 1059.1 1182.9 1040.5 1183.2 1021.5 1183.6 1002.1 1184.0 982.3 1184.3 1002.5 1184.7 1023.2 1185.0 1090.1 1187.8 986.3 1189.4 1092.9 1191.2 994.6 1193.0 1090.1 1195.0 985.6 1196.8 1086.6 1198.4 979.4 1199.5 1026.4 1200.2 993.2 1201.3 1108.1 1202.6 972.5 1203.7 1115.0 1204.7 1012.6 1205.8 1063.8 1206.9 1020.9 1208.3 969.0 1209.9 1093.6 1211.3 987.0 1213.0 1093.6 1214.1 978.7 1215.4 1081.8 1217.1 992.5 1218.6 1084.6 1220.0 985.6 1221.7 1086.0 1223.1 980.1 1224.7 1084.6 1225.0 983.0 1225.3 1003.1 1225.6 1023.2 1226.0 1043.3 1226.3 1063.4 1226.7 1083.6 1227.0 1063.0 1227.3 1042.4 1227.7 1021.7 1228.0 1001.0 1228.4 1001.0 1228.7 1021.9 1229.0 1042.9 1229.4 1063.9 1229.7 1085.0 1230.1 1064.3 1230.4 1043.5 1230.8 1022.7 1231.2 1001.9 1231.5 981.1 1231.9 1001.9 1232.2 1022.7 1232.6 1043.5 1232.9 1064.3 1233.3 1085.1 1233.6 1063.6 1234.0 1042.1 1234.3 1020.4 1234.6 998.7 1235.0 976.9 1235.3 998.8 1235.6 1020.8 1236.0 1042.9 1236.3 1065.1 1236.6 1087.3 1237.0 1066.9 1237.3 1046.4 1237.7 1026.1 1238.0 1005.9 1238.4 985.7 1238.7 1005.8 1239.1 1025.8 1239.4 1045.7 1239.7 1065.6 1240.1 1085.3 1240.4 1065.5 1240.8 1045.4 1241.2 1025.0 1241.5 1004.4 1241.9 983.5 1242.2 1004.6 1242.6 1026.0 1242.9 1047.6 1243.3 1069.5 1243.7 1091.6 1244.0 1063.1 1244.4 1035.0 1244.8 1007.4 1245.1 980.2 1245.5 1006.9 1245.9 1033.2 1246.3 1059.1 1246.6 1084.5 1247.0 1064.9 1247.3 1045.2 1247.7 1025.4 1248.0 1005.5 1248.3 985.5 1248.7 1005.6 1249.0 1025.8 1249.3 1046.0 1249.7 1066.3 1250.0 1086.8 1250.4 1065.2 1250.7 1043.7 1251.1 1022.3 1251.5 1001.1 1251.8 1001.1 1252.2 1022.0 1252.5 1042.9 1252.9 1063.6 1253.3 1084.2 1253.6 1065.6 1253.9 1047.3 1254.3 1029.1 1254.6 1011.1 1254.9 993.3 1255.3 993.3 1255.6 1010.8 1255.9 1028.1 1256.3 1045.3 1256.6 1062.2 1256.9 1079.1 1257.3 1055.8 1257.7 1032.0 1258.0 1007.6 1258.4 982.7 1258.7 1008.2 1259.1 1034.3 1259.5 1061.0 1259.8 1088.2 1260.2 1062.7 1260.6 1037.4 1260.9 1012.2 1261.3 987.3 1261.7 1012.0 1262.0 1036.6 1262.4 1061.0 1262.8 1085.2 1263.1 1064.7 1263.5 1044.2 1263.8 1023.6 1264.2 1003.1 1264.5 982.5 1264.9 1003.1 1265.2 1023.7 1265.6 1044.3 1265.9 1065.0 1266.3 1085.6 1266.6 1065.3 1266.9 1044.9 1267.3 1024.4 1267.6 1003.7 1268.0 982.9 1268.3 1003.9 1268.7 1024.9 1269.0 1046.1 1269.4 1067.4 1269.7 1088.9 1270.1 1065.7 1270.4 1042.5 1270.8 1019.2 1271.1 995.8 1271.5 972.5 1271.8 995.9 1272.2 1019.4 1272.5 1042.9 1272.9 1066.4 1273.2 1090.0 1273.6 1066.7 1273.9 1043.5 1274.3 1020.3 1274.7 997.2 1275.0 997.2 1275.4 1020.1 1275.7 1043.0 1276.1 1065.7 1276.5 1088.4 1276.8 1065.3 1277.2 1042.3 1277.5 1019.4 1277.9 996.7 1278.2 996.7 1278.6 1019.1 1278.9 1041.4 1279.3 1063.6 1279.7 1085.6 1280.0 1062.2 1280.4 1038.7 1280.7 1015.2 1281.1 991.8 1281.4 991.8 1281.8 1015.3 1282.2 1038.8 1282.5 1062.3 1282.9 1085.8 1283.2 1059.2 1283.6 1032.8 1284.0 1006.5 1284.3 980.3 1284.7 1006.3 1285.1 1032.2 1285.4 1057.9 1285.8 1083.5 1286.1 1059.6 1286.5 1035.7 1286.9 1011.7 1287.2 987.7 1287.6 987.7 1288.0 1011.8 1288.3 1036.0 1288.7 1060.3 1289.0 1084.6 1289.4 1065.2 1289.8 1045.7 1290.1 1026.3 1290.5 1006.8 1290.9 987.3 1291.2 1006.9 1291.6 1026.4 1292.0 1045.9 1292.3 1065.5 1292.7 1085.1 1293.1 1062.4 1293.4 1039.6 1293.8 1016.6 1294.1 993.5 1294.5 993.6 1294.8 1016.9 1295.2 1040.3 1295.5 1063.9 1295.9 1087.5 1296.2 1063.9 1296.6 1040.2 1297.0 1016.4 1297.3 992.6 1297.7 992.6 1298.0 1016.6 1298.4 1040.6 1298.7 1064.8 1299.1 1088.9 1299.5 1065.3 1299.8 1041.8 1300.2 1018.4 1300.5 995.3 1300.9 972.3 1301.2 995.1 1301.6 1017.8 1301.9 1040.3 1302.3 1062.7 1302.6 1084.9 1303.0 1064.3 1303.3 1044.2 1303.7 1024.5 1304.0 1005.3 1304.3 986.6 1304.7 1004.9 1305.0 1022.6 1305.3 1039.9 1305.7 1056.8 1306.0 1073.1 1306.4 1056.6 1306.7 1039.9 1307.1 1023.0 1307.4 1005.9 1307.7 988.6 1308.1 1006.0 1308.4 1023.7 1308.8 1041.5 1309.1 1059.5 1309.5 1077.7 1309.8 1060.7 1310.1 1043.6 1310.5 1026.3 1310.8 1009.0 1311.1 991.5 1311.5 991.6 1311.8 1009.2 1312.1 1027.0 1312.5 1044.8 1312.8 1062.8 1313.1 1080.9 1313.5 1056.8 1313.8 1032.5 1314.2 1008.0 1314.5 983.3 1314.9 1008.2 1315.2 1033.4 1315.6 1058.8 1315.9 1084.5 1316.3 1064.4 1316.7 1044.3 1317.0 1023.9 1317.4 1003.5 1317.7 982.9 1318.1 1003.6 1318.4 1024.5 1318.8 1045.5 1319.1 1066.7 1319.5 1088.0 1319.9 1067.0 1320.2 1045.9 1320.6 1024.9 1320.9 1003.8 1321.3 982.8 1321.6 1003.8 1322.0 1024.9 1322.3 1046.0 1322.7 1067.1 1323.0 1088.2 1323.4 1066.9 1323.8 1045.7 1324.1 1024.7 1324.5 1003.9 1324.8 983.3 1325.2 1003.8 1325.5 1024.1 1325.9 1044.2 1326.2 1064.1 1326.6 1083.9 1326.9 1062.0 1327.3 1040.3 1327.6 1018.9 1328.0 997.6 1328.3 976.5 1328.7 997.4 1329.0 1018.0 1329.4 1038.4 1329.7 1058.6 1330.1 1078.7 1330.4 1057.5 1330.8 1035.9 1331.2 1014.0 1331.6 991.8 1331.9 991.8 1332.3 1014.8 1332.7 1038.1 1333.0 1061.8 1333.4 1085.8 1333.8 1062.8 1334.1 1039.9 1334.5 1017.2 1334.8 994.6 1335.2 994.6 1335.6 1016.9 1335.9 1039.2 1336.3 1061.3 1336.6 1083.3 1337.0 1062.5 1337.4 1041.7 1337.7 1021.0 1338.1 1000.3 1338.5 979.6 1338.8 1000.2 1339.2 1020.9 1339.6 1041.5 1339.9 1062.0 1340.3 1082.6 1340.7 1060.5 1341.0 1038.1 1341.4 1015.4 1341.7 992.4 1342.1 992.4 1342.5 1016.1 1342.8 1040.1 1343.2 1064.4 1343.5 1089.0 1343.9 1062.1 1344.3 1035.6 1344.6 1009.3 1345.0 983.4 1345.4 1009.0 1345.8 1034.4 1346.1 1059.5 1346.5 1084.2 1346.9 1063.1 1347.2 1041.9 1347.6 1020.5 1347.9 999.1 1348.3 977.7 1348.6 999.2 1349.0 1020.9 1349.4 1042.6 1349.7 1064.5 1350.1 1086.4 1350.4 1067.5 1350.8 1048.6 1351.1 1029.5 1351.4 1010.4 1351.8 991.2 1352.1 991.2 1352.4 1010.6 1352.8 1030.0 1353.1 1049.6 1353.5 1069.2 1353.8 1088.9 1354.2 1065.8 1354.5 1042.9 1354.9 1020.1 1355.3 997.4 1355.6 997.3 1356.0 1019.8 1356.4 1042.3 1356.8 1064.6 1357.1 1086.8 1357.5 1067.8 1357.8 1048.9 1358.2 1030.2 1358.5 1011.6 1358.9 993.2 1359.2 993.1 1359.5 1011.2 1359.9 1029.2 1360.2 1047.0 1360.6 1064.7 1360.9 1082.2 1361.3 1060.2 1361.6 1037.9 1362.0 1015.2 1362.3 992.1 1362.7 992.2 1363.0 1016.0 1363.4 1040.3 1363.7 1064.9 1364.0 1089.9 1364.4 1063.9 1364.8 1038.4 1365.1 1013.4 1365.5 988.8 1365.9 988.7 1366.2 1012.3 1366.6 1035.3 1367.0 1057.9 1367.3 1080.0 1367.7 1058.6 1368.0 1037.1 1368.4 1015.6 1368.7 993.9 1369.1 994.0 1369.4 1015.8 1369.8 1037.7 1370.1 1059.7 1370.5 1081.7 1370.8 1063.5 1371.2 1045.0 1371.5 1026.4 1371.8 1007.6 1372.2 988.6 1372.5 1007.8 1372.9 1027.1 1373.2 1046.6 1373.5 1066.3 1373.9 1086.1 1374.2 1065.1 1374.6 1044.2 1374.9 1023.3 1375.3 1002.5 1375.6 981.7 1375.9 1002.4 1376.3 1023.0 1376.6 1043.5 1377.0 1063.9 1377.3 1084.3 1377.7 1063.0 1378.0 1041.8 1378.3 1020.9 1378.7 1000.1 1379.0 979.5 1379.4 999.9 1379.7 1020.2 1380.1 1040.3 1380.4 1060.3 1380.7 1080.1 1381.1 1058.2 1381.5 1036.0 1381.8 1013.3 1382.2 990.3 1382.5 990.4 1382.9 1014.2 1383.3 1038.3 1383.6 1062.8 1384.0 1087.7 1384.3 1066.1 1384.7 1044.4 1385.0 1022.7 1385.4 1000.9 1385.7 979.0 1386.1 1001.0 1386.5 1022.9 1386.8 1045.0 1387.2 1067.0 1387.5 1089.2 1387.9 1067.1 1388.2 1044.9 1388.6 1022.7 1388.9 1000.4 1389.3 978.0 1389.6 1000.4 1389.9 1022.9 1390.3 1045.5 1390.6 1068.1 1391.0 1090.8 1391.3 1066.4 1391.7 1042.4 1392.0 1018.9 1392.4 995.9 1392.7 995.7 1393.1 1017.8 1393.5 1039.4 1393.8 1060.6 1394.2 1081.2 1394.5 1058.2 1394.9 1035.3 1395.2 1012.5 1395.6 989.7 1395.9 989.6 1396.3 1012.3 1396.7 1034.9 1397.0 1057.5 1397.4 1079.9 1397.7 1062.2 1398.1 1044.3 1398.4 1026.3 1398.8 1008.1 1399.1 989.7 1399.4 989.8 1399.8 1008.5 1400.1 1027.3 1400.5 1046.3 1400.8 1065.5 1401.2 1084.9 1401.5 1063.9 1401.9 1043.1 1402.2 1022.4 1402.6 1001.8 1402.9 981.3 1403.3 1001.7 1403.6 1021.9 1404.0 1042.1 1404.3 1062.1 1404.7 1082.1 1405.0 1057.7 1405.4 1033.4 1405.7 1009.2 1406.1 985.1 1406.4 985.1 1406.8 1009.1 1407.1 1033.0 1407.5 1056.8 1407.8 1080.6 1408.2 1057.9 1408.5 1034.8 1408.9 1011.3 1409.2 987.5 1409.6 987.6 1409.9 1012.1 1410.3 1037.0 1410.6 1062.2 1411.0 1087.8 1411.3 1064.3 1411.7 1041.2 1412.0 1018.5 1412.4 996.2 1412.7 996.1 1413.1 1017.6 1413.4 1038.8 1413.8 1059.5 1414.1 1079.9 1414.5 1060.6 1414.8 1041.0 1415.2 1020.9 1415.5 1000.6 1415.9 979.8 1416.2 1000.9 1416.6 1022.4 1416.9 1044.2 1417.2 1066.4 1417.6 1089.0 1417.9 1067.7 1418.3 1046.6 1418.6 1025.5 1418.9 1004.6 1419.3 983.8 1419.6 1004.5 1420.0 1025.1 1420.3 1045.6 1420.7 1065.9 1421.0 1086.2 1421.3 1065.3 1421.7 1044.4 1422.0 1023.5 1422.3 1002.5 1422.7 981.4 1423.0 1002.5 1423.3 1023.7 1423.7 1044.9 1424.0 1066.2 1424.3 1087.5 1424.7 1063.4 1425.0 1039.2 1425.4 1015.1 1425.7 990.9 1426.1 990.9 1426.4 1015.1 1426.8 1039.4 1427.1 1063.7 1427.5 1088.1 1427.8 1063.8 1428.2 1039.8 1428.5 1016.3 1428.9 993.1 1429.2 993.0 1429.6 1015.4 1429.9 1037.5 1430.2 1059.2 1430.6 1080.5 1430.9 1061.7 1431.3 1042.6 1431.6 1023.3 1432.0 1003.6 1432.3 983.7 1432.6 1003.9 1433.0 1024.3 1433.3 1045.1 1433.6 1066.1 1434.0 1087.4 1434.4 1064.2 1434.7 1040.7 1435.1 1017.0 1435.5 993.0 1435.8 993.1 1436.2 1017.6 1436.6 1042.3 1436.9 1067.3 1437.3 1092.6 1437.7 1069.7 1438.0 1047.2 1438.3 1025.1 1438.7 1003.4 1439.0 982.1 1439.4 1003.0 1439.7 1023.5 1440.1 1043.6 1440.4 1063.3 1440.7 1082.6 1441.1 1063.0 1441.4 1043.0 1441.8 1022.6 1442.1 1001.9 1442.5 980.9 1442.8 1002.3 1443.2 1024.1 1443.5 1046.2 1443.9 1068.7 1444.2 1091.6" fill="none" stroke="#1e0aa8" stroke-width="1.35" stroke-linejoin="round"/>
</svg></body></html>
